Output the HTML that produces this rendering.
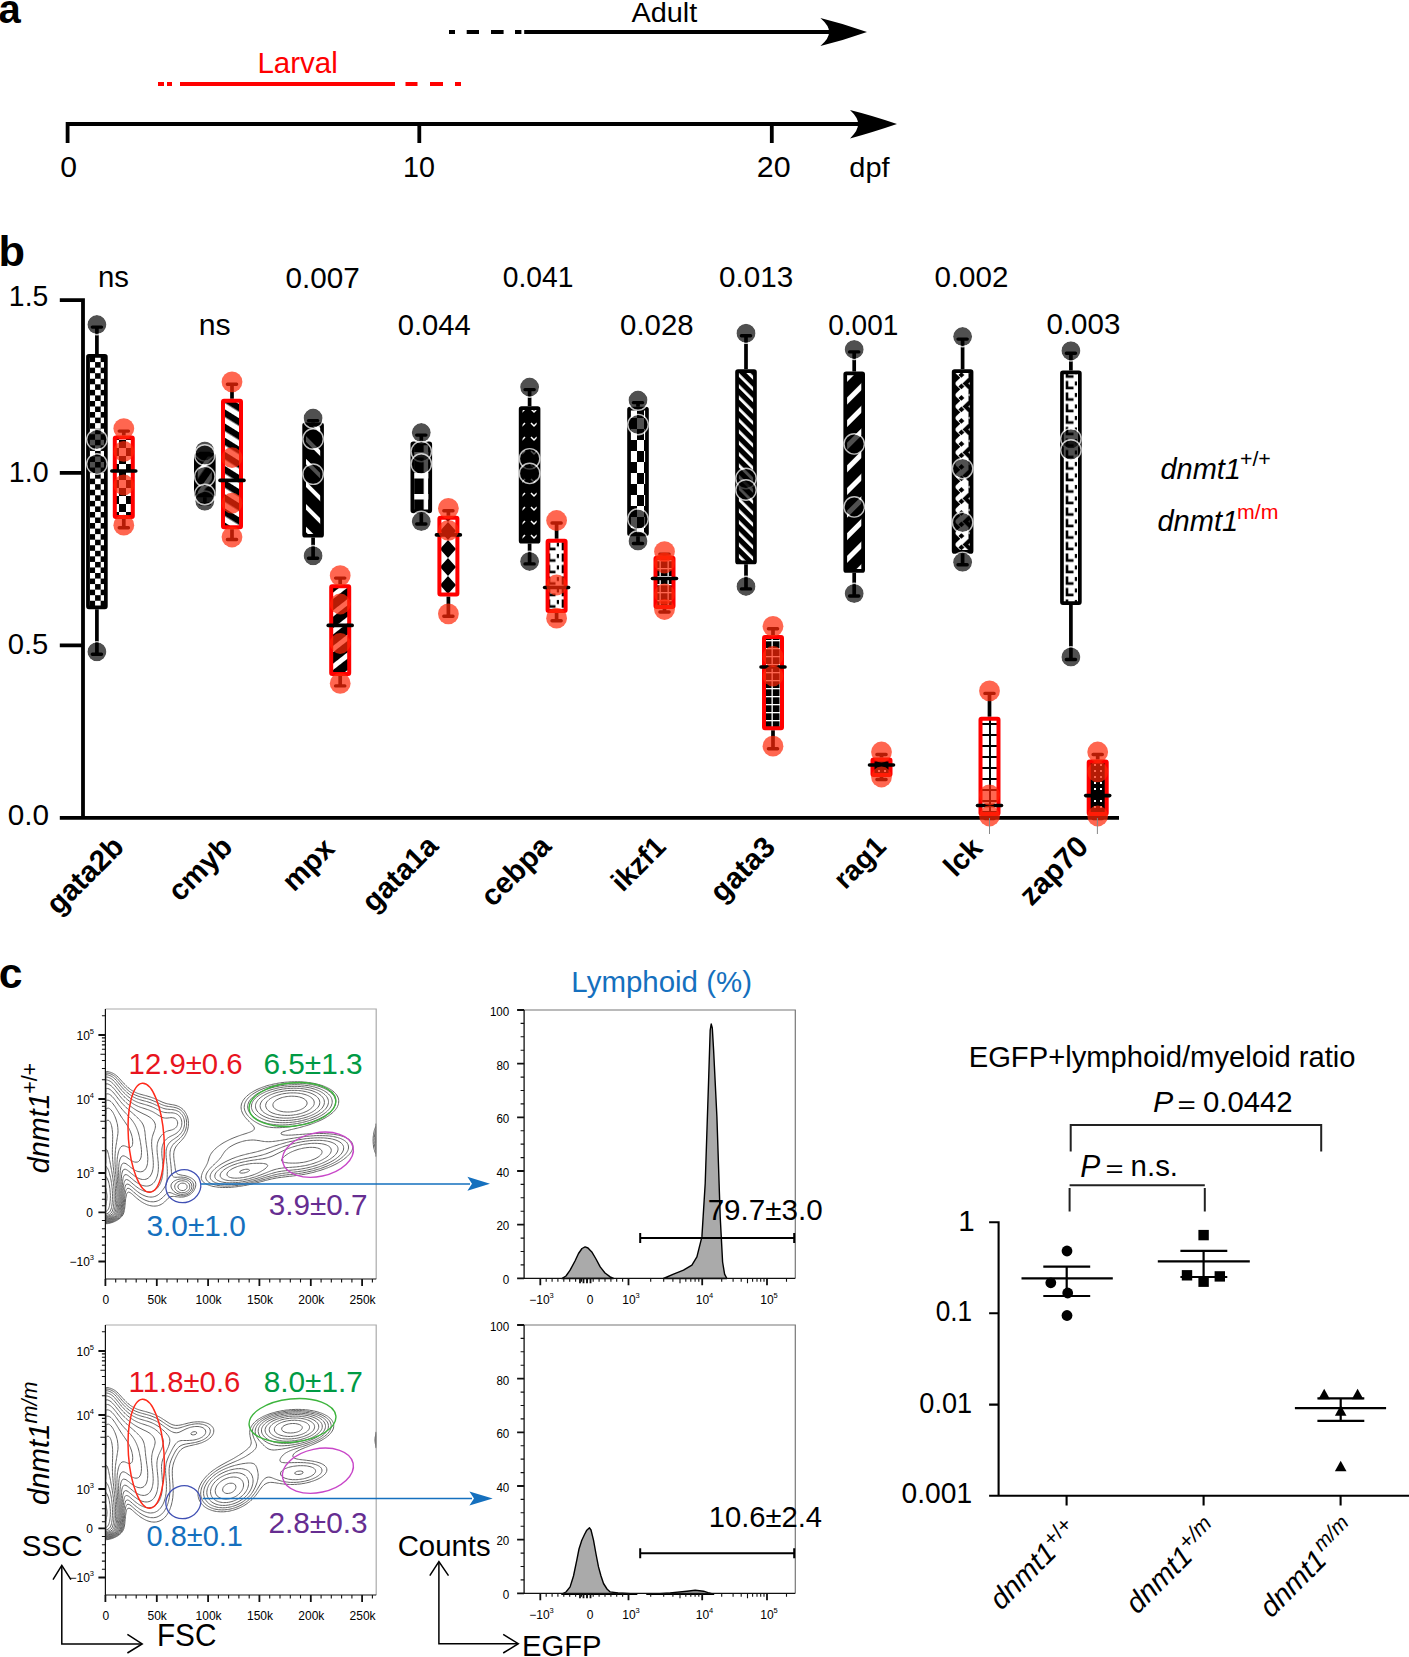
<!DOCTYPE html>
<html><head><meta charset="utf-8"><style>
html,body{margin:0;padding:0;background:#fff;}
svg{display:block;}
text{font-family:"Liberation Sans", sans-serif;}
</style></head><body>
<svg width="1409" height="1657" viewBox="0 0 1409 1657" font-family="&quot;Liberation Sans&quot;, sans-serif">
<defs><pattern id="chk5" x="95.1" y="362.1" patternUnits="userSpaceOnUse" width="11.1" height="11.1"><rect width="11.1" height="11.1" fill="#fff"/><rect width="5.55" height="5.55" fill="#000"/><rect x="5.55" y="5.55" width="5.55" height="5.55" fill="#000"/></pattern><pattern id="chk7" patternUnits="userSpaceOnUse" width="14" height="16"><rect width="14" height="16" fill="#fff"/><rect width="7" height="8" fill="#000"/><rect x="7" y="8" width="7" height="8" fill="#000"/></pattern><pattern id="dgR" patternUnits="userSpaceOnUse" width="12" height="12" patternTransform="rotate(-58)"><rect width="12" height="12" fill="#000"/><rect width="5.5" height="12" fill="#fff"/><rect x="5.5" width="0" height="12"/></pattern><pattern id="dgB" patternUnits="userSpaceOnUse" width="12" height="12" patternTransform="rotate(35)"><rect width="12" height="12" fill="#000"/><rect width="4.5" height="12" fill="#fff"/></pattern><pattern id="dgC" patternUnits="userSpaceOnUse" width="16" height="16" patternTransform="rotate(45)"><rect width="16" height="16" fill="#000"/><rect width="5" height="16" fill="#fff"/></pattern><pattern id="blkE" patternUnits="userSpaceOnUse" width="14.1" height="21" x="414.2" y="473"><rect width="14.1" height="21" fill="#000"/><rect x="9.5" width="5" height="21" fill="#fff"/><rect width="10" height="5.5" fill="#fff"/></pattern><pattern id="dgM" patternUnits="userSpaceOnUse" width="16" height="16" patternTransform="rotate(-45)"><rect width="16" height="16" fill="#000"/><rect width="4" height="16" fill="#fff"/></pattern><pattern id="dgMR" patternUnits="userSpaceOnUse" width="14" height="14" patternTransform="rotate(52)"><rect width="14" height="14" fill="#000"/><rect width="5" height="14" fill="#fff"/></pattern><pattern id="dgA" patternUnits="userSpaceOnUse" width="8" height="8" patternTransform="rotate(-45)"><rect width="8" height="8" fill="#000"/><rect width="2.8" height="8" fill="#fff"/></pattern><pattern id="blkv" patternUnits="userSpaceOnUse" width="12" height="14"><rect width="12" height="14" fill="#000"/><path d="M3 3 l3 3 l3 -3" stroke="#fff" stroke-width="1.5" fill="none"/></pattern><pattern id="Lw" patternUnits="userSpaceOnUse" width="14" height="11.5"><rect width="14" height="11.5" fill="#fff"/><path d="M3 1.5 v7 h6.5" stroke="#000" stroke-width="2.6" fill="none"/><rect x="10.8" y="2" width="2.2" height="4" fill="#000"/></pattern><pattern id="zig" patternUnits="userSpaceOnUse" width="14.2" height="23" x="954.3" y="372"><rect width="14.2" height="23" fill="#fff"/><path d="M0 0 L6 5.75 L0 11.5 Z M14.2 5.75 L8.2 11.5 L14.2 17.25 Z M0 11.5 L6 17.25 L0 23 Z" fill="#000"/><path d="M7.1 0 L10 2.9 L7.1 5.8 L4.2 2.9 Z M7.1 11.5 L10 14.4 L7.1 17.3 L4.2 14.4 Z" fill="#000"/></pattern><pattern id="ladder" patternUnits="userSpaceOnUse" width="20" height="11"><rect width="20" height="11" fill="#fff"/><rect x="0" y="8" width="20" height="2" fill="#000"/><rect x="9" y="0" width="2" height="11" fill="#000"/></pattern><pattern id="grid" patternUnits="userSpaceOnUse" width="8" height="8"><rect width="8" height="8" fill="#000"/><rect x="0" y="0" width="8" height="1.3" fill="#fff"/><rect x="3.5" y="0" width="1.3" height="8" fill="#fff"/></pattern><pattern id="dots" patternUnits="userSpaceOnUse" width="6" height="6"><rect width="6" height="6" fill="#000"/><rect x="2" y="2" width="2" height="2" fill="#fff"/></pattern><pattern id="blocks" patternUnits="userSpaceOnUse" width="14" height="22"><rect width="14" height="22" fill="#fff"/><rect x="0" y="0" width="7" height="11" fill="#000"/><rect x="7" y="11" width="7" height="11" fill="#000"/></pattern><pattern id="xdia" patternUnits="userSpaceOnUse" width="16" height="18"><rect width="16" height="18" fill="#000"/><path d="M0 0 L8 9 L16 0 Z M0 18 L8 9 L16 18 Z" fill="#fff"/></pattern><pattern id="blkw" patternUnits="userSpaceOnUse" width="20" height="30"><rect width="20" height="30" fill="#000"/><rect x="6" y="8" width="5" height="14" fill="#fff"/></pattern></defs>
<rect width="1409" height="1657" fill="#fff"/>
<text x="-1.50" y="22.60" font-size="40.00" font-weight="bold">a</text>
<path d="M67.6 143 V124 H858" stroke="#000" stroke-width="3.8" fill="none"/>
<path d="M419.3 124 V143 M771.8 124 V143" stroke="#000" stroke-width="3.8" fill="none"/>
<path d="M897 124 Q872 115.5 850 110 Q858.5 118 858 124 Q858.5 130 850 138.5 Q872 132.5 897 124 Z" fill="#000"/>
<text transform="translate(60.19 177.40) scale(1 0.980)" font-size="30.16">0</text>
<text transform="translate(402.95 177.11) scale(1 1.016)" font-size="28.67">10</text>
<text transform="translate(756.78 177.20) scale(1 0.971)" font-size="30.42">20</text>
<text transform="translate(849.37 176.88) scale(1 0.985)" font-size="28.96">dpf</text>
<path d="M158 84 H164 M167 84 H172 M180 84 H395 M405.5 84 H417.5 M430 84 H443 M455 84 H461" stroke="#ff0000" stroke-width="3.8" fill="none"/>
<text transform="translate(257.47 72.70) scale(1 1.014)" font-size="29.51" fill="#ff0000">Larval</text>
<path d="M449 32 H455 M466.7 32 H479 M491 32 H503.6 M515 32 H521.4 M524.2 32 H830" stroke="#000" stroke-width="3.8" fill="none"/>
<path d="M867 32 Q843 23.5 820.4 18 Q829.5 26 829 32 Q829.5 38 820.4 46 Q843 40.5 867 32 Z" fill="#000"/>
<text transform="translate(631.43 21.62) scale(1 0.984)" font-size="28.90">Adult</text>
<text x="-1.52" y="265.67" font-size="43.37" font-weight="bold">b</text>
<path d="M59.8 300.1 H83 V818 M59.8 472.8 H83 M59.8 645.4 H83 M59.8 817.9 H1119" stroke="#000" stroke-width="3.8" fill="none"/>
<text transform="translate(8.87 306.40) scale(1 1.045)" font-size="28.39">1.5</text>
<text transform="translate(8.85 481.51) scale(1 1.026)" font-size="28.65">1.0</text>
<text x="7.73" y="654.41" font-size="29.24">0.5</text>
<text x="7.71" y="825.40" font-size="29.71">0.0</text>
<text transform="translate(98.02 287.30) scale(1 1.025)" font-size="29.40">ns</text>
<text x="285.51" y="287.51" font-size="29.68">0.007</text>
<text transform="translate(502.77 287.21) scale(1 1.031)" font-size="28.24">0.041</text>
<text transform="translate(719.11 287.21) scale(1 0.983)" font-size="29.63">0.013</text>
<text transform="translate(934.42 287.21) scale(1 0.985)" font-size="29.55">0.002</text>
<text x="198.66" y="334.50" font-size="30.24">ns</text>
<text x="397.73" y="334.51" font-size="29.16">0.044</text>
<text x="620.12" y="334.51" font-size="29.38">0.028</text>
<text transform="translate(828.18 334.51) scale(1 1.039)" font-size="28.03">0.001</text>
<text transform="translate(1046.52 334.31) scale(1 0.977)" font-size="29.50">0.003</text>
<text transform="translate(58.25 915.88) rotate(-45)" font-size="29.54" font-weight="bold">gata2b</text>
<text transform="translate(179.99 902.75) rotate(-45)" font-size="29.31" font-weight="bold">cmyb</text>
<text transform="translate(293.89 892.75) rotate(-45)" font-size="29.19" font-weight="bold">mpx</text>
<text transform="translate(373.80 913.55) rotate(-45)" font-size="29.46" font-weight="bold">gata1a</text>
<text transform="translate(492.64 907.92) rotate(-45)" font-size="29.41" font-weight="bold">cebpa</text>
<text transform="translate(622.66 893.06) rotate(-45)" font-size="28.45" font-weight="bold">ikzf1</text>
<text transform="translate(722.09 903.70) rotate(-45)" font-size="29.65" font-weight="bold">gata3</text>
<text transform="translate(845.25 890.43) rotate(-45)" font-size="28.37" font-weight="bold">rag1</text>
<text transform="translate(955.38 878.34) rotate(-45)" font-size="29.13" font-weight="bold">lck</text>
<text transform="translate(1031.38 906.93) rotate(-45)" font-size="29.83" font-weight="bold">zap70</text>
<text x="1160.46" y="479.01" font-size="28.96" font-style="italic">dnmt1</text>
<text transform="translate(1239.93 466.49) scale(1 0.987)" font-size="21.37">+/+</text>
<text transform="translate(1157.46 531.41) scale(1 1.012)" font-size="29.03" font-style="italic">dnmt1</text>
<text transform="translate(1237.06 518.59) scale(1 0.966)" font-size="21.27" fill="#ff0000">m/m</text>
<path d="M96.9 327.1 V354 M96.9 609.2 V654.3" stroke="#000" stroke-width="3.7" fill="none"/><path d="M92.30000000000001 327.1 H101.5 M92.30000000000001 654.3 H101.5" stroke="#000" stroke-width="3.4" stroke-linecap="round" fill="none"/><rect x="87.95" y="355.85" width="17.90" height="251.50" rx="1" fill="url(#chk5)" stroke="#000" stroke-width="3.7"/><circle cx="96.9" cy="324.6" r="9.5" fill="rgba(0,0,0,0.686)"/><circle cx="96.9" cy="324.6" r="10.2" fill="none" stroke="rgba(255,255,255,0.75)" stroke-width="1.4"/><circle cx="96.9" cy="651.8" r="9.5" fill="rgba(0,0,0,0.686)"/><circle cx="96.9" cy="651.8" r="10.2" fill="none" stroke="rgba(255,255,255,0.75)" stroke-width="1.4"/><circle cx="96.9" cy="439.6" r="9.5" fill="rgba(0,0,0,0.686)"/><circle cx="96.9" cy="439.6" r="10.2" fill="none" stroke="rgba(255,255,255,0.75)" stroke-width="1.4"/><circle cx="96.9" cy="464" r="9.5" fill="rgba(0,0,0,0.686)"/><circle cx="96.9" cy="464" r="10.2" fill="none" stroke="rgba(255,255,255,0.75)" stroke-width="1.4"/>
<path d="M204.8 453.4 V452.9 M204.8 497.3 V503.7" stroke="#000" stroke-width="3.7" fill="none"/><path d="M200.20000000000002 453.4 H209.4 M200.20000000000002 503.7 H209.4" stroke="#000" stroke-width="3.4" stroke-linecap="round" fill="none"/><rect x="195.85" y="454.75" width="17.90" height="40.70" rx="1" fill="url(#dgB)" stroke="#000" stroke-width="3.7"/><circle cx="204.8" cy="450.9" r="9.5" fill="rgba(0,0,0,0.686)"/><circle cx="204.8" cy="450.9" r="10.2" fill="none" stroke="rgba(255,255,255,0.75)" stroke-width="1.4"/><circle cx="204.8" cy="501.2" r="9.5" fill="rgba(0,0,0,0.686)"/><circle cx="204.8" cy="501.2" r="10.2" fill="none" stroke="rgba(255,255,255,0.75)" stroke-width="1.4"/><circle cx="204.8" cy="455" r="9.5" fill="rgba(0,0,0,0.686)"/><circle cx="204.8" cy="455" r="10.2" fill="none" stroke="rgba(255,255,255,0.75)" stroke-width="1.4"/><circle cx="204.8" cy="476.5" r="9.5" fill="rgba(0,0,0,0.686)"/><circle cx="204.8" cy="476.5" r="10.2" fill="none" stroke="rgba(255,255,255,0.75)" stroke-width="1.4"/><circle cx="204.8" cy="494.5" r="9.5" fill="rgba(0,0,0,0.686)"/><circle cx="204.8" cy="494.5" r="10.2" fill="none" stroke="rgba(255,255,255,0.75)" stroke-width="1.4"/>
<path d="M313.1 420.6 V422.6 M313.1 537.6 V558.2" stroke="#000" stroke-width="3.7" fill="none"/><path d="M308.5 420.6 H317.70000000000005 M308.5 558.2 H317.70000000000005" stroke="#000" stroke-width="3.4" stroke-linecap="round" fill="none"/><rect x="304.15" y="424.45" width="17.90" height="111.30" rx="1" fill="url(#dgM)" stroke="#000" stroke-width="3.7"/><circle cx="313.1" cy="418.1" r="9.5" fill="rgba(0,0,0,0.686)"/><circle cx="313.1" cy="418.1" r="10.2" fill="none" stroke="rgba(255,255,255,0.75)" stroke-width="1.4"/><circle cx="313.1" cy="555.7" r="9.5" fill="rgba(0,0,0,0.686)"/><circle cx="313.1" cy="555.7" r="10.2" fill="none" stroke="rgba(255,255,255,0.75)" stroke-width="1.4"/><circle cx="313.1" cy="439" r="9.5" fill="rgba(0,0,0,0.686)"/><circle cx="313.1" cy="439" r="10.2" fill="none" stroke="rgba(255,255,255,0.75)" stroke-width="1.4"/><circle cx="313.1" cy="474.2" r="9.5" fill="rgba(0,0,0,0.686)"/><circle cx="313.1" cy="474.2" r="10.2" fill="none" stroke="rgba(255,255,255,0.75)" stroke-width="1.4"/>
<path d="M421.3 435.1 V441.6 M421.3 513.2 V524.0" stroke="#000" stroke-width="3.7" fill="none"/><path d="M416.7 435.1 H425.90000000000003 M416.7 524.0 H425.90000000000003" stroke="#000" stroke-width="3.4" stroke-linecap="round" fill="none"/><rect x="412.35" y="443.45" width="17.90" height="67.90" rx="1" fill="url(#blkE)" stroke="#000" stroke-width="3.7"/><circle cx="421.3" cy="432.6" r="9.5" fill="rgba(0,0,0,0.686)"/><circle cx="421.3" cy="432.6" r="10.2" fill="none" stroke="rgba(255,255,255,0.75)" stroke-width="1.4"/><circle cx="421.3" cy="521.5" r="9.5" fill="rgba(0,0,0,0.686)"/><circle cx="421.3" cy="521.5" r="10.2" fill="none" stroke="rgba(255,255,255,0.75)" stroke-width="1.4"/><circle cx="421.3" cy="451.6" r="9.5" fill="rgba(0,0,0,0.686)"/><circle cx="421.3" cy="451.6" r="10.2" fill="none" stroke="rgba(255,255,255,0.75)" stroke-width="1.4"/><circle cx="421.3" cy="464" r="9.5" fill="rgba(0,0,0,0.686)"/><circle cx="421.3" cy="464" r="10.2" fill="none" stroke="rgba(255,255,255,0.75)" stroke-width="1.4"/>
<path d="M529.6 389.6 V406.2 M529.6 543.5 V563.9" stroke="#000" stroke-width="3.7" fill="none"/><path d="M525.0 389.6 H534.2 M525.0 563.9 H534.2" stroke="#000" stroke-width="3.4" stroke-linecap="round" fill="none"/><rect x="520.65" y="408.05" width="17.90" height="133.60" rx="1" fill="url(#blkv)" stroke="#000" stroke-width="3.7"/><circle cx="529.6" cy="387.1" r="9.5" fill="rgba(0,0,0,0.686)"/><circle cx="529.6" cy="387.1" r="10.2" fill="none" stroke="rgba(255,255,255,0.75)" stroke-width="1.4"/><circle cx="529.6" cy="561.4" r="9.5" fill="rgba(0,0,0,0.686)"/><circle cx="529.6" cy="561.4" r="10.2" fill="none" stroke="rgba(255,255,255,0.75)" stroke-width="1.4"/><circle cx="529.6" cy="458.8" r="9.5" fill="rgba(0,0,0,0.686)"/><circle cx="529.6" cy="458.8" r="10.2" fill="none" stroke="rgba(255,255,255,0.75)" stroke-width="1.4"/><circle cx="529.6" cy="473.4" r="9.5" fill="rgba(0,0,0,0.686)"/><circle cx="529.6" cy="473.4" r="10.2" fill="none" stroke="rgba(255,255,255,0.75)" stroke-width="1.4"/>
<path d="M638.0 402.6 V406.7 M638.0 536.2 V543.5" stroke="#000" stroke-width="3.7" fill="none"/><path d="M633.4 402.6 H642.6 M633.4 543.5 H642.6" stroke="#000" stroke-width="3.4" stroke-linecap="round" fill="none"/><rect x="629.05" y="408.55" width="17.90" height="125.80" rx="1" fill="url(#blocks)" stroke="#000" stroke-width="3.7"/><circle cx="638.0" cy="400.1" r="9.5" fill="rgba(0,0,0,0.686)"/><circle cx="638.0" cy="400.1" r="10.2" fill="none" stroke="rgba(255,255,255,0.75)" stroke-width="1.4"/><circle cx="638.0" cy="541" r="9.5" fill="rgba(0,0,0,0.686)"/><circle cx="638.0" cy="541" r="10.2" fill="none" stroke="rgba(255,255,255,0.75)" stroke-width="1.4"/><circle cx="638.0" cy="424.6" r="9.5" fill="rgba(0,0,0,0.686)"/><circle cx="638.0" cy="424.6" r="10.2" fill="none" stroke="rgba(255,255,255,0.75)" stroke-width="1.4"/><circle cx="638.0" cy="519" r="9.5" fill="rgba(0,0,0,0.686)"/><circle cx="638.0" cy="519" r="10.2" fill="none" stroke="rgba(255,255,255,0.75)" stroke-width="1.4"/>
<path d="M746.0 335.7 V369.2 M746.0 564.3 V588.9" stroke="#000" stroke-width="3.7" fill="none"/><path d="M741.4 335.7 H750.6 M741.4 588.9 H750.6" stroke="#000" stroke-width="3.4" stroke-linecap="round" fill="none"/><rect x="737.05" y="371.05" width="17.90" height="191.40" rx="1" fill="url(#dgA)" stroke="#000" stroke-width="3.7"/><circle cx="746.0" cy="333.2" r="9.5" fill="rgba(0,0,0,0.686)"/><circle cx="746.0" cy="333.2" r="10.2" fill="none" stroke="rgba(255,255,255,0.75)" stroke-width="1.4"/><circle cx="746.0" cy="586.4" r="9.5" fill="rgba(0,0,0,0.686)"/><circle cx="746.0" cy="586.4" r="10.2" fill="none" stroke="rgba(255,255,255,0.75)" stroke-width="1.4"/><circle cx="746.0" cy="478.5" r="9.5" fill="rgba(0,0,0,0.686)"/><circle cx="746.0" cy="478.5" r="10.2" fill="none" stroke="rgba(255,255,255,0.75)" stroke-width="1.4"/><circle cx="746.0" cy="490" r="9.5" fill="rgba(0,0,0,0.686)"/><circle cx="746.0" cy="490" r="10.2" fill="none" stroke="rgba(255,255,255,0.75)" stroke-width="1.4"/>
<path d="M854.2 351.9 V371.5 M854.2 572.8 V596.0" stroke="#000" stroke-width="3.7" fill="none"/><path d="M849.6 351.9 H858.8000000000001 M849.6 596.0 H858.8000000000001" stroke="#000" stroke-width="3.4" stroke-linecap="round" fill="none"/><rect x="845.25" y="373.35" width="17.90" height="197.60" rx="1" fill="url(#dgC)" stroke="#000" stroke-width="3.7"/><circle cx="854.2" cy="349.4" r="9.5" fill="rgba(0,0,0,0.686)"/><circle cx="854.2" cy="349.4" r="10.2" fill="none" stroke="rgba(255,255,255,0.75)" stroke-width="1.4"/><circle cx="854.2" cy="593.5" r="9.5" fill="rgba(0,0,0,0.686)"/><circle cx="854.2" cy="593.5" r="10.2" fill="none" stroke="rgba(255,255,255,0.75)" stroke-width="1.4"/><circle cx="854.2" cy="443.9" r="9.5" fill="rgba(0,0,0,0.686)"/><circle cx="854.2" cy="443.9" r="10.2" fill="none" stroke="rgba(255,255,255,0.75)" stroke-width="1.4"/><circle cx="854.2" cy="506.9" r="9.5" fill="rgba(0,0,0,0.686)"/><circle cx="854.2" cy="506.9" r="10.2" fill="none" stroke="rgba(255,255,255,0.75)" stroke-width="1.4"/>
<path d="M962.6 339.1 V369.2 M962.6 553.8 V564.8" stroke="#000" stroke-width="3.7" fill="none"/><path d="M958.0 339.1 H967.2 M958.0 564.8 H967.2" stroke="#000" stroke-width="3.4" stroke-linecap="round" fill="none"/><rect x="953.65" y="371.05" width="17.90" height="180.90" rx="1" fill="url(#zig)" stroke="#000" stroke-width="3.7"/><circle cx="962.6" cy="336.6" r="9.5" fill="rgba(0,0,0,0.686)"/><circle cx="962.6" cy="336.6" r="10.2" fill="none" stroke="rgba(255,255,255,0.75)" stroke-width="1.4"/><circle cx="962.6" cy="562.3" r="9.5" fill="rgba(0,0,0,0.686)"/><circle cx="962.6" cy="562.3" r="10.2" fill="none" stroke="rgba(255,255,255,0.75)" stroke-width="1.4"/><circle cx="962.6" cy="468.6" r="9.5" fill="rgba(0,0,0,0.686)"/><circle cx="962.6" cy="468.6" r="10.2" fill="none" stroke="rgba(255,255,255,0.75)" stroke-width="1.4"/><circle cx="962.6" cy="522.5" r="9.5" fill="rgba(0,0,0,0.686)"/><circle cx="962.6" cy="522.5" r="10.2" fill="none" stroke="rgba(255,255,255,0.75)" stroke-width="1.4"/>
<path d="M1070.9 353.3 V370.6 M1070.9 604.9 V659.5" stroke="#000" stroke-width="3.7" fill="none"/><path d="M1066.3000000000002 353.3 H1075.5 M1066.3000000000002 659.5 H1075.5" stroke="#000" stroke-width="3.4" stroke-linecap="round" fill="none"/><rect x="1061.95" y="372.45" width="17.90" height="230.60" rx="1" fill="url(#Lw)" stroke="#000" stroke-width="3.7"/><circle cx="1070.9" cy="350.8" r="9.5" fill="rgba(0,0,0,0.686)"/><circle cx="1070.9" cy="350.8" r="10.2" fill="none" stroke="rgba(255,255,255,0.75)" stroke-width="1.4"/><circle cx="1070.9" cy="657" r="9.5" fill="rgba(0,0,0,0.686)"/><circle cx="1070.9" cy="657" r="10.2" fill="none" stroke="rgba(255,255,255,0.75)" stroke-width="1.4"/><circle cx="1070.9" cy="438.8" r="9.5" fill="rgba(0,0,0,0.686)"/><circle cx="1070.9" cy="438.8" r="10.2" fill="none" stroke="rgba(255,255,255,0.75)" stroke-width="1.4"/><circle cx="1070.9" cy="450" r="9.5" fill="rgba(0,0,0,0.686)"/><circle cx="1070.9" cy="450" r="10.2" fill="none" stroke="rgba(255,255,255,0.75)" stroke-width="1.4"/>
<path d="M123.8 431.1 V435.5 M123.8 518.9 V527.7" stroke="#000" stroke-width="3.7" fill="none"/><path d="M119.2 431.1 H128.4 M119.2 527.7 H128.4" stroke="#000" stroke-width="3.4" stroke-linecap="round" fill="none"/><rect x="114.80" y="437.50" width="18.00" height="79.40" rx="1" fill="url(#chk7)" stroke="#ff0000" stroke-width="4.0"/><path d="M111.8 471 H135.8" stroke="#000" stroke-width="3.6" stroke-linecap="round"/><circle cx="123.8" cy="428.6" r="10.4" fill="rgba(255,39,8,0.71)"/><circle cx="123.8" cy="525.2" r="10.4" fill="rgba(255,39,8,0.71)"/><circle cx="123.8" cy="451.4" r="10.4" fill="rgba(255,39,8,0.71)"/><circle cx="123.8" cy="485" r="10.4" fill="rgba(255,39,8,0.71)"/>
<path d="M232.0 384.3 V398.7 M232.0 529.2 V539.5" stroke="#000" stroke-width="3.7" fill="none"/><path d="M227.4 384.3 H236.6 M227.4 539.5 H236.6" stroke="#000" stroke-width="3.4" stroke-linecap="round" fill="none"/><rect x="223.00" y="400.70" width="18.00" height="126.50" rx="1" fill="url(#dgR)" stroke="#ff0000" stroke-width="4.0"/><path d="M220.0 480.4 H244.0" stroke="#000" stroke-width="3.6" stroke-linecap="round"/><circle cx="232.0" cy="381.8" r="10.4" fill="rgba(255,39,8,0.71)"/><circle cx="232.0" cy="537" r="10.4" fill="rgba(255,39,8,0.71)"/><circle cx="232.0" cy="457.7" r="10.4" fill="rgba(255,39,8,0.71)"/><circle cx="232.0" cy="503.2" r="10.4" fill="rgba(255,39,8,0.71)"/>
<path d="M340.2 578.1 V584.3 M340.2 676 V685.9" stroke="#000" stroke-width="3.7" fill="none"/><path d="M335.59999999999997 578.1 H344.8 M335.59999999999997 685.9 H344.8" stroke="#000" stroke-width="3.4" stroke-linecap="round" fill="none"/><rect x="331.20" y="586.30" width="18.00" height="87.70" rx="1" fill="url(#dgMR)" stroke="#ff0000" stroke-width="4.0"/><path d="M328.2 625.4 H352.2" stroke="#000" stroke-width="3.6" stroke-linecap="round"/><circle cx="340.2" cy="575.6" r="10.4" fill="rgba(255,39,8,0.71)"/><circle cx="340.2" cy="683.4" r="10.4" fill="rgba(255,39,8,0.71)"/><circle cx="340.2" cy="604" r="10.4" fill="rgba(255,39,8,0.71)"/><circle cx="340.2" cy="643.5" r="10.4" fill="rgba(255,39,8,0.71)"/>
<path d="M448.4 510.8 V515.8 M448.4 596.5 V616.3" stroke="#000" stroke-width="3.7" fill="none"/><path d="M443.79999999999995 510.8 H453.0 M443.79999999999995 616.3 H453.0" stroke="#000" stroke-width="3.4" stroke-linecap="round" fill="none"/><rect x="439.40" y="517.80" width="18.00" height="76.70" rx="1" fill="url(#xdia)" stroke="#ff0000" stroke-width="4.0"/><path d="M436.4 534.9 H460.4" stroke="#000" stroke-width="3.6" stroke-linecap="round"/><circle cx="448.4" cy="508.3" r="10.4" fill="rgba(255,39,8,0.71)"/><circle cx="448.4" cy="613.8" r="10.4" fill="rgba(255,39,8,0.71)"/><circle cx="448.4" cy="530.3" r="10.4" fill="rgba(255,39,8,0.71)"/>
<path d="M556.6 523.0 V538.8 M556.6 613 V620.7" stroke="#000" stroke-width="3.7" fill="none"/><path d="M552.0 523.0 H561.2 M552.0 620.7 H561.2" stroke="#000" stroke-width="3.4" stroke-linecap="round" fill="none"/><rect x="547.60" y="540.80" width="18.00" height="70.20" rx="1" fill="url(#Lw)" stroke="#ff0000" stroke-width="4.0"/><path d="M544.6 587.5 H568.6" stroke="#000" stroke-width="3.6" stroke-linecap="round"/><circle cx="556.6" cy="520.5" r="10.4" fill="rgba(255,39,8,0.71)"/><circle cx="556.6" cy="618.2" r="10.4" fill="rgba(255,39,8,0.71)"/><circle cx="556.6" cy="585" r="10.4" fill="rgba(255,39,8,0.71)"/>
<path d="M664.5 554.1 V555.7 M664.5 609 V612.0" stroke="#000" stroke-width="3.7" fill="none"/><path d="M659.9 554.1 H669.1 M659.9 612.0 H669.1" stroke="#000" stroke-width="3.4" stroke-linecap="round" fill="none"/><rect x="655.50" y="557.70" width="18.00" height="49.30" rx="1" fill="url(#grid)" stroke="#ff0000" stroke-width="4.0"/><path d="M652.5 578.5 H676.5" stroke="#000" stroke-width="3.6" stroke-linecap="round"/><circle cx="664.5" cy="551.6" r="10.4" fill="rgba(255,39,8,0.71)"/><circle cx="664.5" cy="609.5" r="10.4" fill="rgba(255,39,8,0.71)"/><circle cx="664.5" cy="563" r="10.4" fill="rgba(255,39,8,0.71)"/><circle cx="664.5" cy="594" r="10.4" fill="rgba(255,39,8,0.71)"/>
<path d="M773.0 628.8 V635 M773.0 730.3 V748.7" stroke="#000" stroke-width="3.7" fill="none"/><path d="M768.4 628.8 H777.6 M768.4 748.7 H777.6" stroke="#000" stroke-width="3.4" stroke-linecap="round" fill="none"/><rect x="764.00" y="637.00" width="18.00" height="91.30" rx="1" fill="url(#grid)" stroke="#ff0000" stroke-width="4.0"/><path d="M761.0 667 H785.0" stroke="#000" stroke-width="3.6" stroke-linecap="round"/><circle cx="773.0" cy="626.3" r="10.4" fill="rgba(255,39,8,0.71)"/><circle cx="773.0" cy="746.2" r="10.4" fill="rgba(255,39,8,0.71)"/><circle cx="773.0" cy="656.5" r="10.4" fill="rgba(255,39,8,0.71)"/><circle cx="773.0" cy="676" r="10.4" fill="rgba(255,39,8,0.71)"/>
<path d="M881.5 754.5 V757.6 M881.5 777 V779.5" stroke="#000" stroke-width="3.7" fill="none"/><path d="M876.9 754.5 H886.1 M876.9 779.5 H886.1" stroke="#000" stroke-width="3.4" stroke-linecap="round" fill="none"/><rect x="872.50" y="759.60" width="18.00" height="15.40" rx="1" fill="url(#dots)" stroke="#ff0000" stroke-width="4.0"/><path d="M869.5 765 H893.5" stroke="#000" stroke-width="3.6" stroke-linecap="round"/><circle cx="881.5" cy="752" r="10.4" fill="rgba(255,39,8,0.71)"/><circle cx="881.5" cy="777" r="10.4" fill="rgba(255,39,8,0.71)"/>
<path d="M989.5 693.4 V716.8 M989.5 816 V818.5" stroke="#000" stroke-width="3.7" fill="none"/><path d="M984.9 693.4 H994.1 M984.9 818.5 H994.1" stroke="#000" stroke-width="3.4" stroke-linecap="round" fill="none"/><rect x="980.50" y="718.80" width="18.00" height="95.20" rx="1" fill="url(#ladder)" stroke="#ff0000" stroke-width="4.0"/><path d="M977.5 805.5 H1001.5" stroke="#000" stroke-width="3.6" stroke-linecap="round"/><circle cx="989.5" cy="690.9" r="10.4" fill="rgba(255,39,8,0.71)"/><circle cx="989.5" cy="816" r="10.4" fill="rgba(255,39,8,0.71)"/><circle cx="989.5" cy="794.9" r="10.4" fill="rgba(255,39,8,0.71)"/>
<path d="M1097.7 754.5 V759.4 M1097.7 816 V818.5" stroke="#000" stroke-width="3.7" fill="none"/><path d="M1093.1000000000001 754.5 H1102.3 M1093.1000000000001 818.5 H1102.3" stroke="#000" stroke-width="3.4" stroke-linecap="round" fill="none"/><rect x="1088.70" y="761.40" width="18.00" height="52.60" rx="1" fill="url(#dots)" stroke="#ff0000" stroke-width="4.0"/><path d="M1085.7 795.6 H1109.7" stroke="#000" stroke-width="3.6" stroke-linecap="round"/><circle cx="1097.7" cy="752" r="10.4" fill="rgba(255,39,8,0.71)"/><circle cx="1097.7" cy="816" r="10.4" fill="rgba(255,39,8,0.71)"/><circle cx="1097.7" cy="771.8" r="10.4" fill="rgba(255,39,8,0.71)"/>
<path d="M989.5 818 V834 M1097.4 818 V834" stroke="#888" stroke-width="1"/>
<text x="-1.21" y="988.37" font-size="42.67" font-weight="bold">c</text>
<g fill="none" stroke="#555" stroke-width="0.9"><path d="M105.8 1074.0L105.8 1073.4L105.8 1072.9L105.8 1072.5L105.8 1072.1L105.8 1071.8L105.8 1071.6L105.8 1071.5L105.8 1071.5L106.5 1071.5L108.0 1071.7L109.3 1072.0L110.5 1072.3L111.5 1072.7L112.5 1073.1L113.5 1073.6L114.5 1074.2L115.5 1074.9L116.3 1075.5L117.0 1076.1L118.0 1077.0L118.5 1077.5L119.4 1078.5L120.0 1079.1L120.8 1080.0L121.5 1080.8L122.1 1081.5L123.0 1082.5L123.5 1083.0L124.4 1084.0L125.0 1084.6L125.9 1085.5L126.5 1086.1L127.5 1087.0L128.0 1087.5L129.0 1088.3L129.9 1089.0L130.5 1089.5L131.5 1090.2L132.5 1090.8L133.5 1091.4L134.5 1091.9L135.5 1092.4L136.5 1092.9L137.5 1093.3L138.5 1093.6L139.6 1094.0L141.0 1094.4L142.0 1094.7L143.2 1095.0L144.5 1095.3L145.5 1095.6L147.0 1096.0L148.0 1096.3L149.0 1096.6L150.3 1097.0L151.5 1097.4L152.5 1097.8L153.5 1098.1L154.5 1098.6L155.6 1099.0L156.7 1099.5L157.8 1100.0L158.9 1100.5L159.9 1101.0L161.0 1101.5L162.0 1102.0L163.0 1102.4L164.0 1102.8L165.0 1103.1L166.2 1103.5L167.5 1103.8L168.5 1104.0L170.0 1104.3L171.1 1104.5L172.5 1104.7L173.9 1105.0L175.0 1105.2L176.0 1105.5L177.4 1106.0L178.5 1106.4L179.5 1106.9L180.5 1107.5L181.2 1108.0L182.0 1108.6L183.0 1109.5L183.5 1110.0L184.4 1111.0L185.0 1111.9L185.5 1112.6L186.0 1113.5L186.5 1114.5L187.0 1115.6L187.5 1117.0L187.8 1118.0L188.0 1119.0L188.3 1120.5L188.4 1122.0L188.5 1123.5L188.4 1125.0L188.3 1126.5L188.0 1128.0L187.8 1129.0L187.5 1130.2L187.1 1131.5L186.7 1132.5L186.2 1133.5L185.7 1134.5L185.2 1135.5L184.6 1136.5L184.0 1137.3L183.5 1138.0L182.7 1139.0L182.0 1139.8L181.4 1140.5L180.5 1141.5L180.0 1142.0L179.0 1143.0L178.5 1143.5L177.6 1144.5L177.0 1145.3L176.4 1146.0L175.8 1147.0L175.2 1148.0L174.8 1149.0L174.4 1150.0L174.0 1151.5L173.9 1152.5L173.7 1154.0L173.7 1155.5L173.8 1157.0L173.9 1158.5L174.0 1159.5L174.2 1161.0L174.4 1162.5L174.6 1163.5L174.8 1165.0L175.0 1166.5L175.1 1167.5L175.3 1169.0L175.5 1170.5L175.7 1171.5L176.1 1172.5L176.9 1173.5L177.6 1174.0L178.7 1174.5L180.0 1174.8L181.0 1175.0L182.5 1175.3L183.8 1175.5L185.0 1175.7L186.1 1176.0L187.5 1176.4L188.5 1176.8L189.5 1177.2L190.5 1177.7L191.5 1178.2L192.5 1178.9L193.3 1179.5L194.0 1180.1L194.8 1181.0L195.3 1182.0L195.7 1183.0L195.8 1184.5L195.7 1186.0L195.4 1187.0L195.0 1188.3L194.5 1189.5L194.0 1190.4L193.5 1191.1L192.8 1192.0L192.0 1192.9L191.4 1193.5L190.5 1194.2L189.5 1194.9L188.5 1195.4L187.5 1195.9L186.5 1196.2L185.5 1196.5L184.0 1196.9L183.0 1197.0L181.5 1197.1L180.0 1197.1L178.5 1197.0L177.5 1196.9L176.0 1196.7L174.5 1196.5L173.5 1196.4L172.0 1196.4L171.0 1196.6L169.9 1197.0L169.0 1197.5L168.0 1198.4L167.4 1199.0L166.5 1200.0L166.0 1200.5L165.0 1201.5L164.5 1202.0L163.5 1202.8L162.6 1203.5L161.8 1204.0L161.0 1204.5L159.9 1205.0L158.5 1205.5L157.5 1205.8L156.1 1206.0L155.0 1206.1L153.5 1206.1L152.1 1206.0L151.0 1205.8L149.5 1205.5L148.5 1205.2L147.5 1204.9L146.5 1204.5L145.5 1204.0L144.5 1203.5L143.5 1203.0L142.5 1202.4L141.5 1201.8L140.5 1201.1L139.7 1200.5L139.0 1200.0L138.0 1199.2L137.1 1198.5L136.5 1198.0L135.5 1197.1L134.8 1196.5L134.0 1195.8L133.2 1195.0L132.5 1194.4L131.5 1193.6L130.7 1193.0L129.9 1192.5L128.5 1192.1L127.5 1192.6L126.9 1193.5L126.5 1194.6L126.2 1196.0L126.0 1197.0L125.7 1198.5L125.5 1200.0L125.4 1201.0L125.3 1202.5L125.1 1204.0L125.0 1205.3L124.9 1206.5L124.7 1208.0L124.5 1209.5L124.3 1210.5L124.0 1212.0L123.7 1213.0L123.3 1214.0L122.8 1215.0L122.1 1216.0L121.5 1216.7L120.8 1217.5L120.0 1218.2L119.0 1219.0L118.3 1219.5L117.5 1220.0L116.5 1220.6L115.5 1221.1L114.5 1221.6L113.5 1222.0L112.1 1222.5L111.0 1222.8L110.0 1223.1L108.5 1223.4L107.5 1223.6L106.0 1223.7L105.8 1223.8L105.8 1223.8L105.8 1223.7L105.8 1223.5L105.8 1223.3L105.8 1223.0L105.8 1222.7L105.8 1222.5"/><path d="M225.0 1187.5L224.0 1187.5L222.5 1187.5L221.0 1187.4L219.5 1187.3L218.0 1187.2L216.7 1187.0L215.5 1186.8L214.0 1186.6L213.0 1186.4L211.5 1186.0L210.5 1185.7L209.5 1185.4L208.4 1185.0L207.2 1184.5L206.2 1184.0L205.4 1183.5L204.5 1182.9L203.5 1182.1L202.8 1181.5L202.1 1180.5L201.6 1179.5L201.3 1178.5L201.3 1177.0L201.5 1175.6L201.8 1174.5L202.1 1173.5L202.5 1172.5L203.0 1171.5L203.5 1170.5L204.0 1169.5L204.6 1168.5L205.2 1167.5L205.8 1166.5L206.3 1165.5L206.8 1164.5L207.3 1163.5L207.7 1162.5L208.0 1161.5L208.5 1160.0L208.8 1159.0L209.1 1158.0L209.5 1156.8L210.0 1155.7L210.5 1154.7L211.0 1153.8L211.6 1153.0L212.3 1152.0L213.0 1151.2L213.6 1150.5L214.5 1149.6L215.1 1149.0L216.0 1148.2L216.8 1147.5L217.5 1146.9L218.5 1146.2L219.4 1145.5L220.1 1145.0L221.0 1144.4L222.0 1143.7L223.0 1143.1L224.0 1142.5L224.9 1142.0L225.9 1141.5L226.8 1141.0L227.8 1140.5L228.8 1140.0L229.8 1139.5L230.9 1139.0L232.0 1138.5L233.0 1138.1L234.0 1137.7L235.0 1137.3L236.0 1136.9L237.1 1136.5L238.4 1136.0L239.5 1135.6L240.5 1135.3L241.5 1134.9L242.8 1134.5L244.0 1134.1L245.0 1133.8L246.0 1133.5L247.4 1133.0L248.5 1132.6L249.5 1132.3L250.5 1131.9L251.5 1131.4L252.5 1130.9L253.5 1130.2L254.1 1129.5L254.4 1128.0L254.0 1127.0L253.3 1126.0L252.5 1125.0L252.0 1124.5L251.1 1123.5L250.5 1122.9L249.6 1122.0L249.0 1121.4L248.1 1120.5L247.5 1119.9L246.7 1119.0L246.0 1118.2L245.4 1117.5L244.6 1116.5L244.0 1115.6L243.5 1114.9L243.0 1114.0L242.5 1113.0L242.0 1112.0L241.5 1110.5L241.3 1109.5L241.1 1108.0L241.1 1106.5L241.3 1105.0L241.5 1104.0L242.0 1102.7L242.5 1101.6L243.0 1100.7L243.5 1099.9L244.2 1099.0L245.0 1098.0L245.5 1097.4L246.4 1096.5L247.0 1095.9L248.0 1095.1L248.7 1094.5L249.5 1093.9L250.5 1093.2L251.5 1092.5L252.4 1092.0L253.2 1091.5L254.1 1091.0L255.0 1090.5L256.0 1090.0L257.0 1089.5L258.1 1089.0L259.2 1088.5L260.5 1088.0L261.5 1087.6L262.5 1087.2L263.5 1086.9L264.6 1086.5L266.0 1086.0L267.0 1085.7L268.0 1085.4L269.5 1085.0L270.5 1084.8L271.6 1084.5L273.0 1084.2L274.0 1084.0L275.5 1083.7L276.5 1083.5L278.0 1083.2L279.3 1083.0L280.5 1082.8L282.0 1082.6L283.0 1082.5L284.5 1082.3L286.0 1082.2L287.5 1082.1L288.5 1082.0L290.0 1081.9L291.5 1081.8L293.0 1081.8L294.5 1081.8L296.0 1081.7L297.5 1081.8L299.0 1081.8L300.5 1081.8L302.0 1081.9L303.1 1082.0L304.5 1082.1L306.0 1082.2L307.5 1082.4L308.5 1082.5L310.0 1082.7L311.5 1083.0L312.5 1083.1L314.0 1083.4L315.0 1083.6L316.5 1084.0L317.5 1084.2L318.6 1084.5L320.0 1084.9L321.0 1085.2L322.0 1085.5L323.3 1086.0L324.5 1086.4L325.5 1086.9L326.5 1087.3L327.5 1087.8L328.5 1088.3L329.5 1088.8L330.5 1089.4L331.4 1090.0L332.1 1090.5L333.0 1091.2L334.0 1092.0L334.5 1092.5L335.5 1093.5L336.0 1094.1L336.6 1095.0L337.3 1096.0L337.8 1097.0L338.2 1098.0L338.5 1099.1L338.7 1100.5L338.7 1102.0L338.5 1103.5L338.3 1104.5L337.9 1105.5L337.5 1106.5L337.0 1107.5L336.3 1108.5L335.6 1109.5L335.0 1110.2L334.3 1111.0L333.5 1111.8L332.8 1112.5L332.0 1113.2L331.0 1114.0L330.4 1114.5L329.5 1115.1L328.5 1115.8L327.5 1116.5L326.7 1117.0L325.8 1117.5L325.0 1118.0L324.0 1118.5L323.0 1119.1L322.0 1119.6L321.0 1120.1L320.0 1120.5L319.0 1121.0L317.8 1121.5L316.6 1122.0L315.5 1122.5L314.5 1122.9L313.5 1123.2L312.5 1123.6L311.4 1124.0L310.0 1124.5L309.0 1124.8L308.0 1125.1L306.8 1125.5L305.5 1125.9L304.5 1126.2L303.4 1126.5L302.0 1126.9L301.0 1127.2L299.7 1127.5L298.5 1127.8L297.5 1128.1L296.0 1128.4L295.0 1128.7L293.6 1129.0L292.5 1129.3L291.5 1129.5L290.0 1129.9L289.0 1130.1L287.5 1130.5L286.5 1130.7L285.5 1131.0L284.0 1131.5L283.0 1131.8L282.0 1132.3L281.0 1133.0L281.0 1133.9L281.9 1134.5L283.0 1134.8L284.1 1135.0L285.5 1135.1L287.0 1135.2L288.5 1135.2L290.0 1135.1L291.5 1135.1L293.0 1135.0L294.0 1134.9L295.5 1134.8L297.0 1134.7L298.5 1134.6L299.6 1134.5L301.0 1134.4L302.5 1134.3L304.0 1134.2L305.5 1134.0L306.5 1134.0L308.0 1133.9L309.5 1133.8L311.0 1133.7L312.5 1133.6L314.0 1133.6L315.5 1133.5L317.0 1133.5L318.2 1133.5L319.5 1133.5L321.0 1133.5L322.0 1133.5L323.5 1133.5L325.0 1133.6L326.5 1133.7L328.0 1133.8L329.5 1133.9L330.9 1134.0L332.0 1134.1L333.5 1134.3L334.9 1134.5L336.0 1134.7L337.5 1135.0L338.5 1135.2L339.8 1135.5L341.0 1135.8L342.0 1136.1L343.2 1136.5L344.5 1137.0L345.5 1137.4L346.5 1137.9L347.5 1138.5L348.3 1139.0L349.0 1139.5L350.0 1140.3L350.7 1141.0L351.5 1142.0L352.0 1142.8L352.5 1143.9L352.8 1145.0L352.9 1146.5L352.8 1148.0L352.5 1149.0L352.0 1150.3L351.5 1151.3L351.0 1152.1L350.4 1153.0L349.6 1154.0L349.0 1154.7L348.2 1155.5L347.5 1156.2L346.6 1157.0L346.0 1157.5L345.0 1158.3L344.1 1159.0L343.5 1159.5L342.5 1160.2L341.5 1160.8L340.5 1161.5L339.6 1162.0L338.8 1162.5L337.9 1163.0L337.0 1163.5L336.0 1164.0L335.0 1164.5L334.0 1165.0L333.0 1165.5L331.9 1166.0L330.8 1166.5L329.6 1167.0L328.5 1167.5L327.5 1167.9L326.5 1168.2L325.5 1168.6L324.4 1169.0L323.0 1169.5L322.0 1169.8L321.0 1170.2L319.9 1170.5L318.5 1170.9L317.5 1171.2L316.5 1171.5L315.0 1171.9L314.0 1172.2L312.8 1172.5L311.5 1172.8L310.5 1173.0L309.0 1173.4L308.0 1173.6L306.5 1173.9L305.5 1174.1L304.0 1174.4L303.0 1174.5L301.5 1174.8L300.2 1175.0L299.0 1175.2L297.5 1175.4L296.5 1175.5L295.0 1175.7L293.5 1175.9L292.5 1176.0L291.0 1176.2L289.5 1176.3L288.0 1176.5L287.0 1176.6L285.5 1176.8L284.0 1177.0L283.0 1177.1L281.5 1177.3L280.0 1177.5L279.0 1177.6L277.5 1177.9L276.5 1178.0L275.0 1178.3L274.0 1178.5L272.5 1178.8L271.5 1179.0L270.0 1179.4L269.0 1179.6L267.5 1180.0L266.5 1180.3L265.5 1180.5L264.0 1180.9L263.0 1181.2L261.8 1181.5L260.5 1181.8L259.5 1182.1L258.0 1182.5L257.0 1182.8L256.0 1183.0L254.5 1183.4L253.5 1183.6L252.0 1184.0L251.0 1184.2L249.7 1184.5L248.5 1184.8L247.3 1185.0L246.0 1185.3L244.8 1185.5L243.5 1185.7L242.0 1186.0L241.0 1186.1L239.5 1186.4L238.5 1186.5L237.0 1186.7L235.5 1186.9L234.4 1187.0L233.0 1187.1L231.5 1187.3L230.0 1187.4L228.5 1187.4L227.0 1187.5L225.5 1187.5L225.0 1187.5"/><path d="M376.0 1156.5L376.0 1156.3L376.0 1155.5L376.0 1154.9L375.9 1154.0L375.4 1153.0L375.0 1152.0L374.5 1150.6L374.2 1149.5L373.9 1148.5L373.6 1147.0L373.5 1146.0L373.3 1144.5L373.2 1143.0L373.1 1141.5L373.1 1140.0L373.1 1138.5L373.2 1137.0L373.4 1135.5L373.5 1134.5L373.8 1133.0L374.0 1131.9L374.3 1130.5L374.6 1129.5L375.0 1128.4L375.5 1127.1L376.0 1126.1L376.0 1125.3L376.0 1124.5L376.0 1123.8L376.0 1123.7L376.0 1124.2L376.0 1125.0L376.0 1126.0L376.0 1127.0L376.0 1128.0L376.0 1129.0L376.0 1130.5L376.0 1131.5L376.0 1133.0L376.0 1134.0L376.0 1135.5L376.0 1137.0L376.0 1138.0L376.0 1139.5L376.0 1141.0L376.0 1142.2L376.0 1143.5L376.0 1145.0L376.0 1146.5L376.0 1147.5L376.0 1149.0L376.0 1150.0L376.0 1151.4L376.0 1152.5L376.0 1153.5L376.0 1154.5L376.0 1155.4L376.0 1156.0L376.0 1156.5L376.0 1156.5"/><path d="M105.8 1076.3L105.8 1075.5L105.8 1075.0L105.8 1074.5L105.8 1074.0L105.8 1073.5L105.8 1073.2L105.8 1073.0L105.8 1072.9L106.0 1072.9L107.0 1073.0L108.5 1073.3L109.5 1073.5L110.8 1074.0L111.9 1074.5L112.8 1075.0L113.6 1075.5L114.5 1076.1L115.5 1077.0L116.1 1077.5L117.0 1078.4L117.6 1079.0L118.5 1080.0L119.0 1080.6L119.7 1081.5L120.5 1082.4L121.0 1083.0L121.8 1084.0L122.5 1084.8L123.2 1085.5L124.0 1086.4L124.5 1087.0L125.5 1088.0L126.1 1088.5L127.0 1089.4L127.7 1090.0L128.5 1090.7L129.5 1091.5L130.2 1092.0L131.0 1092.5L132.0 1093.2L133.0 1093.8L134.0 1094.4L135.0 1094.9L136.0 1095.3L137.0 1095.7L138.0 1096.1L139.1 1096.5L140.5 1096.9L141.5 1097.2L142.6 1097.5L144.0 1097.9L145.0 1098.1L146.4 1098.5L147.5 1098.8L148.5 1099.1L149.8 1099.5L151.0 1099.9L152.0 1100.3L153.0 1100.7L154.0 1101.1L155.0 1101.5L156.2 1102.0L157.2 1102.5L158.3 1103.0L159.4 1103.5L160.4 1104.0L161.5 1104.5L162.5 1104.9L163.5 1105.3L164.5 1105.6L165.9 1106.0L167.0 1106.2L168.5 1106.5L169.5 1106.6L171.0 1106.8L172.4 1107.0L173.5 1107.2L175.0 1107.5L176.0 1107.8L177.0 1108.1L178.0 1108.5L179.0 1109.0L180.0 1109.6L181.0 1110.4L181.7 1111.0L182.5 1111.8L183.1 1112.5L183.8 1113.5L184.4 1114.5L185.0 1115.5L185.4 1116.5L185.8 1117.5L186.0 1118.5L186.4 1120.0L186.5 1121.0L186.6 1122.5L186.6 1124.0L186.5 1125.5L186.4 1126.5L186.1 1128.0L185.8 1129.0L185.5 1130.0L185.0 1131.2L184.5 1132.3L184.0 1133.2L183.5 1134.0L182.8 1135.0L182.0 1136.0L181.5 1136.6L180.7 1137.5L180.0 1138.2L179.1 1139.0L178.5 1139.6L177.5 1140.4L176.8 1141.0L176.0 1141.7L175.1 1142.5L174.5 1143.0L173.6 1144.0L173.0 1144.7L172.4 1145.5L171.8 1146.5L171.3 1147.5L170.8 1148.5L170.5 1149.6L170.2 1151.0L170.0 1152.5L170.0 1153.5L169.9 1155.0L170.0 1156.5L170.1 1157.5L170.2 1159.0L170.4 1160.5L170.5 1161.6L170.7 1163.0L170.8 1164.5L171.0 1166.0L171.1 1167.0L171.2 1168.5L171.3 1170.0L171.4 1171.5L171.5 1172.5L171.7 1174.0L172.0 1175.0L172.5 1176.0L173.5 1176.9L174.5 1177.2L176.0 1177.3L177.5 1177.2L179.0 1177.1L180.5 1177.1L182.0 1177.1L183.5 1177.3L184.8 1177.5L186.0 1177.8L187.0 1178.1L188.0 1178.5L189.0 1179.0L190.0 1179.6L191.0 1180.3L191.7 1181.0L192.5 1182.0L193.0 1182.8L193.5 1184.0L193.7 1185.0L193.7 1186.5L193.5 1187.6L193.1 1189.0L192.6 1190.0L192.0 1190.9L191.5 1191.5L190.6 1192.5L190.0 1193.0L189.0 1193.7L188.0 1194.3L187.0 1194.8L186.0 1195.1L184.6 1195.5L183.5 1195.7L182.0 1195.8L180.5 1195.8L179.0 1195.6L178.0 1195.4L176.5 1195.0L175.5 1194.7L174.5 1194.3L173.5 1193.9L172.5 1193.4L171.5 1193.0L170.0 1192.6L168.5 1192.6L167.4 1193.0L166.5 1193.7L165.6 1194.5L165.0 1195.1L164.2 1196.0L163.5 1196.7L162.7 1197.5L162.0 1198.1L161.0 1198.9L160.2 1199.5L159.4 1200.0L158.5 1200.5L157.3 1201.0L156.0 1201.4L155.0 1201.6L153.5 1201.8L152.0 1201.8L150.5 1201.7L149.4 1201.5L148.0 1201.2L147.0 1200.8L146.0 1200.5L144.9 1200.0L143.9 1199.5L142.9 1199.0L142.0 1198.5L141.0 1197.8L140.0 1197.2L139.0 1196.5L138.4 1196.0L137.5 1195.3L136.5 1194.5L135.9 1194.0L135.0 1193.2L134.1 1192.5L133.5 1191.9L132.5 1191.0L131.9 1190.5L131.0 1189.8L130.0 1189.0L129.1 1188.5L128.0 1188.2L127.0 1188.6L126.3 1189.5L125.9 1190.5L125.5 1192.0L125.3 1193.0L125.1 1194.5L125.0 1195.5L124.8 1197.0L124.7 1198.5L124.6 1200.0L124.5 1201.0L124.4 1202.5L124.3 1204.0L124.1 1205.5L124.0 1207.0L123.9 1208.0L123.7 1209.5L123.5 1210.6L123.2 1212.0L122.9 1213.0L122.5 1214.0L121.9 1215.0L121.2 1216.0L120.5 1216.9L119.8 1217.5L119.0 1218.2L118.0 1219.0L117.2 1219.5L116.3 1220.0L115.4 1220.5L114.3 1221.0L113.1 1221.5L112.0 1221.9L111.0 1222.2L109.9 1222.5L108.5 1222.8L107.1 1223.0L106.0 1223.1L105.8 1223.2L105.8 1223.2L105.8 1223.1L105.8 1222.9L105.8 1222.7L105.8 1222.4L105.8 1222.0L105.8 1221.9"/><path d="M282.5 1127.5L281.0 1127.6L279.5 1127.7L278.0 1127.7L276.5 1127.7L275.0 1127.7L273.5 1127.6L272.0 1127.5L271.0 1127.4L269.5 1127.2L268.2 1127.0L267.0 1126.8L265.9 1126.5L264.5 1126.1L263.5 1125.8L262.5 1125.5L261.3 1125.0L260.2 1124.5L259.1 1124.0L258.1 1123.5L257.2 1123.0L256.3 1122.5L255.5 1122.0L254.5 1121.4L253.5 1120.7L252.6 1120.0L251.9 1119.5L251.0 1118.8L250.1 1118.0L249.5 1117.4L248.6 1116.5L248.0 1115.8L247.3 1115.0L246.6 1114.0L246.0 1113.0L245.5 1112.1L245.0 1111.0L244.7 1110.0L244.4 1109.0L244.2 1107.5L244.3 1106.0L244.5 1104.7L244.8 1103.5L245.2 1102.5L245.7 1101.5L246.3 1100.5L247.0 1099.5L247.5 1098.9L248.2 1098.0L249.0 1097.2L249.7 1096.5L250.5 1095.8L251.5 1095.0L252.2 1094.5L253.0 1093.9L254.0 1093.3L255.0 1092.7L256.0 1092.1L257.0 1091.5L258.0 1091.0L259.0 1090.5L260.0 1090.0L261.0 1089.6L262.0 1089.2L263.0 1088.8L264.0 1088.4L265.1 1088.0L266.5 1087.5L267.5 1087.2L268.5 1086.9L269.9 1086.5L271.0 1086.2L272.0 1086.0L273.5 1085.6L274.5 1085.4L276.0 1085.1L277.0 1084.9L278.5 1084.6L279.5 1084.4L281.0 1084.2L282.4 1084.0L283.5 1083.9L285.0 1083.7L286.5 1083.6L287.5 1083.5L289.0 1083.4L290.5 1083.3L292.0 1083.2L293.5 1083.2L295.0 1083.2L296.5 1083.2L298.0 1083.2L299.5 1083.2L301.0 1083.3L302.5 1083.4L303.6 1083.5L305.0 1083.6L306.5 1083.8L308.0 1084.0L309.0 1084.1L310.5 1084.4L311.5 1084.6L313.0 1084.8L314.0 1085.1L315.5 1085.4L316.5 1085.7L317.6 1086.0L319.0 1086.4L320.0 1086.7L321.0 1087.1L322.1 1087.5L323.3 1088.0L324.4 1088.5L325.4 1089.0L326.4 1089.5L327.3 1090.0L328.1 1090.5L329.0 1091.1L330.0 1091.8L330.8 1092.5L331.5 1093.1L332.4 1094.0L333.0 1094.8L333.6 1095.5L334.2 1096.5L334.7 1097.5L335.1 1098.5L335.5 1100.0L335.6 1101.0L335.6 1102.5L335.4 1103.5L335.0 1104.9L334.6 1106.0L334.1 1107.0L333.5 1107.9L333.0 1108.7L332.3 1109.5L331.5 1110.5L331.0 1111.0L330.0 1111.9L329.4 1112.5L328.5 1113.2L327.5 1114.0L326.8 1114.5L326.0 1115.0L325.0 1115.7L324.0 1116.3L323.0 1116.9L322.0 1117.4L321.0 1117.9L320.0 1118.4L319.0 1118.9L318.0 1119.3L317.0 1119.8L316.0 1120.2L315.0 1120.6L313.9 1121.0L312.6 1121.5L311.5 1121.9L310.5 1122.2L309.5 1122.5L308.0 1123.0L307.0 1123.3L306.0 1123.6L304.5 1124.0L303.5 1124.2L302.3 1124.5L301.0 1124.8L300.0 1125.0L298.5 1125.4L297.5 1125.5L296.0 1125.8L295.0 1126.0L293.5 1126.3L292.0 1126.5L291.0 1126.6L289.5 1126.8L288.0 1127.0L287.0 1127.1L285.5 1127.3L284.0 1127.4L282.6 1127.5L282.5 1127.5"/><path d="M376.0 1153.6L376.0 1153.3L376.0 1152.5L376.0 1151.6L376.0 1150.6L375.6 1149.5L375.2 1148.5L375.0 1147.5L374.7 1146.0L374.5 1144.9L374.3 1143.5L374.2 1142.0L374.2 1140.5L374.2 1139.0L374.3 1137.5L374.5 1136.0L374.6 1135.0L374.9 1133.5L375.1 1132.5L375.5 1131.1L375.9 1130.0L376.0 1129.0L376.0 1128.0L376.0 1127.2L376.0 1126.6L376.0 1126.9L376.0 1127.5L376.0 1128.5L376.0 1129.5L376.0 1130.5L376.0 1131.5L376.0 1133.0L376.0 1134.0L376.0 1135.5L376.0 1137.0L376.0 1138.1L376.0 1139.5L376.0 1141.0L376.0 1142.0L376.0 1143.5L376.0 1145.0L376.0 1146.4L376.0 1147.5L376.0 1148.6L376.0 1150.0L376.0 1151.0L376.0 1152.0L376.0 1152.8L376.0 1153.5L376.0 1153.6"/><path d="M230.5 1186.0L229.0 1186.1L227.5 1186.1L226.0 1186.1L224.5 1186.1L223.0 1186.0L222.0 1185.9L220.5 1185.8L219.0 1185.6L218.0 1185.5L216.5 1185.2L215.5 1185.0L214.0 1184.6L213.0 1184.3L212.0 1183.9L211.0 1183.5L210.0 1183.0L209.0 1182.4L208.0 1181.6L207.3 1181.0L206.6 1180.0L206.1 1179.0L205.8 1178.0L205.8 1176.5L206.0 1175.2L206.4 1174.0L206.9 1173.0L207.4 1172.0L208.0 1171.1L208.5 1170.5L209.3 1169.5L210.0 1168.6L210.6 1168.0L211.5 1167.0L212.0 1166.5L213.0 1165.5L213.6 1165.0L214.5 1164.1L215.2 1163.5L216.0 1162.7L216.7 1162.0L217.5 1161.2L218.2 1160.5L219.0 1159.7L219.6 1159.0L220.4 1158.0L221.0 1157.2L221.5 1156.5L222.1 1155.5L222.7 1154.5L223.4 1153.5L224.0 1152.6L224.5 1151.9L225.2 1151.0L226.0 1150.2L226.7 1149.5L227.5 1148.8L228.4 1148.0L229.1 1147.5L230.0 1146.9L231.0 1146.2L232.0 1145.7L233.0 1145.1L234.0 1144.6L235.0 1144.1L236.0 1143.7L237.0 1143.2L238.0 1142.9L239.0 1142.5L240.5 1142.0L241.5 1141.7L242.5 1141.4L244.0 1141.0L245.0 1140.8L246.5 1140.5L247.5 1140.4L249.0 1140.2L250.5 1140.1L252.0 1140.0L253.5 1140.0L255.0 1140.1L256.5 1140.3L258.0 1140.5L259.0 1140.6L260.5 1140.9L261.5 1141.1L263.0 1141.3L264.5 1141.5L265.5 1141.6L267.0 1141.7L268.5 1141.7L270.0 1141.7L271.5 1141.6L272.5 1141.5L274.0 1141.3L275.5 1141.2L276.7 1141.0L278.0 1140.8L279.5 1140.6L280.5 1140.4L282.0 1140.2L283.0 1140.0L284.5 1139.7L285.8 1139.5L287.0 1139.3L288.5 1139.0L289.5 1138.8L291.0 1138.6L292.0 1138.4L293.5 1138.2L294.5 1138.0L296.0 1137.8L297.5 1137.5L298.5 1137.4L300.0 1137.2L301.2 1137.0L302.5 1136.8L304.0 1136.6L305.2 1136.5L306.5 1136.4L308.0 1136.2L309.5 1136.1L310.5 1136.0L312.0 1135.9L313.5 1135.8L315.0 1135.7L316.5 1135.6L318.0 1135.6L319.5 1135.6L321.0 1135.6L322.5 1135.6L324.0 1135.7L325.5 1135.7L327.0 1135.8L328.5 1135.9L329.5 1136.0L331.0 1136.2L332.5 1136.4L333.5 1136.6L335.0 1136.9L336.0 1137.1L337.5 1137.5L338.5 1137.8L339.5 1138.1L340.5 1138.5L341.7 1139.0L342.7 1139.5L343.6 1140.0L344.5 1140.6L345.5 1141.3L346.3 1142.0L347.0 1142.8L347.5 1143.6L348.0 1144.5L348.4 1146.0L348.5 1147.0L348.5 1148.0L348.2 1149.5L347.8 1150.5L347.3 1151.5L346.7 1152.5L346.0 1153.5L345.5 1154.1L344.7 1155.0L344.0 1155.7L343.2 1156.5L342.5 1157.1L341.5 1157.9L340.7 1158.5L340.0 1159.0L339.0 1159.7L338.0 1160.4L337.1 1161.0L336.2 1161.5L335.4 1162.0L334.5 1162.5L333.5 1163.0L332.5 1163.5L331.5 1164.0L330.5 1164.5L329.4 1165.0L328.3 1165.5L327.1 1166.0L326.0 1166.5L325.0 1166.8L324.0 1167.2L323.0 1167.6L321.9 1168.0L320.5 1168.5L319.5 1168.8L318.5 1169.1L317.2 1169.5L316.0 1169.9L315.0 1170.1L313.6 1170.5L312.5 1170.8L311.5 1171.0L310.0 1171.4L309.0 1171.6L307.5 1171.9L306.5 1172.2L305.0 1172.4L304.0 1172.6L302.5 1172.9L301.5 1173.1L300.0 1173.3L298.5 1173.5L297.5 1173.6L296.0 1173.8L294.7 1174.0L293.5 1174.1L292.0 1174.3L290.5 1174.5L289.5 1174.6L288.0 1174.7L286.5 1174.9L285.5 1175.0L284.0 1175.2L282.5 1175.4L281.5 1175.5L280.0 1175.8L278.5 1176.0L277.5 1176.2L276.0 1176.5L275.0 1176.7L273.5 1177.0L272.5 1177.2L271.3 1177.5L270.0 1177.8L269.0 1178.1L267.5 1178.5L266.5 1178.8L265.5 1179.1L264.0 1179.5L263.0 1179.8L262.0 1180.0L260.5 1180.5L259.5 1180.7L258.5 1181.0L257.0 1181.4L256.0 1181.7L254.8 1182.0L253.5 1182.3L252.5 1182.6L251.0 1182.9L250.0 1183.2L248.6 1183.5L247.5 1183.7L246.2 1184.0L245.0 1184.2L243.5 1184.5L242.5 1184.7L241.0 1184.9L240.0 1185.1L238.5 1185.3L237.0 1185.5L236.0 1185.6L234.5 1185.7L233.0 1185.9L231.5 1186.0L230.5 1186.0L230.5 1186.0"/><path d="M105.8 1079.8L105.8 1079.0L105.8 1078.0L105.8 1077.4L105.8 1076.6L105.8 1076.0L105.8 1075.5L105.8 1075.1L105.8 1074.9L105.8 1074.7L106.0 1074.7L107.5 1074.8L108.5 1075.1L109.8 1075.5L110.9 1076.0L111.8 1076.5L112.6 1077.0L113.5 1077.7L114.4 1078.5L115.0 1079.0L115.9 1080.0L116.5 1080.6L117.2 1081.5L118.0 1082.4L118.5 1083.0L119.3 1084.0L120.0 1084.9L120.5 1085.5L121.3 1086.5L122.0 1087.3L122.6 1088.0L123.5 1089.0L124.0 1089.5L125.0 1090.5L125.5 1091.0L126.5 1091.9L127.1 1092.5L128.0 1093.2L129.0 1094.0L129.6 1094.5L130.5 1095.1L131.5 1095.8L132.5 1096.4L133.5 1097.0L134.4 1097.5L135.4 1098.0L136.5 1098.5L137.5 1098.9L138.5 1099.2L139.5 1099.6L140.9 1100.0L142.0 1100.3L143.0 1100.6L144.5 1101.0L145.5 1101.2L146.5 1101.5L148.0 1101.9L149.0 1102.3L150.0 1102.6L151.2 1103.0L152.5 1103.5L153.5 1103.9L154.5 1104.4L155.5 1104.8L156.5 1105.3L157.5 1105.8L158.5 1106.3L159.5 1106.7L160.5 1107.2L161.5 1107.6L162.5 1108.0L163.9 1108.5L165.0 1108.8L166.0 1109.0L167.5 1109.2L169.0 1109.3L170.5 1109.5L171.5 1109.5L173.0 1109.7L174.5 1110.0L175.5 1110.2L176.5 1110.6L177.5 1111.0L178.5 1111.5L179.5 1112.2L180.4 1113.0L181.0 1113.6L181.8 1114.5L182.5 1115.5L183.0 1116.5L183.5 1117.5L183.8 1118.5L184.1 1119.5L184.4 1121.0L184.5 1122.1L184.5 1123.5L184.5 1124.5L184.3 1126.0L184.0 1127.2L183.6 1128.5L183.2 1129.5L182.8 1130.5L182.2 1131.5L181.5 1132.5L181.0 1133.2L180.3 1134.0L179.5 1134.9L178.8 1135.5L178.0 1136.2L177.0 1137.0L176.3 1137.5L175.5 1138.0L174.5 1138.7L173.5 1139.4L172.6 1140.0L171.9 1140.5L171.0 1141.2L170.1 1142.0L169.5 1142.7L168.8 1143.5L168.2 1144.5L167.6 1145.5L167.2 1146.5L166.8 1147.5L166.5 1148.7L166.2 1150.0L166.1 1151.5L166.0 1153.0L166.0 1154.5L166.1 1156.0L166.2 1157.5L166.4 1159.0L166.5 1160.2L166.6 1161.5L166.8 1163.0L167.0 1164.5L167.0 1165.5L167.2 1167.0L167.2 1168.5L167.3 1170.0L167.3 1171.5L167.3 1173.0L167.3 1174.5L167.2 1176.0L167.2 1177.5L167.1 1179.0L167.0 1180.2L166.9 1181.5L166.6 1183.0L166.3 1184.0L165.9 1185.0L165.3 1186.0L164.7 1187.0L164.1 1188.0L163.5 1188.9L163.0 1189.6L162.3 1190.5L161.5 1191.5L161.0 1192.1L160.2 1193.0L159.5 1193.6L158.5 1194.5L157.8 1195.0L156.9 1195.5L156.0 1196.0L154.7 1196.5L153.5 1196.8L152.5 1197.0L151.0 1197.1L149.5 1197.0L148.5 1196.9L147.0 1196.6L146.0 1196.3L145.0 1195.9L144.0 1195.5L142.9 1195.0L141.9 1194.5L141.0 1194.0L140.0 1193.4L139.0 1192.7L138.0 1192.0L137.4 1191.5L136.5 1190.8L135.5 1190.0L134.9 1189.5L134.0 1188.7L133.2 1188.0L132.5 1187.4L131.5 1186.5L130.9 1186.0L130.0 1185.3L129.0 1184.6L128.0 1184.1L126.5 1184.2L125.8 1185.0L125.3 1186.0L125.0 1187.0L124.7 1188.5L124.5 1189.5L124.3 1191.0L124.2 1192.5L124.1 1194.0L124.0 1195.0L123.9 1196.5L123.8 1198.0L123.7 1199.5L123.6 1201.0L123.5 1202.5L123.5 1203.5L123.3 1205.0L123.2 1206.5L123.1 1208.0L122.9 1209.0L122.7 1210.5L122.5 1211.5L122.0 1213.0L121.6 1214.0L121.1 1215.0L120.5 1215.8L119.9 1216.5L119.0 1217.4L118.2 1218.0L117.5 1218.5L116.5 1219.2L115.5 1219.7L114.5 1220.2L113.5 1220.7L112.5 1221.1L111.2 1221.5L110.0 1221.9L109.0 1222.1L107.5 1222.3L106.0 1222.5L105.8 1222.6L105.8 1222.6L105.8 1222.5L105.8 1222.4L105.8 1222.2L105.8 1221.9L105.8 1221.5L105.8 1221.2L105.8 1221.2"/><path d="M290.0 1124.5L288.5 1124.7L287.0 1124.8L285.5 1124.9L284.0 1124.9L282.5 1125.0L281.0 1125.0L279.5 1125.0L278.0 1124.9L276.5 1124.8L275.0 1124.7L273.5 1124.6L272.5 1124.4L271.0 1124.2L269.9 1124.0L268.5 1123.7L267.5 1123.5L266.0 1123.1L265.0 1122.8L264.0 1122.5L262.7 1122.0L261.5 1121.5L260.5 1121.1L259.5 1120.6L258.5 1120.1L257.5 1119.6L256.5 1119.0L255.7 1118.5L255.0 1118.0L254.0 1117.3L253.0 1116.5L252.5 1116.0L251.5 1115.1L251.0 1114.5L250.2 1113.5L249.5 1112.6L249.0 1111.7L248.5 1110.7L248.1 1109.5L247.8 1108.5L247.7 1107.0L247.7 1105.5L248.0 1104.2L248.4 1103.0L248.8 1102.0L249.4 1101.0L250.0 1100.1L250.5 1099.4L251.3 1098.5L252.0 1097.8L252.8 1097.0L253.5 1096.4L254.5 1095.6L255.3 1095.0L256.0 1094.5L257.0 1093.9L258.0 1093.3L259.0 1092.7L260.0 1092.2L261.0 1091.7L262.0 1091.2L263.0 1090.7L264.0 1090.3L265.0 1089.9L266.1 1089.5L267.5 1089.0L268.5 1088.7L269.5 1088.4L270.7 1088.0L272.0 1087.6L273.0 1087.4L274.5 1087.0L275.5 1086.8L276.8 1086.5L278.0 1086.3L279.5 1086.0L280.5 1085.8L282.0 1085.6L283.0 1085.5L284.5 1085.3L286.0 1085.1L287.5 1085.0L288.5 1084.9L290.0 1084.8L291.5 1084.8L293.0 1084.7L294.5 1084.7L296.0 1084.7L297.5 1084.7L299.0 1084.8L300.5 1084.8L302.0 1085.0L303.0 1085.0L304.5 1085.2L306.0 1085.4L307.0 1085.5L308.5 1085.7L310.0 1086.0L311.0 1086.2L312.4 1086.5L313.5 1086.8L314.5 1087.0L316.0 1087.5L317.0 1087.8L318.0 1088.1L319.1 1088.5L320.4 1089.0L321.5 1089.5L322.5 1090.0L323.5 1090.5L324.4 1091.0L325.2 1091.5L326.0 1092.0L327.0 1092.7L327.9 1093.5L328.5 1094.0L329.4 1095.0L330.0 1095.7L330.6 1096.5L331.2 1097.5L331.6 1098.5L332.0 1099.9L332.2 1101.0L332.2 1102.5L332.0 1103.6L331.6 1105.0L331.2 1106.0L330.7 1107.0L330.0 1108.0L329.5 1108.7L328.8 1109.5L328.0 1110.4L327.4 1111.0L326.5 1111.8L325.6 1112.5L325.0 1113.0L324.0 1113.7L323.0 1114.4L322.0 1115.0L321.2 1115.5L320.3 1116.0L319.3 1116.5L318.3 1117.0L317.3 1117.5L316.2 1118.0L315.0 1118.5L314.0 1118.9L313.0 1119.3L312.0 1119.7L311.0 1120.0L309.6 1120.5L308.5 1120.8L307.5 1121.1L306.2 1121.5L305.0 1121.8L304.0 1122.1L302.5 1122.4L301.5 1122.7L300.0 1123.0L299.0 1123.2L297.5 1123.5L296.5 1123.6L295.0 1123.9L294.0 1124.0L292.5 1124.2L291.0 1124.4L290.0 1124.5L290.0 1124.5"/><path d="M376.0 1149.7L376.0 1149.5L376.0 1148.9L376.0 1148.0L376.0 1146.8L376.0 1145.5L375.9 1144.5L375.7 1143.0L375.6 1141.5L375.6 1140.0L375.6 1138.5L375.8 1137.0L376.0 1135.5L376.0 1134.5L376.0 1133.5L376.0 1132.2L376.0 1131.3L376.0 1130.5L376.0 1130.5L376.0 1131.0L376.0 1132.0L376.0 1133.0L376.0 1134.0L376.0 1135.5L376.0 1136.5L376.0 1138.0L376.0 1139.5L376.0 1141.0L376.0 1142.5L376.0 1143.8L376.0 1145.0L376.0 1146.3L376.0 1147.5L376.0 1148.5L376.0 1149.3L376.0 1149.7"/><path d="M231.5 1184.5L230.0 1184.6L228.5 1184.6L227.0 1184.6L225.6 1184.5L224.5 1184.4L223.0 1184.3L221.5 1184.1L220.5 1184.0L219.0 1183.7L218.0 1183.4L216.5 1183.0L215.5 1182.7L214.5 1182.2L213.5 1181.7L212.5 1181.0L211.9 1180.5L211.0 1179.5L210.5 1178.6L210.2 1177.5L210.1 1176.0L210.5 1174.6L211.0 1173.5L211.5 1172.6L212.0 1171.9L212.7 1171.0L213.5 1170.2L214.2 1169.5L215.0 1168.7L215.8 1168.0L216.5 1167.5L217.5 1166.7L218.5 1166.0L219.2 1165.5L220.0 1165.0L221.0 1164.3L222.0 1163.7L223.0 1163.1L224.0 1162.6L225.0 1162.0L226.0 1161.5L227.0 1161.0L228.0 1160.5L229.0 1160.1L230.0 1159.6L231.0 1159.2L232.0 1158.7L233.0 1158.3L234.0 1158.0L235.2 1157.5L236.5 1157.0L237.5 1156.7L238.5 1156.4L239.7 1156.0L241.0 1155.6L242.0 1155.3L243.2 1155.0L244.5 1154.7L245.5 1154.4L247.0 1154.0L248.0 1153.8L249.4 1153.5L250.5 1153.2L251.6 1153.0L253.0 1152.7L254.0 1152.4L255.5 1152.1L256.5 1151.8L257.7 1151.5L259.0 1151.1L260.0 1150.9L261.2 1150.5L262.5 1150.1L263.5 1149.8L264.5 1149.5L265.9 1149.0L267.0 1148.6L268.0 1148.3L269.0 1147.9L270.3 1147.5L271.5 1147.1L272.5 1146.7L273.5 1146.4L274.7 1146.0L276.0 1145.6L277.0 1145.3L278.0 1144.9L279.4 1144.5L280.5 1144.2L281.5 1143.9L282.8 1143.5L284.0 1143.2L285.0 1142.9L286.5 1142.5L287.5 1142.2L288.5 1142.0L290.0 1141.6L291.0 1141.4L292.5 1141.1L293.5 1140.8L295.0 1140.5L296.0 1140.3L297.5 1140.0L298.5 1139.8L300.0 1139.6L301.0 1139.4L302.5 1139.2L303.7 1139.0L305.0 1138.8L306.5 1138.6L307.6 1138.5L309.0 1138.4L310.5 1138.2L312.0 1138.1L313.4 1138.0L314.5 1137.9L316.0 1137.9L317.5 1137.8L319.0 1137.8L320.5 1137.8L322.0 1137.9L323.5 1137.9L324.7 1138.0L326.0 1138.1L327.5 1138.3L329.0 1138.5L330.0 1138.6L331.5 1138.9L332.5 1139.1L334.0 1139.5L335.0 1139.8L336.0 1140.1L337.0 1140.5L338.0 1141.0L339.0 1141.5L340.0 1142.1L341.0 1142.9L341.7 1143.5L342.5 1144.5L343.0 1145.3L343.5 1146.5L343.6 1147.5L343.6 1149.0L343.4 1150.0L343.0 1151.0L342.5 1152.0L341.9 1153.0L341.1 1154.0L340.5 1154.7L339.8 1155.5L339.0 1156.2L338.1 1157.0L337.5 1157.5L336.5 1158.3L335.5 1159.0L334.8 1159.5L334.0 1160.0L333.0 1160.6L332.0 1161.2L331.0 1161.7L330.0 1162.3L329.0 1162.8L328.0 1163.3L327.0 1163.7L326.0 1164.2L325.0 1164.6L324.0 1165.0L322.8 1165.5L321.5 1166.0L320.5 1166.4L319.5 1166.7L318.5 1167.0L317.1 1167.5L316.0 1167.8L315.0 1168.1L313.7 1168.5L312.5 1168.8L311.5 1169.1L310.0 1169.4L309.0 1169.7L307.5 1170.0L306.5 1170.2L305.0 1170.5L304.0 1170.7L302.5 1171.0L301.5 1171.1L300.0 1171.3L298.9 1171.5L297.5 1171.7L296.0 1171.9L295.0 1172.0L293.5 1172.2L292.0 1172.3L290.5 1172.5L289.5 1172.6L288.0 1172.8L286.5 1172.9L285.5 1173.0L284.0 1173.2L282.5 1173.4L281.5 1173.6L280.0 1173.8L278.8 1174.0L277.5 1174.2L276.3 1174.5L275.0 1174.8L274.0 1175.0L272.5 1175.4L271.5 1175.7L270.3 1176.0L269.0 1176.4L268.0 1176.7L266.8 1177.0L265.5 1177.4L264.5 1177.7L263.5 1178.0L262.0 1178.5L261.0 1178.8L260.0 1179.1L258.6 1179.5L257.5 1179.8L256.5 1180.1L255.1 1180.5L254.0 1180.8L253.0 1181.1L251.5 1181.4L250.5 1181.7L249.1 1182.0L248.0 1182.3L246.8 1182.5L245.5 1182.8L244.3 1183.0L243.0 1183.2L241.5 1183.5L240.5 1183.6L239.0 1183.8L237.7 1184.0L236.5 1184.1L235.0 1184.3L233.5 1184.4L232.0 1184.5L231.5 1184.5"/><path d="M185.0 1194.0L183.5 1194.3L182.0 1194.4L180.5 1194.3L179.0 1194.0L178.0 1193.7L177.0 1193.3L176.0 1192.8L175.0 1192.2L174.1 1191.5L173.5 1190.9L172.7 1190.0L172.0 1189.0L171.5 1188.0L171.1 1187.0L171.0 1186.0L171.0 1185.0L171.5 1183.8L172.0 1183.0L173.0 1182.0L173.6 1181.5L174.5 1180.9L175.5 1180.4L176.5 1179.9L177.7 1179.5L179.0 1179.2L180.1 1179.0L181.5 1178.9L183.0 1178.9L184.0 1179.0L185.5 1179.4L186.5 1179.7L187.5 1180.1L188.5 1180.7L189.5 1181.5L190.1 1182.0L190.9 1183.0L191.4 1184.0L191.7 1185.0L191.9 1186.5L191.6 1188.0L191.3 1189.0L190.8 1190.0L190.0 1191.0L189.5 1191.6L188.5 1192.4L187.6 1193.0L186.6 1193.5L185.5 1193.9L185.0 1194.0"/><path d="M105.8 1085.0L105.8 1083.8L105.8 1082.8L105.8 1081.9L105.8 1081.0L105.8 1080.0L105.8 1079.4L105.8 1078.6L105.8 1078.0L105.8 1077.5L105.8 1077.2L105.8 1077.0L106.0 1076.9L107.0 1077.0L108.5 1077.4L109.5 1077.8L110.5 1078.3L111.5 1078.9L112.3 1079.5L113.0 1080.1L113.9 1081.0L114.5 1081.6L115.3 1082.5L116.0 1083.3L116.6 1084.0L117.4 1085.0L118.0 1085.8L118.6 1086.5L119.4 1087.5L120.0 1088.3L120.6 1089.0L121.4 1090.0L122.0 1090.6L122.8 1091.5L123.5 1092.3L124.2 1093.0L125.0 1093.8L125.7 1094.5L126.5 1095.2L127.4 1096.0L128.0 1096.5L129.0 1097.3L130.0 1098.0L130.7 1098.5L131.5 1099.0L132.5 1099.7L133.5 1100.3L134.5 1100.8L135.5 1101.3L136.5 1101.8L137.5 1102.2L138.5 1102.6L139.7 1103.0L141.0 1103.4L142.0 1103.7L143.1 1104.0L144.5 1104.4L145.5 1104.7L146.6 1105.0L148.0 1105.4L149.0 1105.8L150.0 1106.1L151.0 1106.5L152.3 1107.0L153.4 1107.5L154.5 1108.0L155.5 1108.5L156.5 1109.0L157.4 1109.5L158.4 1110.0L159.4 1110.5L160.4 1111.0L161.5 1111.5L162.5 1111.9L163.5 1112.2L164.9 1112.5L166.0 1112.6L167.5 1112.7L169.0 1112.8L170.5 1112.8L172.0 1112.8L173.5 1113.0L174.5 1113.2L175.5 1113.5L176.7 1114.0L177.6 1114.5L178.5 1115.2L179.3 1116.0L180.0 1116.9L180.5 1117.7L181.0 1118.7L181.4 1120.0L181.7 1121.0L181.8 1122.5L181.8 1124.0L181.6 1125.5L181.4 1126.5L181.0 1127.5L180.5 1128.6L180.0 1129.5L179.3 1130.5L178.5 1131.4L177.9 1132.0L177.0 1132.8L176.0 1133.5L175.2 1134.0L174.3 1134.5L173.3 1135.0L172.3 1135.5L171.2 1136.0L170.2 1136.5L169.3 1137.0L168.5 1137.5L167.5 1138.2L166.5 1139.0L166.0 1139.5L165.1 1140.5L164.5 1141.3L164.0 1142.1L163.5 1143.0L163.0 1144.1L162.5 1145.5L162.3 1146.5L162.0 1147.9L161.9 1149.0L161.8 1150.5L161.8 1152.0L161.8 1153.5L161.9 1155.0L162.0 1156.2L162.1 1157.5L162.3 1159.0L162.4 1160.5L162.6 1161.5L162.7 1163.0L162.8 1164.5L162.9 1166.0L163.0 1167.5L163.0 1168.5L163.0 1170.0L163.0 1171.0L162.9 1172.5L162.8 1174.0L162.6 1175.5L162.4 1176.5L162.1 1178.0L161.9 1179.0L161.5 1180.4L161.1 1181.5L160.7 1182.5L160.3 1183.5L159.8 1184.5L159.2 1185.5L158.5 1186.5L158.0 1187.2L157.3 1188.0L156.5 1188.8L155.7 1189.5L155.0 1190.0L154.0 1190.6L153.0 1191.1L151.8 1191.5L150.5 1191.8L149.0 1191.9L147.5 1191.8L146.0 1191.6L145.0 1191.3L144.0 1191.0L142.7 1190.5L141.6 1190.0L140.6 1189.5L139.7 1189.0L138.9 1188.5L138.0 1187.9L137.0 1187.2L136.1 1186.5L135.4 1186.0L134.5 1185.2L133.6 1184.5L133.0 1184.0L132.0 1183.1L131.3 1182.5L130.5 1181.8L129.5 1181.0L128.9 1180.5L128.0 1180.0L126.6 1179.5L126.0 1179.6L125.0 1180.4L124.5 1181.3L124.1 1182.5L123.9 1183.5L123.7 1185.0L123.5 1186.5L123.4 1187.5L123.3 1189.0L123.2 1190.5L123.1 1192.0L123.1 1193.5L123.0 1195.0L123.0 1196.0L122.9 1197.5L122.8 1199.0L122.8 1200.5L122.7 1202.0L122.6 1203.5L122.5 1204.8L122.4 1206.0L122.3 1207.5L122.1 1209.0L121.9 1210.0L121.6 1211.5L121.4 1212.5L121.0 1213.5L120.5 1214.5L119.8 1215.5L119.0 1216.4L118.4 1217.0L117.5 1217.7L116.5 1218.4L115.5 1219.0L114.6 1219.5L113.5 1220.0L112.5 1220.4L111.5 1220.8L110.5 1221.1L109.0 1221.4L108.0 1221.6L106.5 1221.8L105.8 1221.9L105.8 1221.9L105.8 1221.9L105.8 1221.7L105.8 1221.5L105.8 1221.2L105.8 1220.9L105.8 1220.5"/><path d="M288.5 1122.5L287.0 1122.6L285.5 1122.7L284.0 1122.7L282.5 1122.7L281.0 1122.7L279.5 1122.6L278.0 1122.5L277.0 1122.4L275.5 1122.3L274.0 1122.1L273.0 1121.9L271.5 1121.7L270.5 1121.5L269.0 1121.1L268.0 1120.8L266.8 1120.5L265.5 1120.1L264.5 1119.7L263.5 1119.3L262.5 1118.9L261.5 1118.4L260.5 1117.9L259.5 1117.4L258.5 1116.8L257.5 1116.1L256.7 1115.5L256.0 1115.0L255.0 1114.0L254.5 1113.5L253.6 1112.5L253.0 1111.6L252.5 1110.8L252.0 1109.7L251.6 1108.5L251.4 1107.5L251.4 1106.0L251.5 1105.0L251.9 1103.5L252.3 1102.5L252.8 1101.5L253.5 1100.5L254.0 1099.8L254.7 1099.0L255.5 1098.1L256.2 1097.5L257.0 1096.8L258.0 1096.0L258.8 1095.5L259.5 1095.0L260.5 1094.4L261.5 1093.8L262.5 1093.3L263.5 1092.8L264.5 1092.3L265.5 1091.8L266.5 1091.4L267.6 1091.0L268.9 1090.5L270.0 1090.1L271.0 1089.8L272.0 1089.5L273.5 1089.1L274.5 1088.8L275.8 1088.5L277.0 1088.2L278.1 1088.0L279.5 1087.7L280.8 1087.5L282.0 1087.3L283.5 1087.1L284.5 1087.0L286.0 1086.8L287.5 1086.7L289.0 1086.6L290.0 1086.5L291.5 1086.4L293.0 1086.4L294.5 1086.4L296.0 1086.4L297.5 1086.4L299.0 1086.5L300.0 1086.5L301.5 1086.7L303.0 1086.8L304.5 1087.0L305.5 1087.1L307.0 1087.3L308.0 1087.5L309.5 1087.8L310.5 1088.0L312.0 1088.4L313.0 1088.7L314.1 1089.0L315.5 1089.5L316.5 1089.8L317.5 1090.2L318.5 1090.6L319.5 1091.1L320.5 1091.6L321.5 1092.2L322.5 1092.8L323.5 1093.5L324.1 1094.0L325.0 1094.8L325.7 1095.5L326.5 1096.4L327.0 1097.1L327.5 1098.0L328.0 1099.1L328.4 1100.5L328.5 1101.5L328.5 1102.5L328.2 1104.0L327.9 1105.0L327.5 1106.0L326.9 1107.0L326.3 1108.0L325.5 1109.0L325.0 1109.5L324.0 1110.5L323.4 1111.0L322.5 1111.8L321.5 1112.5L320.8 1113.0L320.0 1113.5L319.0 1114.1L318.0 1114.7L317.0 1115.3L316.0 1115.8L315.0 1116.2L314.0 1116.7L313.0 1117.1L312.0 1117.5L310.7 1118.0L309.5 1118.4L308.5 1118.8L307.5 1119.1L306.1 1119.5L305.0 1119.8L304.0 1120.1L302.5 1120.4L301.5 1120.7L300.0 1121.0L299.0 1121.2L297.5 1121.5L296.5 1121.6L295.0 1121.9L293.9 1122.0L292.5 1122.2L291.0 1122.3L289.5 1122.5L288.5 1122.5L288.5 1122.5"/><path d="M376.0 1142.7L376.0 1142.0L376.0 1140.5L376.0 1139.0L376.0 1137.8L376.0 1137.5L376.0 1138.5L376.0 1140.0L376.0 1141.5L376.0 1142.5L376.0 1142.7"/><path d="M237.0 1182.5L235.5 1182.6L234.0 1182.7L232.5 1182.8L231.0 1182.8L229.5 1182.8L228.0 1182.8L226.5 1182.7L225.0 1182.5L224.0 1182.4L222.5 1182.1L221.5 1181.9L220.2 1181.5L219.0 1181.0L218.0 1180.6L217.1 1180.0L216.4 1179.5L215.5 1178.5L215.0 1177.5L214.8 1176.5L214.9 1175.0L215.3 1174.0L215.8 1173.0L216.5 1172.1L217.0 1171.5L218.0 1170.5L218.5 1170.0L219.5 1169.2L220.4 1168.5L221.1 1168.0L222.0 1167.4L223.0 1166.8L224.0 1166.2L225.0 1165.6L226.0 1165.1L227.0 1164.6L228.0 1164.1L229.0 1163.7L230.0 1163.3L231.0 1162.9L232.0 1162.5L233.3 1162.0L234.5 1161.6L235.5 1161.2L236.5 1160.9L237.9 1160.5L239.0 1160.2L240.0 1159.9L241.5 1159.5L242.5 1159.3L243.6 1159.0L245.0 1158.7L246.0 1158.5L247.5 1158.2L248.5 1158.0L250.0 1157.6L251.0 1157.5L252.5 1157.2L253.5 1157.0L255.0 1156.7L256.0 1156.5L257.5 1156.2L258.5 1155.9L260.0 1155.6L261.0 1155.3L262.3 1155.0L263.5 1154.6L264.5 1154.3L265.5 1154.0L267.0 1153.5L268.0 1153.1L269.0 1152.7L270.0 1152.3L271.0 1151.9L272.0 1151.5L273.1 1151.0L274.2 1150.5L275.3 1150.0L276.5 1149.5L277.5 1149.1L278.5 1148.6L279.5 1148.2L280.5 1147.8L281.5 1147.4L282.6 1147.0L284.0 1146.5L285.0 1146.1L286.0 1145.8L287.0 1145.5L288.5 1145.0L289.5 1144.7L290.5 1144.4L291.9 1144.0L293.0 1143.7L294.0 1143.5L295.5 1143.1L296.5 1142.9L298.0 1142.5L299.0 1142.3L300.5 1142.0L301.5 1141.8L303.0 1141.6L304.0 1141.4L305.5 1141.2L307.0 1141.0L308.0 1140.9L309.5 1140.7L311.0 1140.6L312.2 1140.5L313.5 1140.4L315.0 1140.4L316.5 1140.3L318.0 1140.3L319.5 1140.3L321.0 1140.4L322.4 1140.5L323.5 1140.6L325.0 1140.8L326.5 1141.0L327.5 1141.2L328.9 1141.5L330.0 1141.8L331.0 1142.1L332.1 1142.5L333.2 1143.0L334.2 1143.5L335.0 1144.0L336.0 1144.8L336.7 1145.5L337.4 1146.5L337.8 1147.5L338.0 1148.5L338.0 1149.8L337.7 1151.0L337.3 1152.0L336.7 1153.0L336.0 1154.0L335.5 1154.6L334.7 1155.5L334.0 1156.1L333.0 1157.0L332.3 1157.5L331.5 1158.1L330.5 1158.8L329.5 1159.5L328.6 1160.0L327.7 1160.5L326.8 1161.0L325.8 1161.5L324.8 1162.0L323.8 1162.5L322.6 1163.0L321.5 1163.5L320.5 1163.9L319.5 1164.3L318.5 1164.6L317.5 1165.0L316.0 1165.5L315.0 1165.8L314.0 1166.1L312.6 1166.5L311.5 1166.8L310.5 1167.1L309.0 1167.4L308.0 1167.7L306.5 1168.0L305.5 1168.2L304.0 1168.5L303.0 1168.7L301.5 1168.9L300.5 1169.1L299.0 1169.3L297.5 1169.5L296.5 1169.6L295.0 1169.8L293.5 1169.9L292.5 1170.0L291.0 1170.2L289.5 1170.3L288.0 1170.5L287.0 1170.6L285.5 1170.7L284.0 1170.9L283.0 1171.0L281.5 1171.2L280.0 1171.5L279.0 1171.6L277.5 1171.9L276.5 1172.2L275.1 1172.5L274.0 1172.8L273.0 1173.1L271.5 1173.5L270.5 1173.8L269.5 1174.1L268.4 1174.5L267.0 1175.0L266.0 1175.3L265.0 1175.6L264.0 1176.0L262.5 1176.5L261.5 1176.8L260.5 1177.2L259.5 1177.5L258.0 1178.0L257.0 1178.3L256.0 1178.6L254.6 1179.0L253.5 1179.3L252.5 1179.6L251.0 1180.0L250.0 1180.2L248.9 1180.5L247.5 1180.8L246.5 1181.0L245.0 1181.3L244.0 1181.5L242.5 1181.8L241.1 1182.0L240.0 1182.2L238.5 1182.4L237.1 1182.5L237.0 1182.5"/><path d="M184.5 1192.5L183.0 1192.7L181.5 1192.7L180.2 1192.5L179.0 1192.1L178.0 1191.6L177.1 1191.0L176.5 1190.5L175.6 1189.5L175.1 1188.5L174.8 1187.5L174.7 1186.0L175.0 1184.9L175.5 1184.0L176.3 1183.0L177.0 1182.4L178.0 1181.8L179.0 1181.3L180.1 1181.0L181.5 1180.8L183.0 1180.8L184.5 1181.0L185.5 1181.3L186.5 1181.7L187.5 1182.3L188.3 1183.0L189.0 1183.9L189.5 1184.9L189.8 1186.0L189.7 1187.5L189.5 1188.5L188.9 1189.5L188.1 1190.5L187.5 1191.1L186.5 1191.7L185.5 1192.2L184.5 1192.5L184.5 1192.5"/><path d="M105.8 1091.9L105.8 1090.5L105.8 1089.5L105.8 1088.5L105.8 1087.5L105.8 1086.3L105.8 1085.4L105.8 1084.5L105.8 1083.5L105.8 1082.5L105.8 1082.0L105.8 1081.2L105.8 1080.6L105.8 1080.2L105.8 1080.0L106.5 1079.9L107.5 1080.1L108.7 1080.5L109.8 1081.0L110.6 1081.5L111.5 1082.2L112.4 1083.0L113.0 1083.5L113.9 1084.5L114.5 1085.2L115.2 1086.0L116.0 1087.0L116.5 1087.6L117.2 1088.5L118.0 1089.5L118.5 1090.1L119.2 1091.0L120.0 1092.0L120.5 1092.6L121.3 1093.5L122.0 1094.3L122.6 1095.0L123.5 1095.9L124.0 1096.5L125.0 1097.4L125.6 1098.0L126.5 1098.8L127.3 1099.5L128.0 1100.1L129.0 1100.9L129.8 1101.5L130.5 1102.0L131.5 1102.7L132.5 1103.3L133.5 1104.0L134.4 1104.5L135.3 1105.0L136.3 1105.5L137.4 1106.0L138.5 1106.5L139.5 1106.9L140.5 1107.3L141.5 1107.6L142.7 1108.0L144.0 1108.4L145.0 1108.7L146.0 1109.1L147.3 1109.5L148.5 1109.9L149.5 1110.3L150.5 1110.8L151.5 1111.2L152.5 1111.7L153.5 1112.2L154.5 1112.8L155.5 1113.4L156.5 1114.0L157.2 1114.5L158.0 1115.0L159.0 1115.6L160.0 1116.2L161.0 1116.8L162.0 1117.3L163.0 1117.7L164.4 1118.0L165.5 1118.1L167.0 1118.1L168.0 1118.0L169.5 1117.8L171.0 1117.6L172.5 1117.7L174.0 1118.0L175.0 1118.4L175.8 1119.0L176.5 1119.7L177.0 1120.5L177.5 1121.8L177.7 1123.0L177.5 1124.5L177.2 1125.5L176.7 1126.5L176.0 1127.4L175.4 1128.0L174.5 1128.7L173.5 1129.2L172.5 1129.7L171.5 1130.0L170.0 1130.4L169.0 1130.6L167.7 1131.0L166.5 1131.4L165.5 1131.9L164.6 1132.5L163.9 1133.0L163.0 1133.8L162.3 1134.5L161.5 1135.4L161.0 1136.0L160.3 1137.0L159.6 1138.0L159.1 1139.0L158.6 1140.0L158.2 1141.0L157.8 1142.0L157.5 1143.3L157.3 1144.5L157.1 1146.0L157.0 1147.5L157.0 1148.5L157.0 1149.5L157.1 1151.0L157.2 1152.5L157.3 1154.0L157.5 1155.5L157.6 1156.5L157.8 1158.0L157.9 1159.5L158.0 1160.5L158.2 1162.0L158.3 1163.5L158.3 1165.0L158.4 1166.5L158.4 1168.0L158.3 1169.5L158.2 1171.0L158.0 1172.5L157.8 1173.5L157.5 1175.0L157.3 1176.0L156.9 1177.0L156.5 1178.2L156.0 1179.3L155.5 1180.3L155.0 1181.1L154.4 1182.0L153.5 1183.0L153.0 1183.5L152.0 1184.3L151.0 1185.0L150.0 1185.4L149.0 1185.8L147.9 1186.0L146.5 1186.1L145.0 1186.0L144.0 1185.8L142.7 1185.5L141.5 1185.1L140.5 1184.7L139.5 1184.2L138.5 1183.6L137.5 1183.0L136.7 1182.5L136.0 1182.0L135.0 1181.3L134.0 1180.5L133.4 1180.0L132.5 1179.2L131.6 1178.5L131.0 1178.0L130.0 1177.1L129.3 1176.5L128.5 1175.9L127.5 1175.2L126.5 1174.7L125.0 1174.7L124.1 1175.5L123.6 1176.5L123.2 1177.5L123.0 1178.5L122.8 1180.0L122.6 1181.5L122.5 1182.5L122.4 1184.0L122.3 1185.5L122.3 1187.0L122.2 1188.5L122.2 1190.0L122.1 1191.5L122.1 1193.0L122.1 1194.5L122.0 1196.0L122.0 1197.0L121.9 1198.5L121.9 1200.0L121.8 1201.5L121.7 1203.0L121.7 1204.5L121.5 1206.0L121.4 1207.0L121.3 1208.5L121.1 1210.0L120.9 1211.0L120.5 1212.3L120.0 1213.5L119.5 1214.5L119.0 1215.2L118.3 1216.0L117.5 1216.8L116.6 1217.5L115.9 1218.0L115.0 1218.5L114.0 1219.1L113.0 1219.5L111.7 1220.0L110.5 1220.4L109.5 1220.7L108.0 1221.0L107.0 1221.1L105.8 1221.3L105.8 1221.3L105.8 1221.3L105.8 1221.1L105.8 1220.9L105.8 1220.6L105.8 1220.4L105.8 1220.0L105.8 1219.9"/><path d="M293.0 1120.0L291.5 1120.2L290.0 1120.3L288.5 1120.4L287.0 1120.4L285.5 1120.5L284.0 1120.5L282.5 1120.5L281.0 1120.4L279.5 1120.3L278.0 1120.1L276.7 1120.0L275.5 1119.8L274.0 1119.6L273.0 1119.4L271.5 1119.1L270.5 1118.8L269.4 1118.5L268.0 1118.1L267.0 1117.7L266.0 1117.3L265.0 1116.9L264.0 1116.4L263.0 1115.9L262.0 1115.3L261.0 1114.7L260.0 1114.0L259.4 1113.5L258.5 1112.6L257.9 1112.0L257.1 1111.0L256.5 1110.0L256.0 1109.0L255.7 1108.0L255.5 1106.8L255.5 1105.5L255.6 1104.5L256.0 1103.3L256.5 1102.2L257.0 1101.4L257.6 1100.5L258.4 1099.5L259.0 1098.9L260.0 1098.0L260.6 1097.5L261.5 1096.8L262.5 1096.1L263.5 1095.5L264.3 1095.0L265.2 1094.5L266.2 1094.0L267.3 1093.5L268.4 1093.0L269.5 1092.6L270.5 1092.2L271.5 1091.8L272.5 1091.5L274.0 1091.0L275.0 1090.7L276.0 1090.5L277.5 1090.1L278.5 1089.9L280.0 1089.6L281.0 1089.4L282.5 1089.1L283.5 1089.0L285.0 1088.8L286.5 1088.6L287.7 1088.5L289.0 1088.4L290.5 1088.3L292.0 1088.3L293.5 1088.2L295.0 1088.2L296.5 1088.3L298.0 1088.3L299.5 1088.4L300.5 1088.5L302.0 1088.7L303.5 1088.8L304.5 1089.0L306.0 1089.3L307.3 1089.5L308.5 1089.8L309.5 1090.0L311.0 1090.4L312.0 1090.7L313.0 1091.1L314.1 1091.5L315.3 1092.0L316.4 1092.5L317.4 1093.0L318.2 1093.5L319.0 1094.0L320.0 1094.7L321.0 1095.5L321.5 1096.0L322.4 1097.0L323.0 1097.8L323.5 1098.6L324.0 1099.7L324.3 1101.0L324.4 1102.5L324.2 1104.0L323.9 1105.0L323.4 1106.0L322.8 1107.0L322.1 1108.0L321.5 1108.7L320.7 1109.5L320.0 1110.2L319.0 1111.0L318.3 1111.5L317.5 1112.1L316.5 1112.7L315.5 1113.3L314.5 1113.9L313.5 1114.4L312.5 1114.8L311.5 1115.3L310.5 1115.7L309.5 1116.1L308.4 1116.5L307.0 1117.0L306.0 1117.3L305.0 1117.6L303.6 1118.0L302.5 1118.3L301.5 1118.5L300.0 1118.9L299.0 1119.1L297.5 1119.4L296.5 1119.5L295.0 1119.7L293.5 1119.9L293.0 1120.0"/><path d="M238.5 1180.5L237.0 1180.6L235.5 1180.7L234.0 1180.8L232.5 1180.8L231.0 1180.8L229.5 1180.6L228.2 1180.5L227.0 1180.3L225.5 1180.0L224.5 1179.7L223.5 1179.3L222.5 1178.8L221.5 1178.1L220.9 1177.5L220.3 1176.5L220.1 1175.0L220.5 1173.8L221.0 1172.9L221.7 1172.0L222.5 1171.1L223.2 1170.5L224.0 1169.8L225.0 1169.1L225.9 1168.5L226.8 1168.0L227.7 1167.5L228.6 1167.0L229.6 1166.5L230.7 1166.0L231.9 1165.5L233.0 1165.0L234.0 1164.7L235.0 1164.3L236.0 1164.0L237.5 1163.5L238.5 1163.2L239.5 1162.9L241.0 1162.5L242.0 1162.3L243.1 1162.0L244.5 1161.7L245.5 1161.5L247.0 1161.2L248.0 1161.0L249.5 1160.7L251.0 1160.5L252.0 1160.3L253.5 1160.1L254.5 1160.0L256.0 1159.8L257.5 1159.5L258.5 1159.4L260.0 1159.2L261.2 1159.0L262.5 1158.8L264.0 1158.5L265.0 1158.3L266.3 1158.0L267.5 1157.7L268.5 1157.4L269.8 1157.0L271.0 1156.6L272.0 1156.2L273.0 1155.8L274.0 1155.3L275.0 1154.8L276.0 1154.3L277.0 1153.8L278.0 1153.3L279.0 1152.8L280.0 1152.3L281.0 1151.8L282.0 1151.3L283.0 1150.8L284.0 1150.4L285.0 1149.9L286.0 1149.5L287.1 1149.0L288.4 1148.5L289.5 1148.1L290.5 1147.7L291.5 1147.4L292.6 1147.0L294.0 1146.6L295.0 1146.3L296.0 1146.0L297.5 1145.6L298.5 1145.4L300.0 1145.0L301.0 1144.8L302.5 1144.5L303.5 1144.3L305.0 1144.1L306.0 1144.0L307.5 1143.8L309.0 1143.6L310.2 1143.5L311.5 1143.4L313.0 1143.3L314.5 1143.3L316.0 1143.3L317.5 1143.4L319.0 1143.5L320.0 1143.6L321.5 1143.7L322.9 1144.0L324.0 1144.2L325.0 1144.5L326.5 1145.0L327.5 1145.5L328.5 1146.0L329.2 1146.5L330.0 1147.2L330.6 1148.0L331.1 1149.0L331.3 1150.5L331.0 1151.9L330.5 1153.0L330.0 1153.8L329.4 1154.5L328.5 1155.5L328.0 1156.0L327.0 1156.8L326.1 1157.5L325.3 1158.0L324.5 1158.5L323.5 1159.1L322.5 1159.7L321.5 1160.2L320.5 1160.7L319.5 1161.2L318.5 1161.6L317.5 1162.0L316.2 1162.5L315.0 1162.9L314.0 1163.3L313.0 1163.6L311.7 1164.0L310.5 1164.3L309.5 1164.6L308.0 1165.0L307.0 1165.2L305.6 1165.5L304.5 1165.7L303.0 1166.0L302.0 1166.1L300.5 1166.4L299.5 1166.5L298.0 1166.7L296.5 1166.9L295.2 1167.0L294.0 1167.1L292.5 1167.2L291.0 1167.3L289.5 1167.4L288.5 1167.5L287.0 1167.6L285.5 1167.7L284.0 1167.9L282.8 1168.0L281.5 1168.2L280.0 1168.4L279.0 1168.5L277.5 1168.9L276.5 1169.1L275.0 1169.5L274.0 1169.8L273.0 1170.1L271.8 1170.5L270.5 1171.0L269.5 1171.4L268.5 1171.8L267.5 1172.2L266.5 1172.6L265.5 1173.0L264.2 1173.5L263.0 1174.0L262.0 1174.4L261.0 1174.8L260.0 1175.2L259.0 1175.5L257.7 1176.0L256.5 1176.4L255.5 1176.8L254.5 1177.1L253.1 1177.5L252.0 1177.8L251.0 1178.1L249.5 1178.5L248.5 1178.8L247.5 1179.0L246.0 1179.3L245.0 1179.5L243.5 1179.8L242.3 1180.0L241.0 1180.2L239.5 1180.4L238.5 1180.5L238.5 1180.5"/><path d="M183.0 1190.5L181.8 1190.5L180.5 1190.2L179.5 1189.6L178.8 1189.0L178.2 1188.0L177.9 1187.0L178.0 1186.0L178.5 1185.0L179.5 1184.0L180.4 1183.5L181.5 1183.2L183.0 1183.1L184.5 1183.4L185.5 1183.9L186.2 1184.5L186.9 1185.5L187.1 1186.5L187.0 1187.7L186.5 1188.7L185.7 1189.5L185.0 1190.0L183.5 1190.5L183.0 1190.5"/><path d="M105.8 1101.1L105.8 1100.0L105.8 1098.5L105.8 1097.5L105.8 1096.3L105.8 1095.0L105.8 1094.0L105.8 1092.9L105.8 1091.5L105.8 1090.5L105.8 1089.5L105.8 1088.5L105.8 1087.6L105.8 1086.9L105.8 1086.0L105.8 1085.3L105.8 1084.5L105.8 1084.1L105.8 1083.8L107.0 1083.8L108.0 1084.0L109.1 1084.5L110.0 1085.0L111.0 1085.7L111.9 1086.5L112.5 1087.1L113.4 1088.0L114.0 1088.7L114.7 1089.5L115.5 1090.5L116.0 1091.1L116.7 1092.0L117.5 1093.0L118.0 1093.6L118.7 1094.5L119.5 1095.5L120.0 1096.1L120.7 1097.0L121.5 1097.9L122.0 1098.5L123.0 1099.5L123.5 1100.1L124.4 1101.0L125.0 1101.5L126.0 1102.5L126.6 1103.0L127.5 1103.8L128.4 1104.5L129.0 1105.0L130.0 1105.8L130.9 1106.5L131.6 1107.0L132.5 1107.7L133.5 1108.4L134.4 1109.0L135.2 1109.5L136.0 1110.0L137.0 1110.6L138.0 1111.2L139.0 1111.7L140.0 1112.2L141.0 1112.7L142.0 1113.2L143.0 1113.7L144.0 1114.2L145.0 1114.6L146.0 1115.1L147.0 1115.6L148.0 1116.2L149.0 1116.8L150.0 1117.4L150.8 1118.0L151.5 1118.6L152.4 1119.5L153.0 1120.1L153.7 1121.0L154.3 1122.0L154.8 1123.0L155.2 1124.0L155.4 1125.5L155.4 1127.0L155.1 1128.5L154.8 1129.5L154.5 1130.5L154.0 1131.9L153.6 1133.0L153.2 1134.0L152.9 1135.0L152.5 1136.3L152.2 1137.5L152.0 1138.6L151.8 1140.0L151.7 1141.5L151.6 1143.0L151.7 1144.5L151.7 1146.0L151.8 1147.5L152.0 1149.0L152.1 1150.0L152.3 1151.5L152.4 1153.0L152.6 1154.0L152.7 1155.5L152.9 1157.0L153.0 1158.0L153.1 1159.5L153.2 1161.0L153.3 1162.5L153.3 1164.0L153.3 1165.5L153.2 1167.0L153.0 1168.5L152.8 1169.5L152.5 1171.0L152.2 1172.0L151.9 1173.0L151.4 1174.0L150.9 1175.0L150.3 1176.0L149.5 1177.0L148.9 1177.5L148.0 1178.2L147.0 1178.8L146.0 1179.2L144.5 1179.5L143.5 1179.5L142.5 1179.5L141.0 1179.2L140.0 1178.9L139.0 1178.5L137.9 1178.0L137.0 1177.5L136.0 1176.9L135.0 1176.3L134.0 1175.6L133.3 1175.0L132.5 1174.4L131.5 1173.6L130.8 1173.0L130.0 1172.3L129.0 1171.5L128.4 1171.0L127.5 1170.3L126.5 1169.7L125.5 1169.3L124.0 1169.3L123.2 1170.0L122.6 1171.0L122.3 1172.0L122.0 1173.0L121.7 1174.5L121.5 1176.0L121.5 1177.0L121.4 1178.5L121.3 1180.0L121.2 1181.5L121.2 1183.0L121.2 1184.5L121.2 1186.0L121.2 1187.5L121.2 1189.0L121.2 1190.5L121.1 1192.0L121.1 1193.5L121.1 1195.0L121.1 1196.5L121.0 1198.0L121.0 1199.0L120.9 1200.5L120.9 1202.0L120.8 1203.5L120.7 1205.0L120.6 1206.5L120.5 1207.5L120.3 1209.0L120.0 1210.5L119.8 1211.5L119.5 1212.5L119.0 1213.6L118.5 1214.5L117.7 1215.5L117.0 1216.2L116.1 1217.0L115.3 1217.5L114.5 1218.0L113.5 1218.5L112.5 1219.0L111.1 1219.5L110.0 1219.9L109.0 1220.1L107.5 1220.4L106.5 1220.5L105.8 1220.6L105.8 1220.6L105.8 1220.5L105.8 1220.4L105.8 1220.2L105.8 1219.9L105.8 1219.5L105.8 1219.1L105.8 1219.1"/><path d="M289.5 1118.0L288.0 1118.1L286.5 1118.1L285.0 1118.1L283.5 1118.1L282.0 1118.0L281.0 1117.9L279.5 1117.8L278.0 1117.6L277.0 1117.5L275.5 1117.2L274.5 1117.0L273.0 1116.6L272.0 1116.3L270.9 1116.0L269.5 1115.5L268.5 1115.1L267.5 1114.6L266.5 1114.1L265.5 1113.5L264.7 1113.0L264.0 1112.5L263.0 1111.7L262.3 1111.0L261.5 1110.0L261.0 1109.1L260.5 1108.0L260.2 1107.0L260.1 1105.5L260.4 1104.0L260.7 1103.0L261.3 1102.0L261.9 1101.0L262.5 1100.3L263.3 1099.5L264.0 1098.8L265.0 1098.0L265.7 1097.5L266.5 1097.0L267.5 1096.4L268.5 1095.8L269.5 1095.3L270.5 1094.8L271.5 1094.4L272.5 1094.0L273.9 1093.5L275.0 1093.1L276.0 1092.8L277.1 1092.5L278.5 1092.1L279.5 1091.9L281.0 1091.6L282.0 1091.4L283.5 1091.1L284.5 1091.0L286.0 1090.8L287.5 1090.6L289.0 1090.5L290.0 1090.4L291.5 1090.4L293.0 1090.4L294.5 1090.4L296.0 1090.4L297.5 1090.5L298.5 1090.5L300.0 1090.7L301.5 1090.9L302.5 1091.0L304.0 1091.3L305.2 1091.5L306.5 1091.8L307.5 1092.1L308.9 1092.5L310.0 1092.9L311.0 1093.2L312.0 1093.7L313.0 1094.1L314.0 1094.7L315.0 1095.3L316.0 1096.0L316.7 1096.5L317.5 1097.3L318.1 1098.0L318.8 1099.0L319.3 1100.0L319.6 1101.0L319.8 1102.5L319.6 1104.0L319.3 1105.0L318.8 1106.0L318.1 1107.0L317.5 1107.8L316.8 1108.5L316.0 1109.3L315.2 1110.0L314.5 1110.5L313.5 1111.2L312.5 1111.8L311.5 1112.4L310.5 1112.9L309.5 1113.4L308.5 1113.8L307.5 1114.2L306.5 1114.6L305.4 1115.0L304.0 1115.4L303.0 1115.7L302.0 1116.0L300.5 1116.4L299.5 1116.6L298.0 1116.9L297.0 1117.1L295.5 1117.4L294.5 1117.5L293.0 1117.7L291.5 1117.9L290.0 1118.0L289.5 1118.0"/><path d="M297.0 1163.0L295.5 1163.1L294.0 1163.1L292.5 1163.1L291.0 1163.1L289.5 1163.0L288.5 1163.0L287.0 1162.8L285.5 1162.6L284.5 1162.4L283.1 1162.0L282.1 1161.5L281.5 1160.7L281.5 1159.9L282.0 1158.9L282.7 1158.0L283.5 1157.2L284.3 1156.5L285.0 1155.9L286.0 1155.2L286.9 1154.5L287.7 1154.0L288.5 1153.5L289.5 1152.9L290.5 1152.4L291.5 1151.9L292.5 1151.5L293.6 1151.0L294.9 1150.5L296.0 1150.1L297.0 1149.8L298.0 1149.4L299.5 1149.0L300.5 1148.8L301.6 1148.5L303.0 1148.2L304.1 1148.0L305.5 1147.8L307.0 1147.6L308.0 1147.5L309.5 1147.4L311.0 1147.3L312.5 1147.4L314.0 1147.4L315.0 1147.5L316.5 1147.8L317.5 1148.0L319.0 1148.5L320.0 1149.0L320.8 1149.5L321.5 1150.2L322.0 1151.2L322.0 1152.5L321.7 1153.5L321.0 1154.5L320.5 1155.1L319.5 1156.0L318.9 1156.5L318.0 1157.1L317.0 1157.7L316.0 1158.3L315.0 1158.8L314.0 1159.2L313.0 1159.6L312.0 1160.0L310.6 1160.5L309.5 1160.8L308.5 1161.1L307.1 1161.5L306.0 1161.8L304.9 1162.0L303.5 1162.3L302.0 1162.5L301.0 1162.6L299.5 1162.8L298.0 1163.0L297.0 1163.0L297.0 1163.0"/><path d="M239.0 1178.0L237.5 1178.1L236.0 1178.2L234.5 1178.1L233.0 1178.0L232.0 1177.9L230.5 1177.5L229.5 1177.2L228.5 1176.7L227.6 1176.0L227.0 1175.1L226.9 1174.0L227.3 1173.0L227.9 1172.0L228.5 1171.4L229.5 1170.5L230.3 1170.0L231.0 1169.5L232.0 1168.9L233.0 1168.4L234.0 1167.9L235.0 1167.5L236.2 1167.0L237.5 1166.5L238.5 1166.2L239.5 1165.9L240.9 1165.5L242.0 1165.2L243.0 1165.0L244.5 1164.7L245.5 1164.5L247.0 1164.2L248.2 1164.0L249.5 1163.8L251.0 1163.6L252.5 1163.5L253.5 1163.4L255.0 1163.3L256.5 1163.3L258.0 1163.3L259.5 1163.3L261.0 1163.3L262.5 1163.4L263.5 1163.5L265.0 1163.8L266.0 1164.0L267.1 1164.5L267.7 1165.5L267.3 1166.5L266.5 1167.5L266.0 1168.0L265.0 1168.8L264.1 1169.5L263.3 1170.0L262.5 1170.5L261.5 1171.1L260.5 1171.7L259.5 1172.2L258.5 1172.7L257.5 1173.2L256.5 1173.6L255.5 1174.0L254.3 1174.5L253.0 1175.0L252.0 1175.3L251.0 1175.6L249.8 1176.0L248.5 1176.4L247.5 1176.6L246.0 1177.0L245.0 1177.2L243.5 1177.5L242.5 1177.6L241.0 1177.8L239.5 1178.0L239.0 1178.0"/><path d="M105.8 1113.9L105.8 1112.5L105.8 1111.0L105.8 1109.7L105.8 1108.5L105.8 1107.0L105.8 1106.0L105.8 1104.5L105.8 1103.5L105.8 1102.0L105.8 1101.0L105.8 1099.5L105.8 1098.5L105.8 1097.5L105.8 1096.1L105.8 1095.0L105.8 1094.0L105.8 1093.0L105.8 1092.0L105.8 1091.2L105.8 1090.5L105.8 1089.6L105.8 1089.0L105.8 1088.6L106.5 1088.4L107.7 1088.5L109.0 1088.9L110.0 1089.5L110.7 1090.0L111.5 1090.7L112.4 1091.5L113.0 1092.1L113.8 1093.0L114.5 1093.9L115.0 1094.5L115.8 1095.5L116.5 1096.4L117.0 1097.0L117.7 1098.0L118.5 1099.0L119.0 1099.6L119.7 1100.5L120.5 1101.5L121.0 1102.1L121.8 1103.0L122.5 1103.8L123.2 1104.5L124.0 1105.4L124.6 1106.0L125.5 1106.8L126.2 1107.5L127.0 1108.2L127.8 1109.0L128.5 1109.6L129.5 1110.5L130.1 1111.0L131.0 1111.8L131.8 1112.5L132.5 1113.1L133.5 1114.0L134.1 1114.5L135.0 1115.3L135.7 1116.0L136.5 1116.7L137.3 1117.5L138.0 1118.2L138.8 1119.0L139.5 1119.7L140.2 1120.5L141.0 1121.5L141.5 1122.1L142.1 1123.0L142.7 1124.0L143.2 1125.0L143.6 1126.0L144.0 1127.2L144.3 1128.5L144.5 1129.5L144.8 1131.0L145.0 1132.5L145.1 1133.5L145.2 1135.0L145.4 1136.5L145.5 1137.8L145.6 1139.0L145.8 1140.5L146.0 1142.0L146.1 1143.0L146.3 1144.5L146.5 1145.9L146.7 1147.0L146.9 1148.5L147.0 1149.6L147.2 1151.0L147.4 1152.5L147.5 1153.9L147.6 1155.0L147.7 1156.5L147.8 1158.0L147.8 1159.5L147.7 1161.0L147.6 1162.5L147.5 1163.5L147.2 1165.0L146.9 1166.0L146.5 1167.1L146.0 1168.2L145.5 1169.0L144.7 1170.0L144.0 1170.6L143.0 1171.2L142.0 1171.6L140.5 1171.8L139.0 1171.7L137.9 1171.5L136.5 1171.0L135.5 1170.5L134.5 1170.0L133.7 1169.5L133.0 1169.0L132.0 1168.3L131.0 1167.6L130.3 1167.0L129.5 1166.3L128.5 1165.5L127.8 1165.0L127.0 1164.4L126.0 1163.7L125.0 1163.3L123.5 1163.1L122.5 1163.6L121.8 1164.5L121.4 1165.5L121.0 1166.5L120.7 1168.0L120.5 1169.0L120.3 1170.5L120.2 1172.0L120.1 1173.5L120.0 1175.0L120.0 1176.5L120.0 1177.5L120.0 1179.0L120.0 1180.0L120.0 1181.5L120.0 1183.0L120.1 1184.5L120.1 1186.0L120.1 1187.5L120.1 1189.0L120.1 1190.5L120.1 1192.0L120.1 1193.5L120.1 1195.0L120.1 1196.5L120.1 1198.0L120.0 1199.5L120.0 1200.5L119.9 1202.0L119.8 1203.5L119.7 1205.0L119.6 1206.5L119.5 1207.6L119.3 1209.0L119.0 1210.5L118.8 1211.5L118.4 1212.5L118.0 1213.5L117.4 1214.5L116.5 1215.5L116.0 1216.0L115.0 1216.8L114.0 1217.4L113.0 1218.0L112.0 1218.4L111.0 1218.8L110.0 1219.1L108.5 1219.5L107.5 1219.7L106.0 1219.9L105.8 1220.0L105.8 1219.9L105.8 1219.8L105.8 1219.6L105.8 1219.4L105.8 1219.0L105.8 1218.6L105.8 1218.4"/><path d="M293.5 1115.0L292.0 1115.2L290.5 1115.3L289.0 1115.4L287.5 1115.4L286.0 1115.4L284.5 1115.4L283.0 1115.3L281.5 1115.2L280.2 1115.0L279.0 1114.8L277.5 1114.5L276.5 1114.3L275.4 1114.0L274.0 1113.5L273.0 1113.2L272.0 1112.8L271.0 1112.3L270.0 1111.7L269.0 1111.0L268.3 1110.5L267.5 1109.7L266.9 1109.0L266.3 1108.0L265.9 1107.0L265.6 1105.5L265.9 1104.0L266.2 1103.0L266.8 1102.0L267.5 1101.1L268.1 1100.5L269.0 1099.6L269.8 1099.0L270.5 1098.5L271.5 1097.9L272.5 1097.3L273.5 1096.8L274.5 1096.4L275.5 1096.0L276.7 1095.5L278.0 1095.1L279.0 1094.8L280.0 1094.5L281.5 1094.1L282.5 1093.9L284.0 1093.6L285.0 1093.5L286.5 1093.3L288.0 1093.1L289.3 1093.0L290.5 1092.9L292.0 1092.9L293.5 1092.9L295.0 1092.9L296.5 1093.0L297.5 1093.1L299.0 1093.2L300.5 1093.5L301.5 1093.6L303.0 1094.0L304.0 1094.2L305.0 1094.5L306.5 1095.0L307.5 1095.4L308.5 1095.8L309.5 1096.4L310.5 1097.0L311.2 1097.5L312.0 1098.1L312.8 1099.0L313.5 1100.0L314.0 1101.0L314.2 1102.0L314.2 1103.5L314.0 1104.5L313.5 1105.6L312.9 1106.5L312.1 1107.5L311.5 1108.0L310.5 1108.9L309.7 1109.5L308.9 1110.0L308.0 1110.6L307.0 1111.1L306.0 1111.6L305.0 1112.0L303.8 1112.5L302.5 1113.0L301.5 1113.3L300.5 1113.6L299.0 1114.0L298.0 1114.2L296.6 1114.5L295.5 1114.7L294.0 1114.9L293.5 1115.0"/><path d="M243.5 1173.0L242.0 1173.1L240.6 1173.0L239.7 1172.5L240.0 1171.4L241.0 1170.7L242.0 1170.2L243.0 1169.9L244.4 1169.5L245.5 1169.3L247.0 1169.2L248.5 1169.4L249.5 1170.0L249.4 1170.5L248.5 1171.4L247.5 1171.9L246.5 1172.3L245.5 1172.6L244.0 1173.0L243.5 1173.0"/><path d="M105.8 1132.5L105.8 1131.0L105.8 1129.5L105.8 1128.0L105.8 1126.5L105.8 1125.5L105.8 1124.0L105.8 1122.5L105.8 1121.0L105.8 1120.0L105.8 1118.5L105.8 1117.0L105.8 1115.8L105.8 1114.5L105.8 1113.0L105.8 1112.0L105.8 1110.5L105.8 1109.2L105.8 1108.0L105.8 1106.7L105.8 1105.5L105.8 1104.5L105.8 1103.0L105.8 1102.0L105.8 1101.0L105.8 1100.0L105.8 1098.8L105.8 1097.8L105.8 1097.0L105.8 1096.0L105.8 1095.1L105.8 1094.5L105.8 1094.0L107.0 1093.8L108.5 1094.0L109.5 1094.4L110.4 1095.0L111.1 1095.5L112.0 1096.4L112.6 1097.0L113.5 1098.0L114.0 1098.6L114.7 1099.5L115.5 1100.5L116.0 1101.2L116.6 1102.0L117.3 1103.0L118.0 1104.0L118.5 1104.7L119.1 1105.5L119.9 1106.5L120.5 1107.3L121.1 1108.0L121.9 1109.0L122.5 1109.7L123.2 1110.5L124.0 1111.4L124.5 1112.0L125.5 1113.0L126.0 1113.5L126.9 1114.5L127.5 1115.1L128.3 1116.0L129.0 1116.7L129.7 1117.5L130.5 1118.4L131.0 1119.0L131.8 1120.0L132.5 1120.9L133.0 1121.6L133.6 1122.5L134.3 1123.5L134.9 1124.5L135.4 1125.5L135.9 1126.5L136.4 1127.5L136.8 1128.5L137.2 1129.5L137.6 1130.5L138.0 1131.7L138.4 1133.0L138.7 1134.0L139.0 1135.3L139.3 1136.5L139.5 1137.5L139.8 1139.0L140.0 1140.0L140.3 1141.5L140.5 1142.6L140.7 1144.0L140.9 1145.5L141.1 1146.5L141.2 1148.0L141.4 1149.5L141.5 1151.0L141.5 1152.5L141.4 1154.0L141.3 1155.5L141.1 1157.0L140.8 1158.0L140.4 1159.0L139.9 1160.0L139.1 1161.0L138.5 1161.5L137.5 1162.0L136.0 1162.2L134.5 1162.0L133.5 1161.7L132.5 1161.2L131.5 1160.6L130.5 1160.0L129.8 1159.5L129.0 1159.0L128.0 1158.2L127.0 1157.5L126.3 1157.0L125.4 1156.5L124.3 1156.0L123.0 1155.8L122.0 1156.2L121.1 1157.0L120.5 1158.0L120.1 1159.0L119.8 1160.0L119.5 1161.0L119.2 1162.5L119.0 1163.9L118.9 1165.0L118.8 1166.5L118.7 1168.0L118.6 1169.5L118.6 1171.0L118.6 1172.5L118.6 1174.0L118.6 1175.5L118.7 1177.0L118.7 1178.5L118.8 1180.0L118.8 1181.5L118.9 1183.0L118.9 1184.5L119.0 1186.0L119.0 1187.0L119.0 1188.5L119.1 1190.0L119.1 1191.5L119.1 1193.0L119.1 1194.5L119.1 1196.0L119.1 1197.5L119.0 1199.0L119.0 1200.0L118.9 1201.5L118.9 1203.0L118.8 1204.5L118.6 1206.0L118.5 1207.4L118.4 1208.5L118.1 1210.0L117.9 1211.0L117.5 1212.1L117.0 1213.2L116.5 1214.1L115.8 1215.0L115.0 1215.7L114.0 1216.5L113.2 1217.0L112.2 1217.5L111.0 1218.0L110.0 1218.4L109.0 1218.6L107.5 1219.0L106.5 1219.1L105.8 1219.2L105.8 1219.2L105.8 1219.1L105.8 1219.0L105.8 1218.7L105.8 1218.5L105.8 1218.0L105.8 1217.5L105.8 1217.5"/><path d="M289.0 1112.0L287.5 1112.0L286.2 1112.0L285.0 1111.9L283.5 1111.8L282.0 1111.5L281.0 1111.3L279.7 1111.0L278.5 1110.6L277.5 1110.2L276.5 1109.7L275.5 1109.1L274.7 1108.5L274.0 1107.8L273.4 1107.0L273.0 1106.0L272.9 1104.5L273.2 1103.5L273.7 1102.5L274.5 1101.6L275.1 1101.0L276.0 1100.3L277.0 1099.7L278.0 1099.2L279.0 1098.7L280.0 1098.3L281.0 1097.9L282.3 1097.5L283.5 1097.2L284.5 1097.0L286.0 1096.7L287.2 1096.5L288.5 1096.4L290.0 1096.2L291.5 1096.2L293.0 1096.2L294.5 1096.3L296.0 1096.4L297.0 1096.5L298.5 1096.8L299.5 1097.0L301.0 1097.5L302.0 1097.8L303.0 1098.3L304.0 1098.8L305.0 1099.5L305.6 1100.0L306.4 1101.0L306.9 1102.0L307.1 1103.0L307.0 1104.0L306.5 1105.2L305.9 1106.0L305.0 1107.0L304.4 1107.5L303.5 1108.1L302.5 1108.7L301.5 1109.2L300.5 1109.7L299.5 1110.1L298.2 1110.5L297.0 1110.9L296.0 1111.1L294.5 1111.4L293.5 1111.6L292.0 1111.8L290.5 1111.9L289.4 1112.0L289.0 1112.0"/><path d="M105.8 1152.8L105.8 1151.5L105.8 1150.0L105.8 1148.5L105.8 1147.5L105.8 1146.0L105.8 1144.5L105.8 1143.0L105.8 1141.5L105.8 1140.5L105.8 1139.0L105.8 1137.5L105.8 1136.0L105.8 1134.5L105.8 1133.5L105.8 1132.0L105.8 1130.5L105.8 1129.0L105.8 1128.0L105.8 1126.5L105.8 1125.0L105.8 1123.5L105.8 1122.5L105.8 1121.0L105.8 1119.5L105.8 1118.5L105.8 1117.0L105.8 1116.0L105.8 1114.5L105.8 1113.5L105.8 1112.0L105.8 1111.0L105.8 1109.5L105.8 1108.5L105.8 1107.5L105.8 1106.1L105.8 1105.0L105.8 1104.0L105.8 1103.0L105.8 1102.3L105.8 1101.5L105.8 1100.8L106.5 1100.3L108.0 1100.1L109.2 1100.5L110.1 1101.0L111.0 1101.7L111.8 1102.5L112.5 1103.2L113.1 1104.0L113.9 1105.0L114.5 1105.9L115.0 1106.6L115.6 1107.5L116.2 1108.5L116.8 1109.5L117.4 1110.5L118.0 1111.4L118.5 1112.3L119.0 1113.1L119.6 1114.0L120.2 1115.0L120.8 1116.0L121.5 1117.0L122.0 1117.8L122.5 1118.5L123.2 1119.5L123.9 1120.5L124.5 1121.4L125.0 1122.1L125.6 1123.0L126.3 1124.0L127.0 1125.0L127.5 1125.8L128.0 1126.7L128.5 1127.6L129.0 1128.5L129.5 1129.5L130.0 1130.6L130.5 1131.8L130.9 1133.0L131.3 1134.0L131.6 1135.0L132.0 1136.5L132.2 1137.5L132.5 1139.0L132.6 1140.0L132.7 1141.5L132.7 1143.0L132.5 1144.5L132.3 1145.5L131.7 1146.5L131.0 1147.2L130.0 1147.5L129.0 1147.5L127.5 1147.0L126.5 1146.6L125.5 1146.2L124.5 1145.9L123.0 1145.8L122.0 1146.1L121.0 1146.8L120.4 1147.5L119.8 1148.5L119.3 1149.5L118.9 1150.5L118.5 1151.8L118.2 1153.0L118.0 1154.0L117.7 1155.5L117.5 1156.7L117.3 1158.0L117.2 1159.5L117.1 1161.0L117.0 1162.5L117.0 1163.5L117.0 1165.0L116.9 1166.5L117.0 1168.0L117.0 1169.5L117.0 1170.5L117.1 1172.0L117.2 1173.5L117.2 1175.0L117.3 1176.5L117.4 1178.0L117.5 1179.5L117.5 1180.5L117.6 1182.0L117.7 1183.5L117.8 1185.0L117.8 1186.5L117.9 1188.0L117.9 1189.5L118.0 1191.0L118.0 1192.4L118.0 1193.5L118.0 1195.0L118.0 1196.5L118.0 1197.5L118.0 1199.0L117.9 1200.5L117.8 1202.0L117.8 1203.5L117.6 1205.0L117.5 1206.5L117.4 1207.5L117.2 1209.0L117.0 1210.0L116.5 1211.5L116.2 1212.5L115.6 1213.5L115.0 1214.3L114.4 1215.0L113.5 1215.7L112.5 1216.4L111.5 1216.9L110.5 1217.4L109.5 1217.7L108.3 1218.0L107.0 1218.3L105.8 1218.4L105.8 1218.5L105.8 1218.4L105.8 1218.2L105.8 1218.0L105.8 1217.7L105.8 1217.3L105.8 1216.9L105.8 1216.6"/><path d="M105.8 1163.4L105.8 1162.0L105.8 1160.7L105.8 1159.5L105.8 1158.0L105.8 1157.0L105.8 1155.5L105.8 1154.5L105.8 1153.0L105.8 1151.5L105.8 1150.5L105.8 1149.0L105.8 1147.5L105.8 1146.0L105.8 1145.0L105.8 1143.5L105.8 1142.0L105.8 1140.5L105.8 1139.5L105.8 1138.0L105.8 1136.5L105.8 1135.0L105.8 1134.0L105.8 1132.5L105.8 1131.0L105.8 1129.5L105.8 1128.5L105.8 1127.0L105.8 1125.6L105.8 1124.5L105.8 1123.0L105.8 1122.0L105.8 1120.5L105.8 1119.5L105.8 1118.0L105.8 1117.0L105.8 1115.6L105.8 1114.5L105.8 1113.5L105.8 1112.5L105.8 1111.5L105.8 1110.5L105.8 1109.5L106.0 1108.9L107.0 1108.3L108.5 1108.2L109.5 1108.6L110.5 1109.4L111.1 1110.0L111.9 1111.0L112.5 1111.8L113.0 1112.6L113.5 1113.5L114.0 1114.5L114.5 1115.6L115.0 1116.7L115.5 1118.0L115.9 1119.0L116.2 1120.0L116.5 1121.0L116.9 1122.5L117.2 1123.5L117.5 1125.0L117.6 1126.0L117.8 1127.5L117.9 1129.0L118.0 1130.5L118.0 1132.0L117.9 1133.5L117.7 1135.0L117.5 1136.4L117.3 1137.5L117.1 1139.0L116.9 1140.0L116.7 1141.5L116.5 1142.5L116.3 1144.0L116.0 1145.5L115.9 1146.5L115.7 1148.0L115.5 1149.5L115.4 1150.5L115.3 1152.0L115.2 1153.5L115.1 1155.0L115.0 1156.5L115.0 1158.0L115.0 1159.0L115.0 1160.5L115.0 1161.6L115.0 1163.0L115.1 1164.5L115.2 1166.0L115.2 1167.5L115.3 1169.0L115.4 1170.5L115.5 1171.5L115.6 1173.0L115.8 1174.5L115.9 1176.0L116.0 1177.5L116.1 1178.5L116.2 1180.0L116.3 1181.5L116.4 1183.0L116.5 1184.5L116.6 1185.5L116.6 1187.0L116.7 1188.5L116.8 1190.0L116.8 1191.5L116.8 1193.0L116.9 1194.5L116.9 1196.0L116.8 1197.5L116.8 1199.0L116.8 1200.5L116.7 1202.0L116.6 1203.5L116.5 1204.6L116.4 1206.0L116.2 1207.5L116.0 1208.7L115.7 1210.0L115.4 1211.0L115.0 1212.1L114.5 1213.1L113.8 1214.0L113.0 1214.8L112.1 1215.5L111.3 1216.0L110.2 1216.5L109.0 1216.9L108.0 1217.2L106.5 1217.5L105.8 1217.6L105.8 1217.7L105.8 1217.6L105.8 1217.5L105.8 1217.2L105.8 1216.9L105.8 1216.5L105.8 1216.0L105.8 1215.5L105.8 1215.5"/><path d="M105.8 1171.3L105.8 1170.0L105.8 1169.0L105.8 1167.5L105.8 1166.5L105.8 1165.0L105.8 1164.0L105.8 1162.8L105.8 1161.5L105.8 1160.5L105.8 1159.0L105.8 1158.0L105.8 1156.5L105.8 1155.5L105.8 1154.0L105.8 1152.6L105.8 1151.5L105.8 1150.0L105.8 1149.0L105.8 1147.5L105.8 1146.0L105.8 1145.0L105.8 1143.5L105.8 1142.0L105.8 1140.8L105.8 1139.5L105.8 1138.0L105.8 1136.7L105.8 1135.5L105.8 1134.0L105.8 1133.0L105.8 1131.5L105.8 1130.3L105.8 1129.0L105.8 1127.9L105.8 1126.5L105.8 1125.5L105.8 1124.4L105.8 1123.1L105.8 1122.1L106.0 1121.3L106.8 1120.5L108.0 1120.1L109.0 1120.6L109.8 1121.5L110.4 1122.5L110.8 1123.5L111.2 1124.5L111.5 1125.6L111.8 1127.0L112.0 1128.0L112.2 1129.5L112.4 1131.0L112.5 1132.1L112.6 1133.5L112.6 1135.0L112.7 1136.5L112.7 1138.0L112.6 1139.5L112.6 1141.0L112.6 1142.5L112.5 1144.0L112.5 1145.0L112.5 1146.5L112.4 1148.0L112.4 1149.5L112.4 1151.0L112.4 1152.5L112.4 1154.0L112.5 1155.5L112.5 1156.7L112.6 1158.0L112.6 1159.5L112.8 1161.0L112.9 1162.5L113.0 1164.0L113.1 1165.0L113.2 1166.5L113.4 1168.0L113.5 1169.0L113.7 1170.5L113.9 1172.0L114.0 1173.2L114.1 1174.5L114.3 1176.0L114.5 1177.5L114.6 1178.5L114.7 1180.0L114.9 1181.5L115.0 1182.9L115.1 1184.0L115.2 1185.5L115.3 1187.0L115.4 1188.5L115.5 1190.0L115.5 1191.2L115.5 1192.5L115.6 1194.0L115.6 1195.5L115.6 1197.0L115.5 1198.5L115.5 1199.7L115.4 1201.0L115.4 1202.5L115.3 1204.0L115.1 1205.5L115.0 1206.5L114.8 1208.0L114.5 1209.3L114.2 1210.5L113.8 1211.5L113.3 1212.5L112.6 1213.5L112.0 1214.1L111.0 1214.9L110.0 1215.5L109.0 1215.9L108.0 1216.2L106.8 1216.5L105.8 1216.7L105.8 1216.7L105.8 1216.7L105.8 1216.5L105.8 1216.2L105.8 1215.8L105.8 1215.4L105.8 1214.8L105.8 1214.0L105.8 1213.9"/><path d="M105.8 1179.6L105.8 1178.5L105.8 1177.2L105.8 1176.0L105.8 1175.0L105.8 1173.5L105.8 1172.5L105.8 1171.2L105.8 1170.0L105.8 1169.0L105.8 1167.8L105.8 1166.5L105.8 1165.5L105.8 1164.5L105.8 1163.0L105.8 1162.0L105.8 1161.0L105.8 1160.0L105.8 1158.5L105.8 1157.5L105.8 1156.5L105.8 1155.5L105.8 1154.1L105.8 1153.0L105.8 1152.0L105.8 1151.0L105.8 1150.0L106.0 1149.3L107.0 1149.9L107.5 1151.0L107.8 1152.0L108.1 1153.0L108.5 1154.5L108.7 1155.5L109.0 1157.0L109.2 1158.0L109.5 1159.5L109.7 1160.5L110.0 1162.0L110.2 1163.0L110.5 1164.5L110.7 1165.5L110.9 1167.0L111.1 1168.0L111.4 1169.5L111.6 1170.5L111.9 1172.0L112.0 1173.0L112.3 1174.5L112.5 1176.0L112.7 1177.0L112.9 1178.5L113.0 1179.5L113.2 1181.0L113.4 1182.5L113.5 1183.8L113.6 1185.0L113.8 1186.5L113.9 1188.0L114.0 1189.5L114.0 1190.5L114.1 1192.0L114.1 1193.5L114.1 1195.0L114.1 1196.5L114.1 1198.0L114.1 1199.5L114.0 1201.0L113.9 1202.0L113.8 1203.5L113.7 1205.0L113.5 1206.4L113.3 1207.5L113.0 1209.0L112.7 1210.0L112.3 1211.0L111.8 1212.0L111.0 1213.0L110.5 1213.5L109.5 1214.3L108.5 1214.8L107.5 1215.1L106.0 1215.5L105.8 1215.6L105.8 1215.6L105.8 1215.5L105.8 1215.2L105.8 1214.9L105.8 1214.5L105.8 1213.8L105.8 1213.0L105.8 1212.2L105.8 1211.3L105.8 1211.3"/><path d="M105.8 1193.2L105.8 1192.0L105.8 1190.5L105.8 1189.0L105.8 1187.9L105.8 1186.5L105.8 1185.0L105.8 1184.0L105.8 1182.5L105.8 1181.5L105.8 1180.0L105.8 1179.0L105.8 1177.9L105.8 1176.5L105.8 1175.5L105.8 1174.5L105.8 1173.4L105.8 1172.1L105.8 1171.0L105.8 1170.0L105.8 1169.0L105.8 1168.2L105.8 1167.5L105.8 1166.5L105.8 1166.1L106.1 1166.5L107.0 1167.4L107.5 1168.2L108.0 1169.2L108.5 1170.4L108.9 1171.5L109.2 1172.5L109.5 1173.5L109.9 1175.0L110.2 1176.0L110.5 1177.5L110.7 1178.5L111.0 1180.0L111.2 1181.0L111.4 1182.5L111.6 1183.5L111.8 1185.0L111.9 1186.5L112.0 1187.5L112.2 1189.0L112.3 1190.5L112.4 1192.0L112.4 1193.5L112.5 1195.0L112.5 1196.5L112.4 1198.0L112.4 1199.5L112.3 1201.0L112.2 1202.5L112.1 1204.0L111.9 1205.0L111.7 1206.5L111.5 1207.5L111.1 1209.0L110.7 1210.0L110.2 1211.0L109.5 1212.0L109.0 1212.5L108.0 1213.2L107.0 1213.7L106.0 1214.0L105.8 1214.2L105.8 1214.1L105.8 1214.0L105.8 1213.5L105.8 1213.0L105.8 1212.3L105.8 1211.5L105.8 1210.5L105.8 1209.5L105.8 1208.5L105.8 1207.0L105.8 1206.0L105.8 1204.5L105.8 1203.0L105.8 1201.9L105.8 1201.9"/><path d="M105.8 1211.7L105.8 1211.9L105.8 1211.6L105.8 1211.1L105.8 1210.5L105.8 1209.5L105.8 1208.5L105.8 1207.5L105.8 1206.5L105.8 1205.0L105.8 1204.0L105.8 1202.5L105.8 1201.0L105.8 1199.5L105.8 1198.5L105.8 1197.0L105.8 1195.7L105.8 1194.5L105.8 1193.0L105.8 1191.5L105.8 1190.0L105.8 1189.0L105.8 1187.5L105.8 1186.5L105.8 1185.0L105.8 1184.0L105.8 1182.8L105.8 1181.5L105.8 1180.5L105.8 1179.5L105.8 1178.5L105.8 1177.5L105.8 1176.9L105.8 1176.2L105.8 1176.3L106.3 1177.0L107.0 1178.0L107.5 1179.0L107.9 1180.0L108.3 1181.0L108.6 1182.0L109.0 1183.5L109.2 1184.5L109.5 1186.0L109.6 1187.0L109.9 1188.5L110.0 1189.7L110.1 1191.0L110.2 1192.5L110.3 1194.0L110.4 1195.5L110.4 1197.0L110.3 1198.5L110.3 1200.0L110.1 1201.5L110.0 1202.8L109.8 1204.0L109.6 1205.5L109.3 1206.5L109.0 1207.6L108.5 1208.8L108.0 1209.7L107.4 1210.5L106.5 1211.2L105.8 1211.7L105.8 1211.7"/><path d="M105.8 1205.2L105.8 1205.0L105.8 1204.0L105.8 1203.0L105.8 1202.0L105.8 1200.5L105.8 1199.5L105.8 1198.0L105.8 1196.5L105.8 1195.0L105.8 1194.0L105.8 1192.5L105.8 1191.5L105.8 1190.1L105.8 1189.1L105.8 1188.5L105.8 1188.4L105.8 1189.0L106.0 1190.1L106.4 1191.5L106.6 1192.5L106.8 1194.0L107.0 1195.5L107.0 1197.0L106.9 1198.5L106.8 1200.0L106.5 1201.5L106.3 1202.5L105.9 1203.5L105.8 1204.5L105.8 1205.2L105.8 1205.2"/></g><path d="M105.4 1009 H376.2 V1279" stroke="#aaa" stroke-width="1.2" fill="none"/><path d="M105.4 1009 V1279 H376.2" stroke="#111" stroke-width="1.2" fill="none"/><path d="M101.9 1015.7H105.4M101.9 1079.7H105.4M101.9 1068.5H105.4M101.9 1060.5H105.4M100.4 1054.3H105.4M101.9 1049.2H105.4M101.9 1044.9H105.4M101.9 1041.2H105.4M101.9 1037.9H105.4M101.9 1150.7H105.4M101.9 1137.7H105.4M101.9 1128.4H105.4M100.4 1121.3H105.4M101.9 1115.4H105.4M101.9 1110.5H105.4M101.9 1106.2H105.4M101.9 1102.4H105.4M101.9 1179.5H105.4M101.9 1186.1H105.4M101.9 1192.7H105.4M101.9 1199.2H105.4M101.9 1205.8H105.4M101.9 1220.5H105.4M101.9 1228.7H105.4M101.9 1236.9H105.4M101.9 1245.1H105.4M101.9 1253.3H105.4" stroke="#111" stroke-width="1.1"/><path d="M98.4 1035.0H105.4M98.4 1099.0H105.4M98.4 1173.0H105.4M98.4 1212.3H105.4M98.4 1261.5H105.4" stroke="#111" stroke-width="1.8"/><path d="M115.7 1279V1282.5M125.9 1279V1282.5M136.2 1279V1282.5M146.5 1279V1282.5M167.0 1279V1282.5M177.3 1279V1282.5M187.6 1279V1282.5M197.8 1279V1282.5M218.4 1279V1282.5M228.6 1279V1282.5M238.9 1279V1282.5M249.2 1279V1282.5M269.7 1279V1282.5M280.0 1279V1282.5M290.3 1279V1282.5M300.5 1279V1282.5M321.1 1279V1282.5M331.3 1279V1282.5M341.6 1279V1282.5M351.9 1279V1282.5M372.4 1279V1282.5" stroke="#111" stroke-width="1.1"/><path d="M105.4 1279V1286M156.8 1279V1286M208.1 1279V1286M259.4 1279V1286M310.8 1279V1286M362.1 1279V1286" stroke="#111" stroke-width="1.8"/><text x="94" y="1039.8" font-size="12" text-anchor="end">10<tspan font-size="7.5" dy="-6">5</tspan></text><text x="94" y="1103.8" font-size="12" text-anchor="end">10<tspan font-size="7.5" dy="-6">4</tspan></text><text x="94" y="1177.8" font-size="12" text-anchor="end">10<tspan font-size="7.5" dy="-6">3</tspan></text><text x="93" y="1216.5" font-size="12" text-anchor="end">0</text><text x="94" y="1266" font-size="12" text-anchor="end">−10<tspan font-size="7.5" dy="-6">3</tspan></text><text x="105.9" y="1303.5" font-size="12" text-anchor="middle">0</text><text x="157.2" y="1303.5" font-size="12" text-anchor="middle">50k</text><text x="208.6" y="1303.5" font-size="12" text-anchor="middle">100k</text><text x="260.0" y="1303.5" font-size="12" text-anchor="middle">150k</text><text x="311.3" y="1303.5" font-size="12" text-anchor="middle">200k</text><text x="362.6" y="1303.5" font-size="12" text-anchor="middle">250k</text><ellipse cx="146.2" cy="1137.8" rx="17.8" ry="54.6" transform="rotate(-4 146.2 1137.8)" fill="none" stroke="#ff2a1a" stroke-width="1.5"/><ellipse cx="292.5" cy="1104.5" rx="43.6" ry="21.6" transform="rotate(-6 292.5 1104.5)" fill="none" stroke="#3cb43c" stroke-width="1.4"/><ellipse cx="317.9" cy="1154.7" rx="36" ry="21.8" transform="rotate(-12 317.9 1154.7)" fill="none" stroke="#c846c8" stroke-width="1.4"/><ellipse cx="183.3" cy="1186.2" rx="17.6" ry="16.3" transform="rotate(-20 183.3 1186.2)" fill="none" stroke="#4050b4" stroke-width="1.3"/><text transform="translate(128.60 1073.80) scale(1 1.011)" font-size="29.36" fill="#e8141e">12.9±0.6</text><text x="263.41" y="1073.80" font-size="29.80" fill="#009a44">6.5±1.3</text><text transform="translate(146.38 1235.60) scale(1 0.988)" font-size="29.88" fill="#1570be">3.0±1.0</text><text x="268.69" y="1214.71" font-size="29.69" fill="#662d91">3.9±0.7</text>
<g fill="none" stroke="#555" stroke-width="0.9"><path d="M105.8 1390.0L105.8 1389.4L105.8 1388.9L105.8 1388.5L105.8 1388.1L105.8 1387.8L105.8 1387.6L105.8 1387.5L105.8 1387.5L106.5 1387.5L108.0 1387.7L109.3 1388.0L110.5 1388.3L111.5 1388.7L112.5 1389.1L113.5 1389.6L114.5 1390.2L115.5 1390.9L116.3 1391.5L117.0 1392.1L118.0 1393.0L118.5 1393.5L119.4 1394.5L120.0 1395.1L120.8 1396.0L121.5 1396.8L122.1 1397.5L123.0 1398.5L123.5 1399.0L124.4 1400.0L125.0 1400.6L125.9 1401.5L126.5 1402.1L127.5 1403.0L128.0 1403.5L129.0 1404.3L129.9 1405.0L130.5 1405.5L131.5 1406.2L132.5 1406.8L133.5 1407.4L134.5 1407.9L135.5 1408.4L136.5 1408.9L137.5 1409.3L138.5 1409.6L139.6 1410.0L141.0 1410.4L142.0 1410.7L143.2 1411.0L144.5 1411.3L145.5 1411.6L147.0 1412.0L148.0 1412.3L149.0 1412.6L150.3 1413.0L151.5 1413.4L152.5 1413.8L153.5 1414.2L154.5 1414.6L155.5 1415.0L156.5 1415.5L157.5 1416.0L158.5 1416.5L159.5 1417.0L160.5 1417.6L161.5 1418.2L162.5 1418.8L163.5 1419.5L164.3 1420.0L165.0 1420.5L166.0 1421.1L167.0 1421.8L168.0 1422.4L168.9 1423.0L169.8 1423.5L170.8 1424.0L171.9 1424.5L173.0 1424.9L174.0 1425.1L175.5 1425.4L177.0 1425.4L178.5 1425.3L180.0 1425.1L181.0 1424.9L182.5 1424.6L183.5 1424.3L184.7 1424.0L186.0 1423.7L187.0 1423.4L188.5 1423.0L189.5 1422.8L191.0 1422.5L192.0 1422.3L193.5 1422.1L194.5 1422.0L196.0 1421.9L197.5 1421.8L199.0 1421.8L200.5 1421.9L202.0 1422.0L203.0 1422.1L204.5 1422.4L205.5 1422.7L206.5 1423.0L207.8 1423.5L208.9 1424.0L209.8 1424.5L210.5 1425.0L211.5 1425.8L212.1 1426.5L212.9 1427.5L213.4 1428.5L213.7 1429.5L213.8 1431.0L213.6 1432.5L213.3 1433.5L212.8 1434.5L212.2 1435.5L211.5 1436.4L211.0 1437.0L210.0 1437.9L209.3 1438.5L208.5 1439.1L207.5 1439.8L206.5 1440.4L205.5 1441.0L204.5 1441.5L203.5 1441.9L202.5 1442.4L201.5 1442.8L200.5 1443.1L199.3 1443.5L198.0 1443.9L197.0 1444.1L195.5 1444.5L194.5 1444.7L193.3 1445.0L192.0 1445.3L191.0 1445.5L189.5 1445.8L188.5 1446.1L187.0 1446.5L186.0 1446.8L185.0 1447.1L184.0 1447.6L183.0 1448.1L182.0 1448.8L181.1 1449.5L180.5 1450.1L179.7 1451.0L179.0 1451.9L178.5 1452.6L177.9 1453.5L177.4 1454.5L176.8 1455.5L176.3 1456.5L175.8 1457.5L175.4 1458.5L174.9 1459.5L174.5 1460.6L174.0 1461.9L173.6 1463.0L173.3 1464.0L173.0 1465.4L172.8 1466.5L172.5 1468.0L172.4 1469.0L172.3 1470.5L172.3 1472.0L172.3 1473.5L172.3 1475.0L172.4 1476.5L172.5 1477.8L172.6 1479.0L172.7 1480.5L172.8 1482.0L172.9 1483.5L173.0 1484.8L173.1 1486.0L173.1 1487.5L173.2 1489.0L173.2 1490.5L173.2 1492.0L173.1 1493.5L173.0 1495.0L172.9 1496.0L172.8 1497.5L172.6 1499.0L172.4 1500.0L172.2 1501.5L171.9 1502.5L171.6 1504.0L171.3 1505.0L171.0 1506.1L170.5 1507.5L170.2 1508.5L169.8 1509.5L169.3 1510.5L168.8 1511.5L168.3 1512.5L167.7 1513.5L167.1 1514.5L166.5 1515.4L166.0 1516.0L165.2 1517.0L164.5 1517.7L163.6 1518.5L163.0 1519.0L162.0 1519.7L161.0 1520.3L160.0 1520.8L159.0 1521.2L158.0 1521.5L156.5 1521.9L155.4 1522.0L154.0 1522.1L152.8 1522.0L151.5 1521.9L150.0 1521.6L149.0 1521.3L148.0 1521.0L146.7 1520.5L145.6 1520.0L144.6 1519.5L143.7 1519.0L142.8 1518.5L142.0 1518.0L141.0 1517.4L140.0 1516.7L139.1 1516.0L138.5 1515.5L137.5 1514.7L136.6 1514.0L136.0 1513.5L135.0 1512.6L134.3 1512.0L133.5 1511.3L132.6 1510.5L132.0 1509.9L131.0 1509.2L130.0 1508.5L129.0 1508.1L127.6 1508.5L127.0 1509.3L126.5 1510.5L126.3 1511.5L126.0 1512.7L125.8 1514.0L125.6 1515.5L125.5 1516.5L125.3 1518.0L125.2 1519.5L125.0 1521.0L124.9 1522.0L124.8 1523.5L124.6 1525.0L124.4 1526.0L124.1 1527.5L123.9 1528.5L123.5 1529.5L123.0 1530.6L122.5 1531.5L121.7 1532.5L121.0 1533.3L120.2 1534.0L119.5 1534.6L118.5 1535.3L117.5 1536.0L116.6 1536.5L115.7 1537.0L114.6 1537.5L113.5 1538.0L112.5 1538.4L111.5 1538.7L110.4 1539.0L109.0 1539.3L108.0 1539.5L106.5 1539.7L105.8 1539.8L105.8 1539.8L105.8 1539.7L105.8 1539.6L105.8 1539.4L105.8 1539.1L105.8 1538.8L105.8 1538.5L105.8 1538.5"/><path d="M226.5 1511.5L225.0 1511.7L223.5 1511.8L222.0 1511.8L220.5 1511.8L219.0 1511.7L217.5 1511.6L216.5 1511.5L215.0 1511.2L214.0 1511.0L212.5 1510.6L211.5 1510.3L210.5 1509.9L209.4 1509.5L208.3 1509.0L207.3 1508.5L206.5 1508.0L205.5 1507.4L204.5 1506.7L203.7 1506.0L203.0 1505.4L202.2 1504.5L201.5 1503.7L200.9 1503.0L200.3 1502.0L199.7 1501.0L199.2 1500.0L198.9 1499.0L198.5 1497.8L198.2 1496.5L198.0 1495.0L198.0 1493.5L198.1 1492.0L198.3 1490.5L198.5 1489.5L199.0 1488.0L199.3 1487.0L199.7 1486.0L200.2 1485.0L200.7 1484.0L201.2 1483.0L201.8 1482.0L202.5 1481.0L203.0 1480.3L203.6 1479.5L204.4 1478.5L205.0 1477.8L205.7 1477.0L206.5 1476.1L207.1 1475.5L208.0 1474.6L208.7 1474.0L209.5 1473.3L210.4 1472.5L211.0 1472.0L212.0 1471.2L212.9 1470.5L213.6 1470.0L214.5 1469.4L215.5 1468.7L216.5 1468.0L217.3 1467.5L218.1 1467.0L219.0 1466.5L220.0 1465.9L221.0 1465.3L222.0 1464.7L223.0 1464.2L224.0 1463.6L225.0 1463.1L226.0 1462.5L227.0 1462.0L227.9 1461.5L228.9 1461.0L229.8 1460.5L230.7 1460.0L231.7 1459.5L232.6 1459.0L233.5 1458.5L234.5 1457.9L235.5 1457.3L236.5 1456.7L237.5 1456.1L238.5 1455.5L239.3 1455.0L240.0 1454.5L241.0 1453.9L242.0 1453.2L243.0 1452.5L243.7 1452.0L244.5 1451.4L245.5 1450.6L246.3 1450.0L247.0 1449.4L248.0 1448.5L248.6 1448.0L249.5 1447.0L250.0 1446.3L250.5 1445.4L251.0 1444.1L251.2 1443.0L251.2 1441.5L251.0 1440.3L250.7 1439.0L250.5 1438.0L250.1 1436.5L250.0 1435.5L249.8 1434.0L249.7 1432.5L249.8 1431.0L250.0 1429.8L250.4 1428.5L250.8 1427.5L251.3 1426.5L251.9 1425.5L252.5 1424.6L253.0 1424.0L253.9 1423.0L254.5 1422.4L255.4 1421.5L256.0 1421.0L257.0 1420.2L258.0 1419.5L258.7 1419.0L259.5 1418.5L260.5 1417.9L261.5 1417.4L262.5 1416.8L263.5 1416.3L264.5 1415.9L265.5 1415.4L266.5 1415.0L267.8 1414.5L269.0 1414.1L270.0 1413.7L271.0 1413.4L272.2 1413.0L273.5 1412.6L274.5 1412.4L275.9 1412.0L277.0 1411.7L278.0 1411.5L279.5 1411.2L280.5 1411.0L282.0 1410.7L283.4 1410.5L284.5 1410.3L286.0 1410.1L287.2 1410.0L288.5 1409.9L290.0 1409.7L291.5 1409.6L293.0 1409.5L294.0 1409.5L295.5 1409.4L297.0 1409.4L298.5 1409.4L300.0 1409.4L301.5 1409.5L302.5 1409.5L304.0 1409.6L305.5 1409.8L307.0 1409.9L308.0 1410.0L309.5 1410.2L311.0 1410.5L312.0 1410.6L313.5 1410.9L314.5 1411.1L316.0 1411.5L317.0 1411.8L318.0 1412.0L319.4 1412.5L320.5 1412.9L321.5 1413.2L322.5 1413.6L323.5 1414.1L324.5 1414.5L325.5 1415.1L326.5 1415.6L327.5 1416.2L328.5 1417.0L329.2 1417.5L330.0 1418.2L330.8 1419.0L331.5 1419.8L332.0 1420.5L332.6 1421.5L333.1 1422.5L333.5 1423.7L333.7 1425.0L333.7 1426.5L333.5 1428.0L333.2 1429.0L332.8 1430.0L332.2 1431.0L331.6 1432.0L331.0 1432.8L330.4 1433.5L329.5 1434.5L329.0 1435.0L328.0 1435.9L327.2 1436.5L326.5 1437.1L325.5 1437.8L324.5 1438.5L323.7 1439.0L322.9 1439.5L322.0 1440.0L321.0 1440.6L320.0 1441.1L319.0 1441.7L318.0 1442.1L317.0 1442.6L316.0 1443.1L315.0 1443.5L314.0 1444.0L312.8 1444.5L311.6 1445.0L310.5 1445.5L309.5 1445.9L308.5 1446.3L307.5 1446.7L306.5 1447.1L305.4 1447.5L304.1 1448.0L303.0 1448.5L302.0 1448.9L301.0 1449.3L300.0 1449.8L299.0 1450.3L298.0 1450.8L297.0 1451.4L296.0 1452.0L295.3 1452.5L294.5 1453.2L293.7 1454.0L293.1 1455.0L292.8 1456.0L293.1 1457.0L294.0 1457.9L295.0 1458.4L296.0 1458.8L297.0 1459.0L298.5 1459.3L299.8 1459.5L301.0 1459.7L302.5 1459.8L303.9 1460.0L305.0 1460.1L306.5 1460.3L308.0 1460.5L309.0 1460.6L310.5 1460.8L311.8 1461.0L313.0 1461.2L314.5 1461.5L315.5 1461.7L316.7 1462.0L318.0 1462.4L319.0 1462.7L320.0 1463.0L321.2 1463.5L322.2 1464.0L323.1 1464.5L324.0 1465.1L325.0 1465.9L325.6 1466.5L326.3 1467.5L326.7 1468.5L326.9 1470.0L326.6 1471.5L326.1 1472.5L325.5 1473.5L325.0 1474.1L324.1 1475.0L323.5 1475.5L322.5 1476.3L321.6 1477.0L320.8 1477.5L319.9 1478.0L319.0 1478.5L318.0 1479.0L316.9 1479.5L315.8 1480.0L314.5 1480.5L313.5 1480.9L312.5 1481.2L311.5 1481.5L310.0 1482.0L309.0 1482.3L308.0 1482.5L306.5 1482.9L305.5 1483.1L304.0 1483.4L303.0 1483.5L301.5 1483.8L300.0 1484.0L299.0 1484.1L297.5 1484.2L296.0 1484.4L294.5 1484.4L293.0 1484.5L292.0 1484.5L290.5 1484.5L289.5 1484.5L288.0 1484.4L286.5 1484.3L285.0 1484.2L283.5 1484.0L282.5 1483.9L281.0 1483.7L279.5 1483.5L278.5 1483.3L277.0 1483.1L276.0 1482.9L274.5 1482.7L273.0 1482.5L272.0 1482.4L270.5 1482.4L269.3 1482.5L268.0 1482.8L267.0 1483.1L266.0 1483.6L265.0 1484.2L264.0 1484.9L263.4 1485.5L262.5 1486.4L262.0 1487.0L261.2 1488.0L260.5 1488.9L260.0 1489.6L259.3 1490.5L258.6 1491.5L258.0 1492.4L257.5 1493.1L256.8 1494.0L256.0 1495.0L255.5 1495.7L254.8 1496.5L254.0 1497.4L253.5 1498.0L252.5 1499.0L252.0 1499.5L251.0 1500.4L250.4 1501.0L249.5 1501.7L248.5 1502.5L247.9 1503.0L247.0 1503.6L246.0 1504.3L245.0 1505.0L244.1 1505.5L243.3 1506.0L242.4 1506.5L241.4 1507.0L240.4 1507.5L239.3 1508.0L238.1 1508.5L237.0 1508.9L236.0 1509.3L235.0 1509.6L233.9 1510.0L232.5 1510.4L231.5 1510.6L230.0 1511.0L229.0 1511.2L227.5 1511.4L226.5 1511.5L226.5 1511.5"/><path d="M376.0 1448.1L376.0 1448.0L376.0 1447.5L376.0 1446.5L376.0 1445.5L375.6 1444.5L375.3 1443.5L375.1 1442.0L375.0 1441.0L374.9 1439.5L375.0 1438.5L375.2 1437.0L375.5 1435.9L376.0 1434.5L376.0 1433.6L376.0 1432.9L376.0 1432.1L376.0 1431.9L376.0 1432.1L376.0 1432.9L376.0 1433.6L376.0 1434.5L376.0 1435.9L376.0 1437.0L376.0 1438.5L376.0 1439.5L376.0 1441.0L376.0 1442.0L376.0 1443.5L376.0 1444.5L376.0 1445.5L376.0 1446.5L376.0 1447.5L376.0 1448.0L376.0 1448.1"/><path d="M105.8 1392.3L105.8 1391.5L105.8 1391.0L105.8 1390.5L105.8 1390.0L105.8 1389.5L105.8 1389.2L105.8 1389.0L105.8 1388.9L106.0 1388.9L107.0 1389.0L108.5 1389.3L109.5 1389.5L110.8 1390.0L111.9 1390.5L112.8 1391.0L113.6 1391.5L114.5 1392.1L115.5 1393.0L116.1 1393.5L117.0 1394.4L117.6 1395.0L118.5 1396.0L119.0 1396.6L119.7 1397.5L120.5 1398.4L121.0 1399.0L121.8 1400.0L122.5 1400.8L123.2 1401.5L124.0 1402.4L124.5 1403.0L125.5 1404.0L126.1 1404.5L127.0 1405.4L127.7 1406.0L128.5 1406.7L129.5 1407.5L130.2 1408.0L131.0 1408.5L132.0 1409.2L133.0 1409.8L134.0 1410.4L135.0 1410.9L136.0 1411.3L137.0 1411.7L138.0 1412.1L139.1 1412.5L140.5 1412.9L141.5 1413.2L142.6 1413.5L144.0 1413.9L145.0 1414.1L146.4 1414.5L147.5 1414.8L148.5 1415.1L149.8 1415.5L151.0 1415.9L152.0 1416.3L153.0 1416.7L154.0 1417.1L155.0 1417.5L156.0 1418.0L157.0 1418.5L158.0 1419.0L159.0 1419.6L160.0 1420.2L161.0 1420.8L162.0 1421.5L162.8 1422.0L163.5 1422.5L164.5 1423.2L165.5 1423.9L166.4 1424.5L167.2 1425.0L168.0 1425.5L169.0 1426.1L170.0 1426.7L171.0 1427.2L172.0 1427.6L173.4 1428.0L174.5 1428.2L176.0 1428.3L177.5 1428.3L179.0 1428.0L180.0 1427.8L181.0 1427.5L182.5 1427.0L183.5 1426.7L184.5 1426.4L185.7 1426.0L187.0 1425.6L188.0 1425.3L189.1 1425.0L190.5 1424.7L191.5 1424.5L193.0 1424.2L194.5 1424.0L195.5 1423.9L197.0 1423.8L198.5 1423.8L200.0 1423.9L201.0 1424.1L202.5 1424.3L203.5 1424.6L204.8 1425.0L206.0 1425.5L206.9 1426.0L207.7 1426.5L208.5 1427.2L209.2 1428.0L209.8 1429.0L210.2 1430.0L210.3 1431.5L210.0 1433.0L209.6 1434.0L209.0 1435.0L208.5 1435.7L207.8 1436.5L207.0 1437.2L206.0 1438.0L205.3 1438.5L204.5 1439.0L203.5 1439.6L202.5 1440.1L201.5 1440.5L200.2 1441.0L199.0 1441.4L198.0 1441.7L197.0 1442.0L195.5 1442.4L194.5 1442.6L193.0 1442.9L192.0 1443.0L190.5 1443.3L189.0 1443.5L188.0 1443.6L186.5 1443.9L185.5 1444.1L184.0 1444.4L183.0 1444.7L182.0 1445.1L181.0 1445.5L180.0 1446.1L179.0 1446.9L178.3 1447.5L177.5 1448.4L177.0 1449.0L176.3 1450.0L175.6 1451.0L175.0 1452.0L174.5 1452.9L174.0 1453.9L173.5 1454.9L173.0 1455.9L172.5 1456.9L172.0 1458.0L171.6 1459.0L171.2 1460.0L170.8 1461.0L170.5 1462.0L170.0 1463.5L169.8 1464.5L169.5 1466.0L169.4 1467.0L169.2 1468.5L169.1 1470.0L169.1 1471.5L169.1 1473.0L169.2 1474.5L169.3 1476.0L169.4 1477.5L169.5 1478.9L169.6 1480.0L169.7 1481.5L169.8 1483.0L169.9 1484.5L169.9 1486.0L170.0 1487.5L170.0 1489.0L169.9 1490.5L169.9 1492.0L169.8 1493.5L169.6 1495.0L169.5 1496.0L169.3 1497.5L169.0 1499.0L168.8 1500.0L168.5 1501.3L168.2 1502.5L167.9 1503.5L167.5 1504.6L167.0 1505.9L166.5 1507.0L166.1 1508.0L165.5 1509.0L165.0 1509.9L164.5 1510.7L164.0 1511.5L163.2 1512.5L162.5 1513.3L161.8 1514.0L161.0 1514.7L160.0 1515.4L159.1 1516.0L158.2 1516.5L157.0 1517.0L156.0 1517.3L155.0 1517.5L153.5 1517.7L152.0 1517.7L150.5 1517.6L149.5 1517.4L148.0 1517.1L147.0 1516.8L146.0 1516.4L145.0 1516.0L144.0 1515.5L143.0 1515.0L142.0 1514.4L141.0 1513.8L140.0 1513.1L139.1 1512.5L138.5 1512.0L137.5 1511.3L136.5 1510.5L135.9 1510.0L135.0 1509.2L134.2 1508.5L133.5 1507.9L132.5 1507.0L131.9 1506.5L131.0 1505.7L130.0 1505.0L129.2 1504.5L128.0 1504.2L127.0 1504.5L126.3 1505.5L125.9 1506.5L125.5 1508.0L125.3 1509.0L125.1 1510.5L125.0 1511.5L124.8 1513.0L124.7 1514.5L124.6 1516.0L124.5 1517.0L124.4 1518.5L124.3 1520.0L124.1 1521.5L124.0 1522.9L123.9 1524.0L123.7 1525.5L123.5 1526.6L123.2 1528.0L122.9 1529.0L122.5 1530.0L121.9 1531.0L121.2 1532.0L120.5 1532.9L119.8 1533.5L119.0 1534.2L118.0 1535.0L117.2 1535.5L116.3 1536.0L115.4 1536.5L114.3 1537.0L113.1 1537.5L112.0 1537.9L111.0 1538.2L109.9 1538.5L108.5 1538.8L107.1 1539.0L106.0 1539.1L105.8 1539.2L105.8 1539.2L105.8 1539.1L105.8 1538.9L105.8 1538.7L105.8 1538.4L105.8 1538.0L105.8 1537.9"/><path d="M227.5 1509.5L226.0 1509.7L224.5 1509.8L223.0 1509.9L221.5 1509.9L220.0 1509.8L218.5 1509.7L217.1 1509.5L216.0 1509.3L214.7 1509.0L213.5 1508.7L212.5 1508.3L211.5 1508.0L210.4 1507.5L209.4 1507.0L208.5 1506.5L207.5 1505.8L206.5 1505.1L205.8 1504.5L205.0 1503.8L204.3 1503.0L203.5 1502.0L203.0 1501.3L202.5 1500.5L202.0 1499.5L201.5 1498.2L201.1 1497.0L200.9 1496.0L200.7 1494.5L200.7 1493.0L200.8 1491.5L201.0 1490.4L201.3 1489.0L201.6 1488.0L202.0 1486.9L202.5 1485.7L203.0 1484.7L203.5 1483.7L204.0 1482.9L204.6 1482.0L205.3 1481.0L206.0 1480.0L206.5 1479.4L207.3 1478.5L208.0 1477.7L208.7 1477.0L209.5 1476.2L210.2 1475.5L211.0 1474.8L212.0 1474.0L212.6 1473.5L213.5 1472.8L214.5 1472.1L215.3 1471.5L216.0 1471.0L217.0 1470.4L218.0 1469.7L219.0 1469.1L220.0 1468.6L221.0 1468.0L221.9 1467.5L222.9 1467.0L223.9 1466.5L224.9 1466.0L226.0 1465.5L227.0 1465.0L228.0 1464.6L229.0 1464.1L230.0 1463.7L231.0 1463.3L232.0 1462.8L233.0 1462.4L234.0 1462.0L235.2 1461.5L236.3 1461.0L237.5 1460.5L238.5 1460.1L239.5 1459.6L240.5 1459.1L241.5 1458.6L242.5 1458.1L243.5 1457.6L244.5 1457.1L245.5 1456.5L246.3 1456.0L247.1 1455.5L248.0 1454.9L249.0 1454.3L250.0 1453.6L250.8 1453.0L251.5 1452.5L252.5 1451.7L253.3 1451.0L254.0 1450.4L254.8 1449.5L255.5 1448.6L256.0 1447.8L256.4 1446.5L256.5 1445.0L256.2 1443.5L255.8 1442.5L255.4 1441.5L254.9 1440.5L254.5 1439.5L254.0 1438.4L253.5 1437.2L253.1 1436.0L252.8 1435.0L252.5 1433.6L252.4 1432.5L252.4 1431.0L252.5 1430.0L252.9 1428.5L253.3 1427.5L253.8 1426.5L254.4 1425.5L255.0 1424.7L255.6 1424.0L256.5 1423.0L257.0 1422.5L258.0 1421.6L258.7 1421.0L259.5 1420.4L260.5 1419.7L261.5 1419.1L262.5 1418.5L263.4 1418.0L264.3 1417.5L265.3 1417.0L266.4 1416.5L267.5 1416.0L268.5 1415.6L269.5 1415.2L270.5 1414.9L271.6 1414.5L273.0 1414.0L274.0 1413.7L275.0 1413.5L276.5 1413.1L277.5 1412.8L278.9 1412.5L280.0 1412.3L281.4 1412.0L282.5 1411.8L284.0 1411.6L285.0 1411.4L286.5 1411.2L288.0 1411.0L289.0 1410.9L290.5 1410.8L292.0 1410.7L293.5 1410.6L295.0 1410.6L296.5 1410.6L298.0 1410.6L299.5 1410.6L301.0 1410.6L302.5 1410.7L304.0 1410.8L305.5 1411.0L306.5 1411.1L308.0 1411.3L309.5 1411.5L310.5 1411.7L312.0 1412.0L313.0 1412.2L314.4 1412.5L315.5 1412.8L316.5 1413.1L317.8 1413.5L319.0 1413.9L320.0 1414.3L321.0 1414.7L322.0 1415.1L323.0 1415.6L324.0 1416.2L325.0 1416.8L326.0 1417.5L326.7 1418.0L327.5 1418.7L328.4 1419.5L329.0 1420.2L329.6 1421.0L330.2 1422.0L330.6 1423.0L331.0 1424.2L331.2 1425.5L331.1 1427.0L330.9 1428.0L330.5 1429.3L330.0 1430.4L329.5 1431.2L329.0 1432.0L328.2 1433.0L327.5 1433.8L326.8 1434.5L326.0 1435.2L325.0 1436.0L324.4 1436.5L323.5 1437.1L322.5 1437.8L321.5 1438.4L320.6 1439.0L319.7 1439.5L318.8 1440.0L317.8 1440.5L316.8 1441.0L315.7 1441.5L314.6 1442.0L313.5 1442.5L312.5 1442.9L311.5 1443.3L310.5 1443.7L309.5 1444.1L308.3 1444.5L307.0 1445.0L306.0 1445.3L305.0 1445.7L304.0 1446.0L302.5 1446.5L301.5 1446.8L300.5 1447.1L299.4 1447.5L298.0 1448.0L297.0 1448.3L296.0 1448.6L294.8 1449.0L293.5 1449.5L292.5 1449.8L291.5 1450.2L290.5 1450.6L289.5 1451.0L288.5 1451.5L287.5 1452.0L286.5 1452.5L285.5 1453.1L284.5 1453.8L283.7 1454.5L283.0 1455.1L282.1 1456.0L281.5 1456.8L281.0 1457.5L280.4 1458.5L280.0 1459.5L280.0 1461.0L280.5 1461.7L281.5 1462.3L282.5 1462.5L284.0 1462.7L285.5 1462.8L287.0 1462.8L288.5 1462.7L290.0 1462.7L291.5 1462.7L293.0 1462.6L294.5 1462.6L296.0 1462.6L297.5 1462.5L299.0 1462.5L300.5 1462.6L302.0 1462.6L303.5 1462.7L305.0 1462.7L306.5 1462.9L307.9 1463.0L309.0 1463.1L310.5 1463.4L311.5 1463.5L313.0 1463.8L314.0 1464.1L315.4 1464.5L316.5 1464.9L317.5 1465.3L318.5 1465.8L319.5 1466.4L320.3 1467.0L321.0 1467.8L321.5 1468.5L322.0 1470.0L321.8 1471.5L321.4 1472.5L320.7 1473.5L320.0 1474.3L319.3 1475.0L318.5 1475.6L317.5 1476.3L316.5 1476.9L315.5 1477.5L314.5 1478.0L313.5 1478.4L312.5 1478.9L311.5 1479.2L310.5 1479.6L309.3 1480.0L308.0 1480.4L307.0 1480.6L305.5 1481.0L304.5 1481.2L303.1 1481.5L302.0 1481.7L300.5 1481.9L299.5 1482.0L298.0 1482.2L296.5 1482.3L295.0 1482.4L293.5 1482.4L292.0 1482.4L290.5 1482.4L289.0 1482.3L287.5 1482.1L286.3 1482.0L285.0 1481.8L283.5 1481.5L282.5 1481.3L281.1 1481.0L280.0 1480.7L279.0 1480.4L277.8 1480.0L276.5 1479.5L275.5 1479.2L274.5 1478.8L273.5 1478.4L272.5 1478.0L271.1 1477.5L270.0 1477.2L268.5 1477.1L267.0 1477.3L266.0 1477.8L265.0 1478.4L264.3 1479.0L263.5 1479.7L262.8 1480.5L262.1 1481.5L261.5 1482.3L261.0 1483.0L260.4 1484.0L259.8 1485.0L259.2 1486.0L258.6 1487.0L258.0 1488.0L257.5 1488.8L257.0 1489.7L256.5 1490.5L255.9 1491.5L255.2 1492.5L254.5 1493.5L254.0 1494.1L253.3 1495.0L252.5 1496.0L252.0 1496.6L251.2 1497.5L250.5 1498.2L249.7 1499.0L249.0 1499.6L248.0 1500.5L247.4 1501.0L246.5 1501.7L245.5 1502.4L244.6 1503.0L243.9 1503.5L243.0 1504.0L242.0 1504.6L241.0 1505.2L240.0 1505.7L239.0 1506.1L238.0 1506.6L237.0 1507.0L235.7 1507.5L234.5 1507.9L233.5 1508.2L232.5 1508.5L231.0 1508.9L230.0 1509.1L228.5 1509.4L227.5 1509.5L227.5 1509.5"/><path d="M376.0 1446.5L376.0 1446.5L376.0 1445.9L376.0 1445.0L376.0 1444.0L376.0 1442.8L375.8 1441.5L375.7 1440.0L375.8 1438.5L376.0 1437.2L376.0 1436.0L376.0 1435.0L376.0 1434.1L376.0 1433.5L376.0 1433.5L376.0 1434.0L376.0 1434.7L376.0 1435.7L376.0 1437.0L376.0 1438.0L376.0 1439.5L376.0 1441.0L376.0 1442.5L376.0 1443.5L376.0 1444.5L376.0 1445.5L376.0 1446.3L376.0 1446.5"/><path d="M105.8 1395.8L105.8 1395.0L105.8 1394.0L105.8 1393.4L105.8 1392.6L105.8 1392.0L105.8 1391.5L105.8 1391.1L105.8 1390.9L105.8 1390.7L106.0 1390.7L107.5 1390.8L108.5 1391.1L109.8 1391.5L110.9 1392.0L111.8 1392.5L112.6 1393.0L113.5 1393.7L114.4 1394.5L115.0 1395.0L115.9 1396.0L116.5 1396.6L117.2 1397.5L118.0 1398.4L118.5 1399.0L119.3 1400.0L120.0 1400.9L120.5 1401.5L121.3 1402.5L122.0 1403.3L122.6 1404.0L123.5 1405.0L124.0 1405.5L125.0 1406.5L125.5 1407.0L126.5 1407.9L127.1 1408.5L128.0 1409.2L129.0 1410.0L129.6 1410.5L130.5 1411.1L131.5 1411.8L132.5 1412.4L133.5 1413.0L134.4 1413.5L135.4 1414.0L136.5 1414.5L137.5 1414.9L138.5 1415.2L139.5 1415.6L140.9 1416.0L142.0 1416.3L143.0 1416.6L144.5 1417.0L145.5 1417.2L146.5 1417.5L148.0 1417.9L149.0 1418.3L150.0 1418.6L151.1 1419.0L152.4 1419.5L153.5 1420.0L154.5 1420.4L155.5 1420.9L156.5 1421.4L157.5 1422.0L158.4 1422.5L159.2 1423.0L160.0 1423.5L161.0 1424.2L162.0 1424.9L162.8 1425.5L163.5 1426.0L164.5 1426.7L165.5 1427.5L166.2 1428.0L167.0 1428.6L168.0 1429.3L169.0 1430.0L169.8 1430.5L170.6 1431.0L171.5 1431.5L172.6 1432.0L174.0 1432.5L175.0 1432.7L176.5 1432.8L178.0 1432.6L179.0 1432.3L180.0 1431.9L181.0 1431.4L182.0 1430.9L183.0 1430.4L184.0 1429.9L185.0 1429.4L186.0 1428.9L187.1 1428.5L188.4 1428.0L189.5 1427.6L190.5 1427.3L191.9 1427.0L193.0 1426.8L194.5 1426.6L195.9 1426.5L197.0 1426.5L198.0 1426.5L199.5 1426.7L200.9 1427.0L202.0 1427.4L203.0 1427.8L204.0 1428.5L204.6 1429.0L205.3 1430.0L205.7 1431.0L205.7 1432.5L205.4 1433.5L204.8 1434.5L204.0 1435.5L203.5 1436.0L202.5 1436.8L201.5 1437.4L200.5 1437.9L199.5 1438.4L198.5 1438.8L197.5 1439.1L196.2 1439.5L195.0 1439.8L193.8 1440.0L192.5 1440.2L191.0 1440.3L189.5 1440.4L188.0 1440.5L186.5 1440.5L185.0 1440.5L183.5 1440.5L182.5 1440.5L181.0 1440.6L179.5 1441.0L178.5 1441.4L177.5 1442.0L176.9 1442.5L176.0 1443.4L175.5 1444.0L174.8 1445.0L174.1 1446.0L173.5 1447.0L173.0 1447.8L172.5 1448.8L172.0 1449.7L171.5 1450.7L171.0 1451.7L170.5 1452.7L170.0 1453.7L169.5 1454.7L169.0 1455.7L168.5 1456.8L168.0 1458.0L167.6 1459.0L167.2 1460.0L166.9 1461.0L166.5 1462.2L166.2 1463.5L166.0 1464.5L165.8 1466.0L165.6 1467.5L165.6 1469.0L165.6 1470.5L165.6 1472.0L165.7 1473.5L165.8 1475.0L165.9 1476.5L166.0 1477.7L166.1 1479.0L166.2 1480.5L166.3 1482.0L166.4 1483.5L166.4 1485.0L166.4 1486.5L166.4 1488.0L166.4 1489.5L166.3 1491.0L166.1 1492.5L166.0 1493.6L165.8 1495.0L165.5 1496.5L165.3 1497.5L165.0 1498.8L164.6 1500.0L164.3 1501.0L164.0 1502.0L163.5 1503.1L163.0 1504.2L162.5 1505.1L162.0 1506.0L161.3 1507.0L160.6 1508.0L160.0 1508.7L159.2 1509.5L158.5 1510.1L157.5 1510.9L156.5 1511.5L155.5 1512.0L154.5 1512.4L153.5 1512.7L152.0 1512.9L150.5 1513.0L149.0 1512.9L147.5 1512.6L146.5 1512.3L145.4 1512.0L144.2 1511.5L143.1 1511.0L142.1 1510.5L141.2 1510.0L140.3 1509.5L139.5 1509.0L138.5 1508.3L137.5 1507.5L136.8 1507.0L136.0 1506.4L135.0 1505.5L134.4 1505.0L133.5 1504.3L132.6 1503.5L132.0 1502.9L131.0 1502.1L130.3 1501.5L129.5 1500.9L128.5 1500.3L127.5 1500.0L126.5 1500.2L125.7 1501.0L125.3 1502.0L125.0 1503.0L124.7 1504.5L124.5 1505.5L124.3 1507.0L124.2 1508.5L124.0 1510.0L124.0 1511.0L123.9 1512.5L123.8 1514.0L123.7 1515.5L123.6 1517.0L123.5 1518.5L123.5 1519.5L123.3 1521.0L123.2 1522.5L123.1 1524.0L122.9 1525.0L122.7 1526.5L122.5 1527.5L122.0 1529.0L121.6 1530.0L121.1 1531.0L120.5 1531.8L119.9 1532.5L119.0 1533.4L118.2 1534.0L117.5 1534.5L116.5 1535.2L115.5 1535.7L114.5 1536.2L113.5 1536.7L112.5 1537.1L111.2 1537.5L110.0 1537.9L109.0 1538.1L107.5 1538.3L106.0 1538.5L105.8 1538.6L105.8 1538.6L105.8 1538.5L105.8 1538.4L105.8 1538.2L105.8 1537.9L105.8 1537.5L105.8 1537.2L105.8 1537.2"/><path d="M279.0 1449.5L277.5 1449.7L276.0 1449.9L274.5 1450.0L273.0 1450.0L271.5 1449.8L270.0 1449.5L269.0 1449.2L268.0 1448.7L267.0 1448.0L266.3 1447.5L265.5 1446.9L264.5 1446.0L264.0 1445.5L263.0 1444.6L262.4 1444.0L261.5 1443.1L261.0 1442.5L260.1 1441.5L259.5 1440.9L258.8 1440.0L258.1 1439.0L257.5 1438.2L257.0 1437.4L256.5 1436.5L256.0 1435.4L255.5 1434.0L255.3 1433.0L255.2 1431.5L255.3 1430.0L255.5 1429.0L256.0 1427.6L256.5 1426.5L257.0 1425.7L257.5 1425.0L258.3 1424.0L259.0 1423.3L259.8 1422.5L260.5 1421.9L261.5 1421.1L262.4 1420.5L263.1 1420.0L264.0 1419.5L265.0 1418.9L266.0 1418.4L267.0 1417.9L268.0 1417.4L269.0 1416.9L270.1 1416.5L271.4 1416.0L272.5 1415.6L273.5 1415.3L274.5 1415.0L276.0 1414.5L277.0 1414.2L278.0 1414.0L279.5 1413.6L280.5 1413.4L282.0 1413.1L283.0 1413.0L284.5 1412.7L286.0 1412.5L287.0 1412.4L288.5 1412.2L290.0 1412.1L291.0 1412.0L292.5 1411.9L294.0 1411.8L295.5 1411.8L297.0 1411.8L298.5 1411.8L300.0 1411.8L301.5 1411.9L302.7 1412.0L304.0 1412.1L305.5 1412.3L307.0 1412.5L308.0 1412.6L309.5 1412.9L310.5 1413.1L312.0 1413.4L313.0 1413.6L314.3 1414.0L315.5 1414.3L316.5 1414.7L317.5 1415.0L318.7 1415.5L319.8 1416.0L320.8 1416.5L321.7 1417.0L322.6 1417.5L323.5 1418.1L324.5 1418.9L325.2 1419.5L326.0 1420.3L326.6 1421.0L327.3 1422.0L327.8 1423.0L328.2 1424.0L328.4 1425.5L328.4 1427.0L328.1 1428.5L327.7 1429.5L327.2 1430.5L326.6 1431.5L326.0 1432.2L325.4 1433.0L324.5 1433.9L323.8 1434.5L323.0 1435.2L322.0 1436.0L321.3 1436.5L320.5 1437.0L319.5 1437.7L318.5 1438.2L317.5 1438.8L316.5 1439.3L315.5 1439.8L314.5 1440.3L313.5 1440.7L312.5 1441.2L311.5 1441.6L310.4 1442.0L309.0 1442.5L308.0 1442.9L307.0 1443.2L306.0 1443.5L304.5 1444.0L303.5 1444.3L302.5 1444.6L301.1 1445.0L300.0 1445.3L299.0 1445.5L297.5 1445.9L296.5 1446.2L295.1 1446.5L294.0 1446.7L292.8 1447.0L291.5 1447.3L290.5 1447.5L289.0 1447.8L288.0 1448.0L286.5 1448.3L285.3 1448.5L284.0 1448.7L282.5 1449.0L281.5 1449.2L280.0 1449.4L279.0 1449.5L279.0 1449.5"/><path d="M376.0 1444.5L376.0 1444.5L376.0 1443.5L376.0 1442.5L376.0 1441.5L376.0 1440.0L376.0 1438.5L376.0 1437.5L376.0 1436.5L376.0 1435.5L376.0 1435.5L376.0 1436.0L376.0 1437.0L376.0 1438.0L376.0 1439.5L376.0 1441.0L376.0 1442.4L376.0 1443.5L376.0 1444.2L376.0 1444.5"/><path d="M227.0 1507.5L225.5 1507.7L224.0 1507.8L222.5 1507.8L221.0 1507.7L219.5 1507.6L218.5 1507.5L217.0 1507.2L216.0 1506.9L214.5 1506.5L213.5 1506.1L212.5 1505.7L211.5 1505.2L210.5 1504.7L209.5 1504.0L208.8 1503.5L208.0 1502.8L207.2 1502.0L206.5 1501.2L206.0 1500.5L205.3 1499.5L204.8 1498.5L204.4 1497.5L204.0 1496.2L203.7 1495.0L203.6 1493.5L203.6 1492.0L203.8 1490.5L204.0 1489.5L204.4 1488.0L204.8 1487.0L205.2 1486.0L205.7 1485.0L206.3 1484.0L206.9 1483.0L207.5 1482.1L208.0 1481.4L208.7 1480.5L209.5 1479.6L210.0 1479.0L211.0 1478.0L211.5 1477.5L212.5 1476.6L213.2 1476.0L214.0 1475.3L215.0 1474.6L215.8 1474.0L216.5 1473.5L217.5 1472.8L218.5 1472.2L219.5 1471.6L220.5 1471.1L221.5 1470.5L222.5 1470.0L223.5 1469.5L224.5 1469.1L225.5 1468.6L226.5 1468.2L227.5 1467.8L228.5 1467.4L229.7 1467.0L231.0 1466.5L232.0 1466.2L233.0 1465.9L234.5 1465.5L235.5 1465.2L236.5 1465.0L238.0 1464.6L239.0 1464.4L240.5 1464.1L241.5 1463.9L243.0 1463.6L244.0 1463.5L245.5 1463.3L247.0 1463.1L248.5 1463.0L249.5 1463.0L250.5 1463.0L252.0 1463.2L253.2 1463.5L254.2 1464.0L255.0 1464.7L255.7 1465.5L256.2 1466.5L256.7 1467.5L257.0 1468.5L257.4 1470.0L257.7 1471.0L257.9 1472.5L258.1 1473.5L258.2 1475.0L258.1 1476.5L258.0 1478.0L257.9 1479.0L257.5 1480.5L257.3 1481.5L257.0 1482.5L256.5 1484.0L256.1 1485.0L255.7 1486.0L255.3 1487.0L254.8 1488.0L254.3 1489.0L253.8 1490.0L253.2 1491.0L252.6 1492.0L252.0 1492.9L251.5 1493.6L250.8 1494.5L250.0 1495.5L249.5 1496.0L248.6 1497.0L248.0 1497.6L247.0 1498.5L246.5 1499.0L245.5 1499.8L244.6 1500.5L243.9 1501.0L243.0 1501.6L242.0 1502.3L241.0 1502.9L240.0 1503.4L239.0 1503.9L238.0 1504.4L237.0 1504.8L236.0 1505.3L235.0 1505.6L233.9 1506.0L232.5 1506.4L231.5 1506.7L230.2 1507.0L229.0 1507.2L227.5 1507.5L227.0 1507.5"/><path d="M298.5 1479.5L297.0 1479.7L295.5 1479.7L294.0 1479.7L292.5 1479.7L291.0 1479.5L290.0 1479.4L288.5 1479.2L287.5 1478.9L286.0 1478.5L285.0 1478.2L284.0 1477.7L283.0 1477.2L282.1 1476.5L281.5 1476.0L280.8 1475.0L280.5 1474.0L280.5 1473.0L281.0 1471.9L281.7 1471.0L282.5 1470.3L283.5 1469.6L284.5 1469.0L285.5 1468.5L286.5 1468.1L287.5 1467.7L288.5 1467.4L290.0 1467.0L291.0 1466.8L292.3 1466.5L293.5 1466.3L295.0 1466.1L296.0 1466.0L297.5 1465.8L299.0 1465.7L300.5 1465.7L302.0 1465.7L303.5 1465.7L305.0 1465.8L306.5 1465.9L307.5 1466.1L309.0 1466.4L310.0 1466.6L311.3 1467.0L312.5 1467.5L313.5 1468.0L314.2 1468.5L315.0 1469.4L315.5 1470.4L315.6 1471.5L315.2 1472.5L314.5 1473.5L314.0 1474.1L313.0 1474.9L312.1 1475.5L311.3 1476.0L310.3 1476.5L309.2 1477.0L308.0 1477.5L307.0 1477.8L306.0 1478.1L304.6 1478.5L303.5 1478.8L302.4 1479.0L301.0 1479.2L299.5 1479.4L298.5 1479.5L298.5 1479.5"/><path d="M105.8 1401.0L105.8 1399.8L105.8 1398.8L105.8 1397.9L105.8 1397.0L105.8 1396.0L105.8 1395.4L105.8 1394.6L105.8 1394.0L105.8 1393.5L105.8 1393.2L105.8 1393.0L106.0 1392.9L107.0 1393.0L108.5 1393.4L109.5 1393.8L110.5 1394.3L111.5 1394.9L112.3 1395.5L113.0 1396.1L113.9 1397.0L114.5 1397.6L115.3 1398.5L116.0 1399.3L116.6 1400.0L117.4 1401.0L118.0 1401.8L118.6 1402.5L119.4 1403.5L120.0 1404.3L120.6 1405.0L121.4 1406.0L122.0 1406.6L122.8 1407.5L123.5 1408.3L124.2 1409.0L125.0 1409.8L125.7 1410.5L126.5 1411.2L127.4 1412.0L128.0 1412.5L129.0 1413.3L130.0 1414.0L130.7 1414.5L131.5 1415.0L132.5 1415.7L133.5 1416.3L134.5 1416.8L135.5 1417.3L136.5 1417.8L137.5 1418.2L138.5 1418.6L139.7 1419.0L141.0 1419.4L142.0 1419.7L143.1 1420.0L144.5 1420.4L145.5 1420.7L146.6 1421.0L148.0 1421.4L149.0 1421.8L150.0 1422.1L151.0 1422.5L152.2 1423.0L153.3 1423.5L154.3 1424.0L155.2 1424.5L156.1 1425.0L157.0 1425.5L158.0 1426.2L159.0 1426.9L159.8 1427.5L160.5 1428.0L161.5 1428.8L162.3 1429.5L163.0 1430.1L164.0 1431.0L164.5 1431.5L165.5 1432.5L166.0 1433.0L166.9 1434.0L167.5 1434.8L168.1 1435.5L168.7 1436.5L169.2 1437.5L169.6 1438.5L169.8 1440.0L169.8 1441.5L169.5 1443.0L169.3 1444.0L169.0 1445.0L168.5 1446.4L168.1 1447.5L167.6 1448.5L167.2 1449.5L166.7 1450.5L166.3 1451.5L165.8 1452.5L165.3 1453.5L164.8 1454.5L164.3 1455.5L163.9 1456.5L163.5 1457.5L163.0 1458.7L162.6 1460.0L162.3 1461.0L162.0 1462.3L161.8 1463.5L161.6 1465.0L161.5 1466.5L161.5 1468.0L161.6 1469.5L161.6 1471.0L161.7 1472.5L161.9 1474.0L162.0 1475.5L162.1 1476.5L162.2 1478.0L162.3 1479.5L162.4 1481.0L162.5 1482.5L162.5 1484.0L162.5 1485.5L162.4 1487.0L162.4 1488.5L162.2 1490.0L162.0 1491.5L161.9 1492.5L161.6 1494.0L161.3 1495.0L161.0 1496.2L160.6 1497.5L160.2 1498.5L159.8 1499.5L159.3 1500.5L158.7 1501.5L158.1 1502.5L157.5 1503.3L156.9 1504.0L156.0 1504.9L155.3 1505.5L154.5 1506.1L153.5 1506.6L152.5 1507.1L151.1 1507.5L150.0 1507.7L148.5 1507.8L147.0 1507.6L146.0 1507.5L144.5 1507.1L143.5 1506.7L142.5 1506.3L141.5 1505.9L140.5 1505.4L139.5 1504.8L138.5 1504.2L137.5 1503.5L136.8 1503.0L136.0 1502.4L135.0 1501.6L134.3 1501.0L133.5 1500.3L132.5 1499.5L131.9 1499.0L131.0 1498.2L130.2 1497.5L129.5 1496.9L128.5 1496.2L127.5 1495.7L126.5 1495.5L125.5 1495.8L124.9 1496.5L124.4 1497.5L124.0 1499.0L123.8 1500.0L123.6 1501.5L123.5 1502.5L123.4 1504.0L123.3 1505.5L123.2 1507.0L123.1 1508.5L123.0 1510.0L123.0 1511.0L122.9 1512.5L122.9 1514.0L122.8 1515.5L122.7 1517.0L122.7 1518.5L122.6 1520.0L122.5 1521.0L122.4 1522.5L122.2 1524.0L122.0 1525.5L121.9 1526.5L121.5 1528.0L121.2 1529.0L120.7 1530.0L120.1 1531.0L119.5 1531.8L118.9 1532.5L118.0 1533.3L117.1 1534.0L116.4 1534.5L115.5 1535.0L114.5 1535.5L113.5 1536.0L112.2 1536.5L111.0 1536.9L110.0 1537.2L108.6 1537.5L107.5 1537.7L106.0 1537.9L105.8 1537.9L105.8 1537.9L105.8 1537.8L105.8 1537.6L105.8 1537.4L105.8 1537.0L105.8 1536.7L105.8 1536.5"/><path d="M287.5 1445.5L286.0 1445.6L284.5 1445.7L283.0 1445.8L281.5 1445.8L280.0 1445.8L278.5 1445.7L277.0 1445.5L276.0 1445.4L274.5 1445.1L273.5 1444.9L272.0 1444.5L271.0 1444.2L270.0 1443.8L269.0 1443.4L268.0 1443.0L267.0 1442.4L266.0 1441.8L265.0 1441.2L264.0 1440.5L263.4 1440.0L262.5 1439.2L261.8 1438.5L261.0 1437.7L260.5 1437.0L259.8 1436.0L259.2 1435.0L258.8 1434.0L258.5 1433.0L258.2 1431.5L258.2 1430.0L258.5 1428.7L258.9 1427.5L259.4 1426.5L260.0 1425.6L260.5 1424.9L261.3 1424.0L262.0 1423.3L262.9 1422.5L263.5 1422.0L264.5 1421.3L265.5 1420.6L266.5 1420.0L267.4 1419.5L268.3 1419.0L269.4 1418.5L270.5 1418.0L271.5 1417.6L272.5 1417.2L273.5 1416.8L274.5 1416.5L275.9 1416.0L277.0 1415.7L278.0 1415.4L279.5 1415.0L280.5 1414.8L282.0 1414.5L283.0 1414.3L284.5 1414.0L285.5 1413.9L287.0 1413.7L288.5 1413.5L289.5 1413.4L291.0 1413.3L292.5 1413.2L294.0 1413.1L295.5 1413.1L297.0 1413.1L298.5 1413.1L300.0 1413.2L301.5 1413.3L303.0 1413.4L304.0 1413.5L305.5 1413.7L307.0 1413.9L308.0 1414.1L309.5 1414.4L310.5 1414.6L312.0 1415.0L313.0 1415.3L314.0 1415.6L315.2 1416.0L316.4 1416.5L317.5 1417.0L318.5 1417.5L319.5 1418.0L320.3 1418.5L321.0 1419.0L322.0 1419.7L322.8 1420.5L323.5 1421.2L324.1 1422.0L324.7 1423.0L325.1 1424.0L325.5 1425.5L325.5 1426.5L325.4 1427.5L325.0 1429.0L324.5 1430.0L324.0 1430.9L323.5 1431.6L322.8 1432.5L322.0 1433.3L321.2 1434.0L320.5 1434.6L319.5 1435.4L318.6 1436.0L317.9 1436.5L317.0 1437.0L316.0 1437.6L315.0 1438.1L314.0 1438.6L313.0 1439.1L312.0 1439.5L310.9 1440.0L309.6 1440.5L308.5 1440.9L307.5 1441.3L306.5 1441.6L305.3 1442.0L304.0 1442.4L303.0 1442.7L301.7 1443.0L300.5 1443.3L299.5 1443.5L298.0 1443.9L297.0 1444.1L295.5 1444.4L294.5 1444.6L293.0 1444.8L291.7 1445.0L290.5 1445.2L289.0 1445.4L287.5 1445.5L287.5 1445.5"/><path d="M195.0 1434.6L193.5 1434.9L192.0 1434.8L191.0 1434.2L191.0 1433.3L191.7 1432.5L192.7 1432.0L194.0 1431.7L195.5 1431.7L196.5 1432.2L196.6 1433.5L196.0 1434.1L195.0 1434.6L195.0 1434.6"/><path d="M228.5 1505.0L227.0 1505.2L225.5 1505.4L224.0 1505.4L222.5 1505.4L221.0 1505.3L219.5 1505.1L218.5 1504.9L217.1 1504.5L216.0 1504.2L215.0 1503.8L214.0 1503.3L213.0 1502.8L212.0 1502.1L211.2 1501.5L210.5 1500.9L209.6 1500.0L209.0 1499.2L208.5 1498.5L208.0 1497.5L207.5 1496.4L207.1 1495.0L206.9 1494.0L206.8 1492.5L206.9 1491.0L207.1 1490.0L207.4 1488.5L207.8 1487.5L208.2 1486.5L208.6 1485.5L209.2 1484.5L209.8 1483.5L210.5 1482.5L211.0 1481.9L211.7 1481.0L212.5 1480.2L213.2 1479.5L214.0 1478.7L214.8 1478.0L215.5 1477.4L216.5 1476.6L217.4 1476.0L218.1 1475.5L219.0 1474.9L220.0 1474.3L221.0 1473.7L222.0 1473.2L223.0 1472.7L224.0 1472.3L225.0 1471.8L226.0 1471.4L227.1 1471.0L228.5 1470.5L229.5 1470.2L230.5 1469.9L232.0 1469.6L233.0 1469.3L234.5 1469.1L235.5 1468.9L237.0 1468.7L238.5 1468.7L240.0 1468.6L241.5 1468.7L243.0 1468.9L244.0 1469.1L245.4 1469.5L246.5 1469.9L247.5 1470.4L248.4 1471.0L249.0 1471.5L250.0 1472.4L250.5 1473.0L251.2 1474.0L251.8 1475.0L252.2 1476.0L252.5 1477.0L252.9 1478.5L253.0 1479.5L253.1 1481.0L253.0 1482.0L252.8 1483.5L252.5 1484.9L252.2 1486.0L251.9 1487.0L251.5 1488.0L251.0 1489.1L250.5 1490.1L250.0 1491.0L249.3 1492.0L248.7 1493.0L248.0 1493.9L247.5 1494.5L246.6 1495.5L246.0 1496.1L245.1 1497.0L244.5 1497.5L243.5 1498.4L242.7 1499.0L242.0 1499.5L241.0 1500.2L240.0 1500.8L239.0 1501.4L238.0 1501.9L237.0 1502.4L236.0 1502.8L235.0 1503.2L234.0 1503.6L232.8 1504.0L231.5 1504.4L230.5 1504.6L229.0 1504.9L228.5 1505.0"/><path d="M299.0 1474.5L297.5 1474.5L296.5 1474.4L295.2 1474.0L294.6 1473.0L295.5 1472.1L296.5 1471.6L297.5 1471.3L299.0 1471.1L300.5 1471.0L302.0 1471.3L303.0 1471.9L303.0 1473.0L302.4 1473.5L301.3 1474.0L300.0 1474.3L299.0 1474.5L299.0 1474.5"/><path d="M105.8 1407.9L105.8 1406.5L105.8 1405.5L105.8 1404.5L105.8 1403.5L105.8 1402.3L105.8 1401.4L105.8 1400.5L105.8 1399.5L105.8 1398.5L105.8 1398.0L105.8 1397.2L105.8 1396.6L105.8 1396.2L105.8 1396.0L106.5 1395.9L107.5 1396.1L108.7 1396.5L109.8 1397.0L110.6 1397.5L111.5 1398.2L112.4 1399.0L113.0 1399.5L113.9 1400.5L114.5 1401.2L115.2 1402.0L116.0 1403.0L116.5 1403.6L117.2 1404.5L118.0 1405.5L118.5 1406.1L119.2 1407.0L120.0 1408.0L120.5 1408.6L121.3 1409.5L122.0 1410.3L122.6 1411.0L123.5 1411.9L124.0 1412.5L125.0 1413.4L125.6 1414.0L126.5 1414.8L127.3 1415.5L128.0 1416.1L129.0 1416.9L129.8 1417.5L130.5 1418.0L131.5 1418.7L132.5 1419.3L133.5 1420.0L134.4 1420.5L135.3 1421.0L136.3 1421.5L137.4 1422.0L138.5 1422.5L139.5 1422.9L140.5 1423.3L141.5 1423.6L142.7 1424.0L144.0 1424.4L145.0 1424.7L146.0 1425.1L147.3 1425.5L148.5 1425.9L149.5 1426.3L150.5 1426.8L151.5 1427.2L152.5 1427.8L153.5 1428.3L154.5 1428.9L155.3 1429.5L156.0 1430.0L157.0 1430.8L157.8 1431.5L158.5 1432.1L159.3 1433.0L160.0 1433.8L160.6 1434.5L161.3 1435.5L161.9 1436.5L162.4 1437.5L162.8 1438.5L163.0 1439.5L163.3 1441.0L163.3 1442.5L163.1 1444.0L162.9 1445.0L162.5 1446.4L162.1 1447.5L161.7 1448.5L161.3 1449.5L160.8 1450.5L160.3 1451.5L159.8 1452.5L159.4 1453.5L158.9 1454.5L158.5 1455.5L158.0 1456.9L157.7 1458.0L157.4 1459.0L157.2 1460.5L157.0 1461.9L156.9 1463.0L156.9 1464.5L156.9 1466.0L157.0 1467.5L157.1 1468.5L157.2 1470.0L157.3 1471.5L157.5 1473.0L157.6 1474.0L157.7 1475.5L157.9 1477.0L158.0 1478.5L158.0 1479.5L158.1 1481.0L158.1 1482.5L158.1 1484.0L158.0 1485.3L157.9 1486.5L157.7 1488.0L157.5 1489.4L157.3 1490.5L157.0 1491.6L156.6 1493.0L156.2 1494.0L155.8 1495.0L155.3 1496.0L154.7 1497.0L154.0 1498.0L153.5 1498.6L152.7 1499.5L152.0 1500.0L151.0 1500.7L150.0 1501.2L149.0 1501.6L147.5 1501.9L146.0 1502.0L144.5 1501.8L143.0 1501.5L142.0 1501.2L141.0 1500.8L140.0 1500.4L139.0 1499.8L138.0 1499.3L137.0 1498.6L136.1 1498.0L135.4 1497.5L134.5 1496.8L133.5 1496.0L132.8 1495.5L132.0 1494.8L131.1 1494.0L130.5 1493.5L129.5 1492.7L128.7 1492.0L128.0 1491.5L127.0 1490.9L125.5 1490.6L124.5 1491.0L123.8 1492.0L123.4 1493.0L123.0 1494.5L122.8 1495.5L122.6 1497.0L122.5 1498.4L122.4 1499.5L122.3 1501.0L122.3 1502.5L122.2 1504.0L122.2 1505.5L122.2 1507.0L122.1 1508.5L122.1 1510.0L122.0 1511.5L122.0 1512.7L122.0 1514.0L121.9 1515.5L121.8 1517.0L121.8 1518.5L121.7 1520.0L121.6 1521.5L121.5 1522.5L121.3 1524.0L121.1 1525.5L121.0 1526.5L120.6 1528.0L120.3 1529.0L119.8 1530.0L119.2 1531.0L118.5 1531.8L117.8 1532.5L117.0 1533.2L116.0 1533.9L115.1 1534.5L114.1 1535.0L113.0 1535.5L112.0 1535.9L111.0 1536.3L110.0 1536.5L108.5 1536.9L107.5 1537.0L106.0 1537.2L105.8 1537.3L105.8 1537.3L105.8 1537.2L105.8 1537.0L105.8 1536.8L105.8 1536.5L105.8 1536.0L105.8 1535.9"/><path d="M291.0 1443.1L289.5 1443.2L288.0 1443.3L286.5 1443.3L285.0 1443.4L283.5 1443.3L282.0 1443.3L280.5 1443.2L279.0 1443.0L278.0 1442.9L276.5 1442.6L275.5 1442.4L274.0 1442.0L273.0 1441.7L272.0 1441.4L271.0 1441.0L269.9 1440.5L268.9 1440.0L268.0 1439.5L267.0 1438.9L266.0 1438.2L265.2 1437.5L264.5 1436.9L263.7 1436.0L263.0 1435.1L262.5 1434.3L262.0 1433.3L261.6 1432.0L261.5 1431.0L261.5 1429.7L261.7 1428.5L262.1 1427.5L262.6 1426.5L263.3 1425.5L264.0 1424.7L264.6 1424.0L265.5 1423.2L266.3 1422.5L267.0 1422.0L268.0 1421.3L269.0 1420.7L270.0 1420.2L271.0 1419.7L272.0 1419.2L273.0 1418.8L274.0 1418.4L275.0 1418.0L276.4 1417.5L277.5 1417.1L278.5 1416.9L279.8 1416.5L281.0 1416.2L282.0 1416.0L283.5 1415.7L284.5 1415.5L286.0 1415.3L287.5 1415.1L288.5 1414.9L290.0 1414.8L291.5 1414.7L293.0 1414.6L294.5 1414.5L296.0 1414.5L297.5 1414.5L299.0 1414.6L300.5 1414.7L302.0 1414.8L303.5 1415.0L304.5 1415.1L306.0 1415.3L307.0 1415.5L308.5 1415.8L309.5 1416.1L311.0 1416.5L312.0 1416.8L313.0 1417.2L314.0 1417.6L315.0 1418.0L316.0 1418.5L317.0 1419.1L318.0 1419.7L319.0 1420.5L319.6 1421.0L320.5 1421.9L321.0 1422.6L321.6 1423.5L322.0 1424.5L322.3 1426.0L322.2 1427.5L322.0 1428.5L321.5 1429.7L321.0 1430.5L320.3 1431.5L319.5 1432.4L318.9 1433.0L318.0 1433.8L317.1 1434.5L316.4 1435.0L315.5 1435.6L314.5 1436.2L313.5 1436.8L312.5 1437.3L311.5 1437.8L310.5 1438.2L309.5 1438.6L308.5 1439.0L307.3 1439.5L306.0 1439.9L305.0 1440.3L304.0 1440.6L302.5 1441.0L301.5 1441.2L300.4 1441.5L299.0 1441.8L298.0 1442.0L296.5 1442.3L295.3 1442.5L294.0 1442.7L292.5 1442.9L291.5 1443.0L291.0 1443.1"/><path d="M226.5 1502.5L225.0 1502.6L223.5 1502.6L222.4 1502.5L221.0 1502.3L219.6 1502.0L218.5 1501.7L217.5 1501.3L216.5 1500.9L215.5 1500.3L214.5 1499.6L213.8 1499.0L213.0 1498.2L212.4 1497.5L211.7 1496.5L211.3 1495.5L210.9 1494.5L210.6 1493.0L210.5 1491.5L210.7 1490.0L211.0 1488.7L211.4 1487.5L211.8 1486.5L212.4 1485.5L213.0 1484.5L213.5 1483.7L214.1 1483.0L214.9 1482.0L215.5 1481.4L216.4 1480.5L217.0 1480.0L218.0 1479.2L218.9 1478.5L219.6 1478.0L220.5 1477.4L221.5 1476.8L222.5 1476.3L223.5 1475.8L224.5 1475.3L225.5 1474.9L226.5 1474.5L228.0 1474.0L229.0 1473.7L230.0 1473.4L231.5 1473.1L232.5 1473.0L234.0 1472.8L235.5 1472.7L237.0 1472.7L238.5 1472.9L239.5 1473.0L241.0 1473.4L242.0 1473.7L243.0 1474.2L244.0 1474.7L245.0 1475.4L245.6 1476.0L246.5 1476.9L247.0 1477.6L247.5 1478.5L248.0 1479.6L248.4 1481.0L248.5 1482.0L248.6 1483.5L248.5 1484.8L248.3 1486.0L248.0 1487.1L247.5 1488.5L247.1 1489.5L246.5 1490.5L246.0 1491.4L245.5 1492.1L244.9 1493.0L244.0 1494.0L243.5 1494.6L242.6 1495.5L242.0 1496.0L241.0 1496.8L240.1 1497.5L239.4 1498.0L238.5 1498.6L237.5 1499.2L236.5 1499.7L235.5 1500.2L234.5 1500.6L233.5 1501.0L232.0 1501.5L231.0 1501.8L230.0 1502.0L228.5 1502.3L227.0 1502.5L226.5 1502.5"/><path d="M105.8 1417.1L105.8 1416.0L105.8 1414.5L105.8 1413.5L105.8 1412.3L105.8 1411.0L105.8 1410.0L105.8 1408.9L105.8 1407.5L105.8 1406.5L105.8 1405.5L105.8 1404.5L105.8 1403.6L105.8 1402.9L105.8 1402.0L105.8 1401.3L105.8 1400.5L105.8 1400.1L105.8 1399.8L107.0 1399.8L108.0 1400.0L109.1 1400.5L110.0 1401.0L111.0 1401.7L111.9 1402.5L112.5 1403.1L113.4 1404.0L114.0 1404.7L114.7 1405.5L115.5 1406.5L116.0 1407.1L116.7 1408.0L117.5 1409.0L118.0 1409.6L118.7 1410.5L119.5 1411.5L120.0 1412.1L120.7 1413.0L121.5 1413.9L122.0 1414.5L123.0 1415.5L123.5 1416.1L124.4 1417.0L125.0 1417.5L126.0 1418.5L126.6 1419.0L127.5 1419.8L128.4 1420.5L129.0 1421.0L130.0 1421.8L130.9 1422.5L131.6 1423.0L132.5 1423.7L133.5 1424.4L134.4 1425.0L135.2 1425.5L136.0 1426.0L137.0 1426.6L138.0 1427.2L139.0 1427.7L140.0 1428.2L141.0 1428.7L142.0 1429.2L143.0 1429.7L144.0 1430.2L145.0 1430.6L146.0 1431.1L147.0 1431.6L148.0 1432.2L149.0 1432.8L150.0 1433.4L150.7 1434.0L151.5 1434.7L152.3 1435.5L153.0 1436.3L153.5 1437.0L154.1 1438.0L154.5 1439.0L154.9 1440.5L155.1 1441.5L155.1 1443.0L154.9 1444.0L154.6 1445.5L154.3 1446.5L154.0 1447.5L153.5 1448.9L153.1 1450.0L152.8 1451.0L152.5 1452.1L152.2 1453.5L152.0 1454.5L151.8 1456.0L151.7 1457.5L151.6 1459.0L151.6 1460.5L151.7 1462.0L151.8 1463.5L151.9 1465.0L152.1 1466.0L152.2 1467.5L152.4 1469.0L152.5 1470.0L152.7 1471.5L152.8 1473.0L153.0 1474.5L153.0 1475.5L153.1 1477.0L153.2 1478.5L153.2 1480.0L153.1 1481.5L153.0 1483.0L152.9 1484.0L152.6 1485.5L152.4 1486.5L152.0 1488.0L151.7 1489.0L151.2 1490.0L150.7 1491.0L150.0 1492.0L149.5 1492.7L148.7 1493.5L148.0 1494.0L147.0 1494.6L146.0 1495.0L144.5 1495.4L143.0 1495.4L141.5 1495.2L140.5 1495.0L139.2 1494.5L138.0 1494.0L137.1 1493.5L136.2 1493.0L135.4 1492.5L134.5 1491.9L133.5 1491.2L132.7 1490.5L132.0 1490.0L131.0 1489.1L130.2 1488.5L129.5 1487.9L128.5 1487.1L127.8 1486.5L127.0 1486.0L126.0 1485.4L124.5 1485.2L123.5 1485.7L122.9 1486.5L122.4 1487.5L122.0 1489.0L121.8 1490.0L121.6 1491.5L121.5 1492.5L121.4 1494.0L121.3 1495.5L121.3 1497.0L121.2 1498.5L121.2 1500.0L121.2 1501.5L121.2 1503.0L121.2 1504.5L121.2 1506.0L121.1 1507.5L121.1 1509.0L121.1 1510.5L121.1 1512.0L121.0 1513.5L121.0 1515.0L121.0 1516.0L120.9 1517.5L120.8 1519.0L120.7 1520.5L120.6 1522.0L120.5 1523.2L120.4 1524.5L120.1 1526.0L119.9 1527.0L119.5 1528.4L119.0 1529.5L118.5 1530.5L118.0 1531.1L117.2 1532.0L116.5 1532.7L115.5 1533.4L114.5 1534.0L113.6 1534.5L112.5 1535.0L111.5 1535.4L110.5 1535.7L109.4 1536.0L108.0 1536.3L106.6 1536.5L105.8 1536.6L105.8 1536.6L105.8 1536.6L105.8 1536.5L105.8 1536.3L105.8 1536.0L105.8 1535.7L105.8 1535.3L105.8 1535.1"/><path d="M291.0 1441.0L289.5 1441.1L288.0 1441.2L286.5 1441.2L285.0 1441.2L283.5 1441.1L282.5 1441.0L281.0 1440.8L279.5 1440.6L278.5 1440.4L277.0 1440.1L276.0 1439.8L274.9 1439.5L273.5 1439.0L272.5 1438.6L271.5 1438.1L270.5 1437.6L269.5 1437.0L268.8 1436.5L268.0 1435.8L267.2 1435.0L266.5 1434.2L266.0 1433.4L265.5 1432.4L265.1 1431.0L265.1 1429.5L265.5 1428.0L265.9 1427.0L266.5 1426.1L267.0 1425.4L267.8 1424.5L268.5 1423.9L269.5 1423.1L270.3 1422.5L271.0 1422.0L272.0 1421.4L273.0 1420.9L274.0 1420.4L275.0 1420.0L276.1 1419.5L277.5 1419.0L278.5 1418.7L279.5 1418.3L280.7 1418.0L282.0 1417.7L283.0 1417.5L284.5 1417.1L285.5 1417.0L287.0 1416.7L288.5 1416.5L289.5 1416.4L291.0 1416.3L292.5 1416.2L294.0 1416.1L295.5 1416.1L297.0 1416.1L298.5 1416.2L300.0 1416.3L301.5 1416.5L302.5 1416.6L304.0 1416.8L305.1 1417.0L306.5 1417.3L307.5 1417.5L309.0 1418.0L310.0 1418.3L311.0 1418.7L312.0 1419.1L313.0 1419.6L314.0 1420.1L315.0 1420.8L316.0 1421.5L316.5 1422.0L317.4 1423.0L318.0 1423.9L318.5 1425.0L318.7 1426.0L318.7 1427.5L318.4 1428.5L318.0 1429.5L317.4 1430.5L316.6 1431.5L316.0 1432.2L315.1 1433.0L314.5 1433.5L313.5 1434.2L312.5 1434.9L311.5 1435.4L310.5 1436.0L309.5 1436.5L308.5 1436.9L307.5 1437.3L306.5 1437.7L305.5 1438.1L304.3 1438.5L303.0 1438.9L302.0 1439.2L300.7 1439.5L299.5 1439.8L298.4 1440.0L297.0 1440.3L295.6 1440.5L294.5 1440.7L293.0 1440.8L291.5 1441.0L291.0 1441.0"/><path d="M227.5 1499.0L226.0 1499.1L224.5 1499.0L223.5 1498.9L222.0 1498.6L221.0 1498.3L220.0 1497.9L219.0 1497.4L218.0 1496.7L217.2 1496.0L216.5 1495.1L216.0 1494.3L215.5 1493.1L215.3 1492.0L215.2 1490.5L215.5 1489.0L215.8 1488.0L216.2 1487.0L216.7 1486.0L217.4 1485.0L218.0 1484.2L218.6 1483.5L219.5 1482.6L220.2 1482.0L221.0 1481.4L222.0 1480.7L223.0 1480.0L224.0 1479.5L225.0 1479.0L226.0 1478.6L227.0 1478.2L228.0 1477.9L229.4 1477.5L230.5 1477.3L232.0 1477.1L233.5 1477.0L235.0 1477.1L236.5 1477.3L237.5 1477.5L238.8 1478.0L239.8 1478.5L240.5 1479.0L241.5 1479.8L242.1 1480.5L242.7 1481.5L243.1 1482.5L243.5 1484.0L243.6 1485.0L243.5 1486.0L243.2 1487.5L242.9 1488.5L242.4 1489.5L241.9 1490.5L241.2 1491.5L240.5 1492.4L240.0 1493.0L239.0 1493.9L238.4 1494.5L237.5 1495.2L236.5 1495.9L235.5 1496.5L234.5 1497.0L233.5 1497.4L232.5 1497.8L231.5 1498.2L230.4 1498.5L229.0 1498.8L227.5 1499.0L227.5 1499.0"/><path d="M105.8 1429.9L105.8 1428.5L105.8 1427.0L105.8 1425.7L105.8 1424.5L105.8 1423.0L105.8 1422.0L105.8 1420.5L105.8 1419.5L105.8 1418.0L105.8 1417.0L105.8 1415.5L105.8 1414.5L105.8 1413.5L105.8 1412.1L105.8 1411.0L105.8 1410.0L105.8 1409.0L105.8 1408.0L105.8 1407.2L105.8 1406.5L105.8 1405.6L105.8 1405.0L105.8 1404.6L106.5 1404.4L107.7 1404.5L109.0 1404.9L110.0 1405.5L110.7 1406.0L111.5 1406.7L112.4 1407.5L113.0 1408.1L113.8 1409.0L114.5 1409.9L115.0 1410.5L115.8 1411.5L116.5 1412.4L117.0 1413.0L117.7 1414.0L118.5 1415.0L119.0 1415.6L119.7 1416.5L120.5 1417.5L121.0 1418.1L121.8 1419.0L122.5 1419.8L123.2 1420.5L124.0 1421.4L124.6 1422.0L125.5 1422.8L126.2 1423.5L127.0 1424.2L127.8 1425.0L128.5 1425.6L129.5 1426.5L130.1 1427.0L131.0 1427.8L131.8 1428.5L132.5 1429.1L133.5 1430.0L134.1 1430.5L135.0 1431.3L135.7 1432.0L136.5 1432.7L137.3 1433.5L138.0 1434.2L138.8 1435.0L139.5 1435.7L140.2 1436.5L141.0 1437.5L141.5 1438.1L142.1 1439.0L142.7 1440.0L143.2 1441.0L143.6 1442.0L144.0 1443.2L144.3 1444.5L144.5 1445.5L144.8 1447.0L145.0 1448.5L145.1 1449.5L145.2 1451.0L145.4 1452.5L145.5 1453.8L145.6 1455.0L145.8 1456.5L146.0 1458.0L146.1 1459.0L146.3 1460.5L146.5 1462.0L146.6 1463.0L146.8 1464.5L147.0 1465.7L147.2 1467.0L147.3 1468.5L147.5 1470.0L147.6 1471.0L147.7 1472.5L147.7 1474.0L147.7 1475.5L147.7 1477.0L147.5 1478.5L147.4 1479.5L147.1 1481.0L146.8 1482.0L146.5 1483.0L146.0 1484.0L145.4 1485.0L144.5 1486.0L144.0 1486.5L143.0 1487.1L142.0 1487.5L140.5 1487.8L139.0 1487.7L138.0 1487.5L136.6 1487.0L135.5 1486.5L134.6 1486.0L133.7 1485.5L133.0 1485.0L132.0 1484.3L131.0 1483.5L130.3 1483.0L129.5 1482.3L128.5 1481.5L127.8 1481.0L127.0 1480.4L126.0 1479.7L125.0 1479.3L123.5 1479.1L122.5 1479.6L121.8 1480.5L121.4 1481.5L121.0 1482.5L120.7 1484.0L120.5 1485.0L120.3 1486.5L120.2 1488.0L120.1 1489.5L120.0 1491.0L120.0 1492.5L120.0 1493.5L120.0 1495.0L120.0 1496.1L120.0 1497.5L120.0 1499.0L120.1 1500.5L120.1 1502.0L120.1 1503.5L120.1 1505.0L120.1 1506.5L120.1 1508.0L120.1 1509.5L120.1 1511.0L120.1 1512.5L120.1 1514.0L120.0 1515.5L120.0 1516.5L119.9 1518.0L119.8 1519.5L119.7 1521.0L119.6 1522.5L119.5 1523.6L119.3 1525.0L119.0 1526.5L118.8 1527.5L118.4 1528.5L118.0 1529.5L117.4 1530.5L116.5 1531.5L116.0 1532.0L115.0 1532.8L114.0 1533.4L113.0 1534.0L112.0 1534.4L111.0 1534.8L110.0 1535.1L108.5 1535.5L107.5 1535.7L106.0 1535.9L105.8 1536.0L105.8 1535.9L105.8 1535.8L105.8 1535.6L105.8 1535.4L105.8 1535.0L105.8 1534.6L105.8 1534.4"/><path d="M294.5 1438.6L293.0 1438.7L291.5 1438.9L290.0 1438.9L288.5 1439.0L287.0 1439.0L285.5 1438.9L284.0 1438.8L282.5 1438.6L281.5 1438.5L280.0 1438.2L279.0 1437.9L277.5 1437.5L276.5 1437.2L275.5 1436.8L274.5 1436.3L273.5 1435.7L272.5 1435.1L271.7 1434.5L271.0 1433.8L270.3 1433.0L269.7 1432.0L269.4 1431.0L269.2 1429.5L269.5 1428.2L270.0 1427.0L270.5 1426.3L271.1 1425.5L272.0 1424.6L272.7 1424.0L273.5 1423.4L274.5 1422.8L275.5 1422.2L276.5 1421.7L277.5 1421.3L278.5 1420.9L279.5 1420.5L280.9 1420.0L282.0 1419.7L283.0 1419.4L284.5 1419.1L285.5 1418.9L287.0 1418.6L288.0 1418.5L289.5 1418.3L291.0 1418.1L292.5 1418.0L293.5 1418.0L295.0 1418.0L296.4 1418.0L297.5 1418.0L299.0 1418.2L300.5 1418.3L301.9 1418.5L303.0 1418.7L304.4 1419.0L305.5 1419.3L306.5 1419.6L307.7 1420.0L309.0 1420.5L310.0 1421.0L310.8 1421.5L311.6 1422.0L312.5 1422.7L313.3 1423.5L314.0 1424.5L314.4 1425.5L314.6 1426.5L314.5 1427.9L314.1 1429.0L313.6 1430.0L313.0 1430.8L312.3 1431.5L311.5 1432.3L310.6 1433.0L309.8 1433.5L309.0 1434.0L308.0 1434.6L307.0 1435.1L306.0 1435.5L304.8 1436.0L303.5 1436.5L302.5 1436.8L301.5 1437.1L300.1 1437.5L299.0 1437.8L297.9 1438.0L296.5 1438.3L295.0 1438.5L294.5 1438.6"/><path d="M230.0 1493.1L228.5 1493.4L227.0 1493.5L225.5 1493.2L224.5 1492.7L223.5 1492.0L223.0 1491.3L222.6 1490.0L222.8 1488.5L223.2 1487.5L223.9 1486.5L224.5 1485.8L225.5 1485.0L226.3 1484.5L227.2 1484.0L228.5 1483.5L229.5 1483.3L231.0 1483.2L232.5 1483.3L233.5 1483.6L234.5 1484.1L235.3 1485.0L235.8 1486.0L235.9 1487.5L235.5 1488.8L235.0 1489.7L234.4 1490.5L233.5 1491.3L232.6 1492.0L231.7 1492.5L230.5 1493.0L230.0 1493.1"/><path d="M105.8 1448.5L105.8 1447.0L105.8 1445.5L105.8 1444.0L105.8 1442.5L105.8 1441.5L105.8 1440.0L105.8 1438.5L105.8 1437.0L105.8 1436.0L105.8 1434.5L105.8 1433.0L105.8 1431.8L105.8 1430.5L105.8 1429.0L105.8 1428.0L105.8 1426.5L105.8 1425.2L105.8 1424.0L105.8 1422.7L105.8 1421.5L105.8 1420.5L105.8 1419.0L105.8 1418.0L105.8 1417.0L105.8 1416.0L105.8 1414.8L105.8 1413.8L105.8 1413.0L105.8 1412.0L105.8 1411.1L105.8 1410.5L105.8 1410.0L107.0 1409.8L108.5 1410.0L109.5 1410.4L110.4 1411.0L111.1 1411.5L112.0 1412.4L112.6 1413.0L113.5 1414.0L114.0 1414.6L114.7 1415.5L115.5 1416.5L116.0 1417.2L116.6 1418.0L117.3 1419.0L118.0 1420.0L118.5 1420.7L119.1 1421.5L119.9 1422.5L120.5 1423.3L121.1 1424.0L121.9 1425.0L122.5 1425.7L123.2 1426.5L124.0 1427.4L124.5 1428.0L125.5 1429.0L126.0 1429.5L126.9 1430.5L127.5 1431.1L128.3 1432.0L129.0 1432.7L129.7 1433.5L130.5 1434.4L131.0 1435.0L131.8 1436.0L132.5 1436.9L133.0 1437.6L133.6 1438.5L134.3 1439.5L134.9 1440.5L135.4 1441.5L135.9 1442.5L136.4 1443.5L136.8 1444.5L137.2 1445.5L137.6 1446.5L138.0 1447.7L138.4 1449.0L138.7 1450.0L139.0 1451.3L139.3 1452.5L139.5 1453.5L139.8 1455.0L140.0 1456.0L140.3 1457.5L140.5 1458.7L140.7 1460.0L140.9 1461.5L141.1 1462.5L141.2 1464.0L141.4 1465.5L141.4 1467.0L141.5 1468.5L141.4 1470.0L141.3 1471.5L141.0 1473.0L140.8 1474.0L140.4 1475.0L139.9 1476.0L139.1 1477.0L138.5 1477.5L137.4 1478.0L136.0 1478.2L134.6 1478.0L133.5 1477.6L132.5 1477.2L131.5 1476.6L130.5 1476.0L129.8 1475.5L129.0 1475.0L128.0 1474.2L127.0 1473.5L126.3 1473.0L125.4 1472.5L124.3 1472.0L123.0 1471.8L122.0 1472.2L121.1 1473.0L120.5 1474.0L120.1 1475.0L119.8 1476.0L119.5 1477.0L119.2 1478.5L119.0 1479.9L118.9 1481.0L118.8 1482.5L118.7 1484.0L118.6 1485.5L118.6 1487.0L118.6 1488.5L118.6 1490.0L118.6 1491.5L118.7 1493.0L118.7 1494.5L118.8 1496.0L118.8 1497.5L118.9 1499.0L118.9 1500.5L119.0 1502.0L119.0 1503.1L119.0 1504.5L119.1 1506.0L119.1 1507.5L119.1 1509.0L119.1 1510.5L119.1 1512.0L119.1 1513.5L119.0 1515.0L119.0 1516.0L118.9 1517.5L118.9 1519.0L118.8 1520.5L118.6 1522.0L118.5 1523.4L118.4 1524.5L118.1 1526.0L117.9 1527.0L117.5 1528.1L117.0 1529.2L116.5 1530.1L115.8 1531.0L115.0 1531.7L114.0 1532.5L113.2 1533.0L112.2 1533.5L111.0 1534.0L110.0 1534.4L109.0 1534.6L107.5 1535.0L106.5 1535.1L105.8 1535.2L105.8 1535.2L105.8 1535.1L105.8 1535.0L105.8 1534.7L105.8 1534.5L105.8 1534.0L105.8 1533.5L105.8 1533.5"/><path d="M295.0 1436.0L293.5 1436.2L292.0 1436.4L290.5 1436.4L289.0 1436.5L287.5 1436.4L286.0 1436.3L284.5 1436.1L283.5 1436.0L282.0 1435.6L281.0 1435.4L279.9 1435.0L278.7 1434.5L277.7 1434.0L276.9 1433.5L276.0 1432.8L275.3 1432.0L274.7 1431.0L274.4 1430.0L274.4 1428.5L274.8 1427.5L275.4 1426.5L276.0 1425.8L276.9 1425.0L277.6 1424.5L278.5 1423.9L279.5 1423.4L280.5 1422.9L281.5 1422.5L282.8 1422.0L284.0 1421.6L285.0 1421.4L286.5 1421.0L287.5 1420.8L289.0 1420.6L290.0 1420.5L291.5 1420.3L293.0 1420.3L294.5 1420.2L296.0 1420.3L297.5 1420.4L298.5 1420.5L300.0 1420.7L301.4 1421.0L302.5 1421.3L303.5 1421.6L304.7 1422.0L305.8 1422.5L306.7 1423.0L307.5 1423.6L308.5 1424.5L309.0 1425.3L309.5 1426.5L309.5 1427.5L309.3 1428.5L308.8 1429.5L308.0 1430.5L307.5 1431.0L306.5 1431.9L305.5 1432.5L304.7 1433.0L303.7 1433.5L302.6 1434.0L301.5 1434.4L300.5 1434.7L299.5 1435.0L298.0 1435.4L297.0 1435.7L295.5 1435.9L295.0 1436.0"/><path d="M105.8 1468.8L105.8 1467.5L105.8 1466.0L105.8 1464.5L105.8 1463.5L105.8 1462.0L105.8 1460.5L105.8 1459.0L105.8 1457.5L105.8 1456.5L105.8 1455.0L105.8 1453.5L105.8 1452.0L105.8 1450.5L105.8 1449.5L105.8 1448.0L105.8 1446.5L105.8 1445.0L105.8 1444.0L105.8 1442.5L105.8 1441.0L105.8 1439.5L105.8 1438.5L105.8 1437.0L105.8 1435.5L105.8 1434.5L105.8 1433.0L105.8 1432.0L105.8 1430.5L105.8 1429.5L105.8 1428.0L105.8 1427.0L105.8 1425.5L105.8 1424.5L105.8 1423.5L105.8 1422.1L105.8 1421.0L105.8 1420.0L105.8 1419.0L105.8 1418.3L105.8 1417.5L105.8 1416.8L106.5 1416.3L108.0 1416.1L109.2 1416.5L110.1 1417.0L111.0 1417.7L111.8 1418.5L112.5 1419.2L113.1 1420.0L113.9 1421.0L114.5 1421.9L115.0 1422.6L115.6 1423.5L116.2 1424.5L116.8 1425.5L117.4 1426.5L118.0 1427.4L118.5 1428.3L119.0 1429.1L119.6 1430.0L120.2 1431.0L120.8 1432.0L121.5 1433.0L122.0 1433.8L122.5 1434.5L123.2 1435.5L123.9 1436.5L124.5 1437.4L125.0 1438.1L125.6 1439.0L126.3 1440.0L127.0 1441.0L127.5 1441.8L128.0 1442.7L128.5 1443.6L129.0 1444.5L129.5 1445.5L130.0 1446.6L130.5 1447.8L130.9 1449.0L131.3 1450.0L131.6 1451.0L132.0 1452.5L132.2 1453.5L132.5 1455.0L132.6 1456.0L132.7 1457.5L132.7 1459.0L132.5 1460.5L132.3 1461.5L131.7 1462.5L131.0 1463.2L130.0 1463.5L129.0 1463.5L127.5 1463.0L126.5 1462.6L125.5 1462.2L124.5 1461.9L123.0 1461.8L122.0 1462.1L121.0 1462.8L120.4 1463.5L119.8 1464.5L119.3 1465.5L118.9 1466.5L118.5 1467.8L118.2 1469.0L118.0 1470.0L117.7 1471.5L117.5 1472.7L117.3 1474.0L117.2 1475.5L117.1 1477.0L117.0 1478.5L117.0 1479.5L117.0 1481.0L116.9 1482.5L117.0 1484.0L117.0 1485.5L117.0 1486.5L117.1 1488.0L117.2 1489.5L117.2 1491.0L117.3 1492.5L117.4 1494.0L117.5 1495.5L117.5 1496.5L117.6 1498.0L117.7 1499.5L117.8 1501.0L117.8 1502.5L117.9 1504.0L117.9 1505.5L118.0 1507.0L118.0 1508.5L118.0 1509.5L118.0 1511.0L118.0 1512.5L118.0 1513.5L118.0 1515.0L117.9 1516.5L117.8 1518.0L117.8 1519.5L117.6 1521.0L117.5 1522.5L117.4 1523.5L117.2 1525.0L117.0 1526.0L116.5 1527.5L116.2 1528.5L115.6 1529.5L115.0 1530.3L114.4 1531.0L113.5 1531.7L112.5 1532.4L111.5 1532.9L110.5 1533.4L109.5 1533.7L108.3 1534.0L107.0 1534.3L105.8 1534.4L105.8 1534.5L105.8 1534.4L105.8 1534.2L105.8 1534.0L105.8 1533.7L105.8 1533.3L105.8 1532.9L105.8 1532.6"/><path d="M295.0 1432.5L293.5 1432.8L292.0 1432.9L290.5 1433.0L289.0 1432.9L287.5 1432.8L286.1 1432.5L285.0 1432.2L284.0 1431.8L283.0 1431.2L282.2 1430.5L281.7 1429.5L281.8 1428.0L282.4 1427.0L283.0 1426.4L284.0 1425.7L285.0 1425.2L286.0 1424.8L287.0 1424.4L288.5 1424.0L289.5 1423.8L291.0 1423.6L292.5 1423.5L294.0 1423.5L295.5 1423.6L297.0 1423.9L298.0 1424.1L299.3 1424.5L300.3 1425.0L301.1 1425.5L302.0 1426.5L302.3 1427.5L302.0 1428.7L301.5 1429.5L300.5 1430.3L299.5 1431.0L298.5 1431.5L297.5 1431.9L296.5 1432.2L295.2 1432.5L295.0 1432.5"/><path d="M105.8 1479.4L105.8 1478.0L105.8 1476.7L105.8 1475.5L105.8 1474.0L105.8 1473.0L105.8 1471.5L105.8 1470.5L105.8 1469.0L105.8 1467.5L105.8 1466.5L105.8 1465.0L105.8 1463.5L105.8 1462.0L105.8 1461.0L105.8 1459.5L105.8 1458.0L105.8 1456.5L105.8 1455.5L105.8 1454.0L105.8 1452.5L105.8 1451.0L105.8 1450.0L105.8 1448.5L105.8 1447.0L105.8 1445.5L105.8 1444.5L105.8 1443.0L105.8 1441.6L105.8 1440.5L105.8 1439.0L105.8 1438.0L105.8 1436.5L105.8 1435.5L105.8 1434.0L105.8 1433.0L105.8 1431.6L105.8 1430.5L105.8 1429.5L105.8 1428.5L105.8 1427.5L105.8 1426.5L105.8 1425.5L106.0 1424.9L107.0 1424.3L108.5 1424.2L109.5 1424.6L110.5 1425.4L111.1 1426.0L111.9 1427.0L112.5 1427.8L113.0 1428.6L113.5 1429.5L114.0 1430.5L114.5 1431.6L115.0 1432.7L115.5 1434.0L115.9 1435.0L116.2 1436.0L116.5 1437.0L116.9 1438.5L117.2 1439.5L117.5 1441.0L117.6 1442.0L117.8 1443.5L117.9 1445.0L118.0 1446.5L118.0 1448.0L117.9 1449.5L117.7 1451.0L117.5 1452.4L117.3 1453.5L117.1 1455.0L116.9 1456.0L116.7 1457.5L116.5 1458.5L116.3 1460.0L116.0 1461.5L115.9 1462.5L115.7 1464.0L115.5 1465.5L115.4 1466.5L115.3 1468.0L115.2 1469.5L115.1 1471.0L115.0 1472.5L115.0 1474.0L115.0 1475.0L115.0 1476.5L115.0 1477.6L115.0 1479.0L115.1 1480.5L115.2 1482.0L115.2 1483.5L115.3 1485.0L115.4 1486.5L115.5 1487.5L115.6 1489.0L115.8 1490.5L115.9 1492.0L116.0 1493.5L116.1 1494.5L116.2 1496.0L116.3 1497.5L116.4 1499.0L116.5 1500.5L116.6 1501.5L116.6 1503.0L116.7 1504.5L116.8 1506.0L116.8 1507.5L116.8 1509.0L116.9 1510.5L116.9 1512.0L116.8 1513.5L116.8 1515.0L116.8 1516.5L116.7 1518.0L116.6 1519.5L116.5 1520.6L116.4 1522.0L116.2 1523.5L116.0 1524.6L115.7 1526.0L115.4 1527.0L115.0 1528.1L114.5 1529.1L113.8 1530.0L113.0 1530.8L112.1 1531.5L111.3 1532.0L110.2 1532.5L109.0 1532.9L108.0 1533.2L106.5 1533.5L105.8 1533.6L105.8 1533.7L105.8 1533.6L105.8 1533.5L105.8 1533.2L105.8 1532.9L105.8 1532.5L105.8 1532.0L105.8 1531.5L105.8 1531.5"/><path d="M105.8 1487.3L105.8 1486.0L105.8 1485.0L105.8 1483.5L105.8 1482.5L105.8 1481.0L105.8 1480.0L105.8 1478.8L105.8 1477.5L105.8 1476.5L105.8 1475.0L105.8 1474.0L105.8 1472.5L105.8 1471.5L105.8 1470.0L105.8 1468.6L105.8 1467.5L105.8 1466.0L105.8 1465.0L105.8 1463.5L105.8 1462.0L105.8 1461.0L105.8 1459.5L105.8 1458.0L105.8 1456.8L105.8 1455.5L105.8 1454.0L105.8 1452.7L105.8 1451.5L105.8 1450.0L105.8 1449.0L105.8 1447.5L105.8 1446.3L105.8 1445.0L105.8 1443.9L105.8 1442.5L105.8 1441.5L105.8 1440.4L105.8 1439.1L105.8 1438.1L106.0 1437.3L106.8 1436.5L108.0 1436.1L109.0 1436.6L109.8 1437.5L110.4 1438.5L110.8 1439.5L111.2 1440.5L111.5 1441.6L111.8 1443.0L112.0 1444.0L112.2 1445.5L112.4 1447.0L112.5 1448.1L112.6 1449.5L112.6 1451.0L112.7 1452.5L112.7 1454.0L112.6 1455.5L112.6 1457.0L112.6 1458.5L112.5 1460.0L112.5 1461.0L112.5 1462.5L112.4 1464.0L112.4 1465.5L112.4 1467.0L112.4 1468.5L112.4 1470.0L112.5 1471.5L112.5 1472.7L112.6 1474.0L112.6 1475.5L112.8 1477.0L112.9 1478.5L113.0 1480.0L113.1 1481.0L113.2 1482.5L113.4 1484.0L113.5 1485.0L113.7 1486.5L113.9 1488.0L114.0 1489.2L114.1 1490.5L114.3 1492.0L114.5 1493.5L114.6 1494.5L114.7 1496.0L114.9 1497.5L115.0 1498.9L115.1 1500.0L115.2 1501.5L115.3 1503.0L115.4 1504.5L115.5 1506.0L115.5 1507.2L115.5 1508.5L115.6 1510.0L115.6 1511.5L115.6 1513.0L115.5 1514.5L115.5 1515.7L115.4 1517.0L115.4 1518.5L115.3 1520.0L115.1 1521.5L115.0 1522.5L114.8 1524.0L114.5 1525.3L114.2 1526.5L113.8 1527.5L113.3 1528.5L112.6 1529.5L112.0 1530.1L111.0 1530.9L110.0 1531.5L109.0 1531.9L108.0 1532.2L106.8 1532.5L105.8 1532.7L105.8 1532.7L105.8 1532.7L105.8 1532.5L105.8 1532.2L105.8 1531.8L105.8 1531.4L105.8 1530.8L105.8 1530.0L105.8 1529.9"/><path d="M105.8 1495.6L105.8 1494.5L105.8 1493.2L105.8 1492.0L105.8 1491.0L105.8 1489.5L105.8 1488.5L105.8 1487.2L105.8 1486.0L105.8 1485.0L105.8 1483.8L105.8 1482.5L105.8 1481.5L105.8 1480.5L105.8 1479.0L105.8 1478.0L105.8 1477.0L105.8 1476.0L105.8 1474.5L105.8 1473.5L105.8 1472.5L105.8 1471.5L105.8 1470.1L105.8 1469.0L105.8 1468.0L105.8 1467.0L105.8 1466.0L106.0 1465.3L107.0 1465.9L107.5 1467.0L107.8 1468.0L108.1 1469.0L108.5 1470.5L108.7 1471.5L109.0 1473.0L109.2 1474.0L109.5 1475.5L109.7 1476.5L110.0 1478.0L110.2 1479.0L110.5 1480.5L110.7 1481.5L110.9 1483.0L111.1 1484.0L111.4 1485.5L111.6 1486.5L111.9 1488.0L112.0 1489.0L112.3 1490.5L112.5 1492.0L112.7 1493.0L112.9 1494.5L113.0 1495.5L113.2 1497.0L113.4 1498.5L113.5 1499.8L113.6 1501.0L113.8 1502.5L113.9 1504.0L114.0 1505.5L114.0 1506.5L114.1 1508.0L114.1 1509.5L114.1 1511.0L114.1 1512.5L114.1 1514.0L114.1 1515.5L114.0 1517.0L113.9 1518.0L113.8 1519.5L113.7 1521.0L113.5 1522.4L113.3 1523.5L113.0 1525.0L112.7 1526.0L112.3 1527.0L111.8 1528.0L111.0 1529.0L110.5 1529.5L109.5 1530.3L108.5 1530.8L107.5 1531.1L106.0 1531.5L105.8 1531.6L105.8 1531.6L105.8 1531.5L105.8 1531.2L105.8 1530.9L105.8 1530.5L105.8 1529.8L105.8 1529.0L105.8 1528.2L105.8 1527.3L105.8 1527.3"/><path d="M105.8 1509.2L105.8 1508.0L105.8 1506.5L105.8 1505.0L105.8 1503.9L105.8 1502.5L105.8 1501.0L105.8 1500.0L105.8 1498.5L105.8 1497.5L105.8 1496.0L105.8 1495.0L105.8 1493.9L105.8 1492.5L105.8 1491.5L105.8 1490.5L105.8 1489.4L105.8 1488.1L105.8 1487.0L105.8 1486.0L105.8 1485.0L105.8 1484.2L105.8 1483.5L105.8 1482.5L105.8 1482.1L106.1 1482.5L107.0 1483.4L107.5 1484.2L108.0 1485.2L108.5 1486.4L108.9 1487.5L109.2 1488.5L109.5 1489.5L109.9 1491.0L110.2 1492.0L110.5 1493.5L110.7 1494.5L111.0 1496.0L111.2 1497.0L111.4 1498.5L111.6 1499.5L111.8 1501.0L111.9 1502.5L112.0 1503.5L112.2 1505.0L112.3 1506.5L112.4 1508.0L112.4 1509.5L112.5 1511.0L112.5 1512.5L112.4 1514.0L112.4 1515.5L112.3 1517.0L112.2 1518.5L112.1 1520.0L111.9 1521.0L111.7 1522.5L111.5 1523.5L111.1 1525.0L110.7 1526.0L110.2 1527.0L109.5 1528.0L109.0 1528.5L108.0 1529.2L107.0 1529.7L106.0 1530.0L105.8 1530.2L105.8 1530.1L105.8 1530.0L105.8 1529.5L105.8 1529.0L105.8 1528.3L105.8 1527.5L105.8 1526.5L105.8 1525.5L105.8 1524.5L105.8 1523.0L105.8 1522.0L105.8 1520.5L105.8 1519.0L105.8 1517.9L105.8 1517.9"/><path d="M105.8 1527.7L105.8 1527.9L105.8 1527.6L105.8 1527.1L105.8 1526.5L105.8 1525.5L105.8 1524.5L105.8 1523.5L105.8 1522.5L105.8 1521.0L105.8 1520.0L105.8 1518.5L105.8 1517.0L105.8 1515.5L105.8 1514.5L105.8 1513.0L105.8 1511.7L105.8 1510.5L105.8 1509.0L105.8 1507.5L105.8 1506.0L105.8 1505.0L105.8 1503.5L105.8 1502.5L105.8 1501.0L105.8 1500.0L105.8 1498.8L105.8 1497.5L105.8 1496.5L105.8 1495.5L105.8 1494.5L105.8 1493.5L105.8 1492.9L105.8 1492.2L105.8 1492.3L106.3 1493.0L107.0 1494.0L107.5 1495.0L107.9 1496.0L108.3 1497.0L108.6 1498.0L109.0 1499.5L109.2 1500.5L109.5 1502.0L109.6 1503.0L109.9 1504.5L110.0 1505.7L110.1 1507.0L110.2 1508.5L110.3 1510.0L110.4 1511.5L110.4 1513.0L110.3 1514.5L110.3 1516.0L110.1 1517.5L110.0 1518.8L109.8 1520.0L109.6 1521.5L109.3 1522.5L109.0 1523.6L108.5 1524.8L108.0 1525.7L107.4 1526.5L106.5 1527.2L105.8 1527.7L105.8 1527.7"/><path d="M105.8 1521.2L105.8 1521.0L105.8 1520.0L105.8 1519.0L105.8 1518.0L105.8 1516.5L105.8 1515.5L105.8 1514.0L105.8 1512.5L105.8 1511.0L105.8 1510.0L105.8 1508.5L105.8 1507.5L105.8 1506.1L105.8 1505.1L105.8 1504.5L105.8 1504.4L105.8 1505.0L106.0 1506.1L106.4 1507.5L106.6 1508.5L106.8 1510.0L107.0 1511.5L107.0 1513.0L106.9 1514.5L106.8 1516.0L106.5 1517.5L106.3 1518.5L105.9 1519.5L105.8 1520.5L105.8 1521.2L105.8 1521.2"/></g><path d="M105.4 1325 H376.2 V1595" stroke="#aaa" stroke-width="1.2" fill="none"/><path d="M105.4 1325 V1595 H376.2" stroke="#111" stroke-width="1.2" fill="none"/><path d="M101.9 1331.7H105.4M101.9 1395.7H105.4M101.9 1384.5H105.4M101.9 1376.5H105.4M100.4 1370.3H105.4M101.9 1365.2H105.4M101.9 1360.9H105.4M101.9 1357.2H105.4M101.9 1353.9H105.4M101.9 1466.7H105.4M101.9 1453.7H105.4M101.9 1444.4H105.4M100.4 1437.3H105.4M101.9 1431.4H105.4M101.9 1426.5H105.4M101.9 1422.2H105.4M101.9 1418.4H105.4M101.9 1495.5H105.4M101.9 1502.1H105.4M101.9 1508.7H105.4M101.9 1515.2H105.4M101.9 1521.8H105.4M101.9 1536.5H105.4M101.9 1544.7H105.4M101.9 1552.9H105.4M101.9 1561.1H105.4M101.9 1569.3H105.4" stroke="#111" stroke-width="1.1"/><path d="M98.4 1351.0H105.4M98.4 1415.0H105.4M98.4 1489.0H105.4M98.4 1528.3H105.4M98.4 1577.5H105.4" stroke="#111" stroke-width="1.8"/><path d="M115.7 1595V1598.5M125.9 1595V1598.5M136.2 1595V1598.5M146.5 1595V1598.5M167.0 1595V1598.5M177.3 1595V1598.5M187.6 1595V1598.5M197.8 1595V1598.5M218.4 1595V1598.5M228.6 1595V1598.5M238.9 1595V1598.5M249.2 1595V1598.5M269.7 1595V1598.5M280.0 1595V1598.5M290.3 1595V1598.5M300.5 1595V1598.5M321.1 1595V1598.5M331.3 1595V1598.5M341.6 1595V1598.5M351.9 1595V1598.5M372.4 1595V1598.5" stroke="#111" stroke-width="1.1"/><path d="M105.4 1595V1602M156.8 1595V1602M208.1 1595V1602M259.4 1595V1602M310.8 1595V1602M362.1 1595V1602" stroke="#111" stroke-width="1.8"/><text x="94" y="1355.8" font-size="12" text-anchor="end">10<tspan font-size="7.5" dy="-6">5</tspan></text><text x="94" y="1419.8" font-size="12" text-anchor="end">10<tspan font-size="7.5" dy="-6">4</tspan></text><text x="94" y="1493.8" font-size="12" text-anchor="end">10<tspan font-size="7.5" dy="-6">3</tspan></text><text x="93" y="1532.5" font-size="12" text-anchor="end">0</text><text x="94" y="1582" font-size="12" text-anchor="end">−10<tspan font-size="7.5" dy="-6">3</tspan></text><text x="105.9" y="1619.5" font-size="12" text-anchor="middle">0</text><text x="157.2" y="1619.5" font-size="12" text-anchor="middle">50k</text><text x="208.6" y="1619.5" font-size="12" text-anchor="middle">100k</text><text x="260.0" y="1619.5" font-size="12" text-anchor="middle">150k</text><text x="311.3" y="1619.5" font-size="12" text-anchor="middle">200k</text><text x="362.6" y="1619.5" font-size="12" text-anchor="middle">250k</text><ellipse cx="146.2" cy="1453.8" rx="17.8" ry="54.6" transform="rotate(-4 146.2 1453.8)" fill="none" stroke="#ff2a1a" stroke-width="1.5"/><ellipse cx="292.5" cy="1420.5" rx="43.6" ry="21.6" transform="rotate(-6 292.5 1420.5)" fill="none" stroke="#3cb43c" stroke-width="1.4"/><ellipse cx="317.9" cy="1470.7" rx="36" ry="21.8" transform="rotate(-12 317.9 1470.7)" fill="none" stroke="#c846c8" stroke-width="1.4"/><ellipse cx="183.3" cy="1502.2" rx="17.6" ry="16.3" transform="rotate(-20 183.3 1502.2)" fill="none" stroke="#4050b4" stroke-width="1.3"/><text transform="translate(128.60 1392.20) scale(1 1.012)" font-size="29.33" fill="#e8141e">11.8±0.6</text><text x="263.63" y="1392.20" font-size="29.80" fill="#009a44">8.0±1.7</text><text transform="translate(146.54 1546.20) scale(1 1.020)" font-size="28.95" fill="#1570be">0.8±0.1</text><text x="268.41" y="1532.70" font-size="29.80" fill="#662d91">2.8±0.3</text>
<text transform="translate(48.82 1173.23) rotate(-90)" font-size="28.74" font-style="italic">dnmt1</text>
<text transform="translate(36.55 1093.81) rotate(-90)" font-size="21.39">+/+</text>
<text transform="translate(49.13 1505.02) rotate(-90)" font-size="29.32" font-style="italic">dnmt1</text>
<text transform="translate(36.89 1423.51) rotate(-90)" font-size="21.64" font-style="italic">m/m</text>
<text transform="translate(21.77 1555.90) scale(1 1.028)" font-size="29.56">SSC</text>
<text transform="translate(156.95 1646.19) scale(1 1.027)" font-size="29.72">FSC</text>
<path d="M61.8 1566 V1644 H141.5" stroke="#000" stroke-width="1.5" fill="none"/>
<path d="M53 1579.6 L61.8 1565.3 L70.9 1579.6 M127.4 1634.3 L142.2 1643.9 L127.4 1653" stroke="#000" stroke-width="1.5" fill="none" stroke-linejoin="miter"/>
<path d="M200.6 1184 H470 M202.7 1498.5 H472" stroke="#1570be" stroke-width="1.6" fill="none"/>
<path d="M490 1183.7 L467.4 1176.8 L472 1183.7 L467.4 1190.8 Z M492.7 1498.5 L469.4 1491.5 L474 1498.5 L469.4 1505.5 Z" fill="#1570be"/>
<path d="M561.8 1278.5 L566.0 1276.0 L570.1 1270.2 L575.0 1261.0 L578.5 1253.5 L582.0 1248.5 L585.1 1246.9 L588.0 1248.0 L591.8 1251.9 L596.0 1259.0 L600.2 1266.9 L605.0 1273.0 L610.2 1276.9 L613.5 1278.5 Z" fill="#aaa" stroke="#000" stroke-width="1.4" stroke-linejoin="round"/><path d="M663.5 1278.5 L673.5 1274.2 L683.5 1270.2 L691.9 1265.2 L696.9 1256.9 L701.9 1236.9 L705.2 1183.5 L708.5 1083.4 L710.2 1030.0 L711.2 1024.0 L712.3 1028.0 L713.6 1050.0 L716.9 1116.8 L720.2 1216.8 L722.6 1262.0 L724.6 1274.2 L726.9 1278.5 Z" fill="#aaa" stroke="#000" stroke-width="1.4" stroke-linejoin="round"/><path d="M524.1 1010 H795.3 V1278.3" stroke="#777" stroke-width="1.2" fill="none"/><path d="M524.1 1010 V1278.3 H795.3" stroke="#111" stroke-width="1.3" fill="none"/><text x="509.3" y="1284.1" font-size="13" text-anchor="end" textLength="6.5" lengthAdjust="spacingAndGlyphs">0</text><text x="509.3" y="1230.4" font-size="13" text-anchor="end" textLength="12.9" lengthAdjust="spacingAndGlyphs">20</text><text x="509.3" y="1176.8" font-size="13" text-anchor="end" textLength="12.9" lengthAdjust="spacingAndGlyphs">40</text><text x="509.3" y="1123.1" font-size="13" text-anchor="end" textLength="12.9" lengthAdjust="spacingAndGlyphs">60</text><text x="509.3" y="1069.5" font-size="13" text-anchor="end" textLength="12.9" lengthAdjust="spacingAndGlyphs">80</text><text x="509.3" y="1015.8" font-size="13" text-anchor="end" textLength="19.4" lengthAdjust="spacingAndGlyphs">100</text><path d="M520.6 1264.9H524.1M520.6 1251.5H524.1M520.6 1238.1H524.1M520.6 1211.2H524.1M520.6 1197.8H524.1M520.6 1184.4H524.1M520.6 1157.6H524.1M520.6 1144.1H524.1M520.6 1130.7H524.1M520.6 1103.9H524.1M520.6 1090.5H524.1M520.6 1077.1H524.1M520.6 1050.2H524.1M520.6 1036.8H524.1M520.6 1023.4H524.1M650.7 1278.3V1281.8M721.7 1278.3V1281.8M786.5 1278.3V1281.8M663.7 1278.3V1281.8M733.1 1278.3V1281.8M672.9 1278.3V1281.8M741.2 1278.3V1281.8M680.0 1278.3V1283.3M747.5 1278.3V1283.3M685.8 1278.3V1281.8M752.6 1278.3V1281.8M690.8 1278.3V1281.8M757.0 1278.3V1281.8M695.1 1278.3V1281.8M760.7 1278.3V1281.8M698.8 1278.3V1281.8M764.0 1278.3V1281.8M546.2 1278.3V1281.8M552.1 1278.3V1281.8M557.9 1278.3V1281.8M563.8 1278.3V1281.8M569.7 1278.3V1281.8M575.6 1278.3V1281.8M581.5 1278.3V1281.8M587.3 1278.3V1281.8M593.2 1278.3V1281.8M599.1 1278.3V1281.8M605.0 1278.3V1281.8M610.9 1278.3V1281.8M616.7 1278.3V1281.8M622.6 1278.3V1281.8" stroke="#111" stroke-width="1.1"/><path d="M517.1 1278.3H524.1M517.1 1224.6H524.1M517.1 1171.0H524.1M517.1 1117.3H524.1M517.1 1063.7H524.1M517.1 1010.0H524.1M540.3 1278.3V1285.3M628.5 1278.3V1285.3M702.2 1278.3V1285.3M767.0 1278.3V1285.3M580.0 1278.3V1283.3M583.5 1278.3V1283.3M587.0 1278.3V1283.3M590.5 1278.3V1283.3" stroke="#111" stroke-width="1.8"/><text x="541.5" y="1304.0" font-size="12" text-anchor="middle">−10<tspan font-size="7.5" dy="-6">3</tspan></text><text x="590.2" y="1304.0" font-size="12" text-anchor="middle">0</text><text x="631" y="1304.0" font-size="12" text-anchor="middle">10<tspan font-size="7.5" dy="-6">3</tspan></text><text x="704.5" y="1304.0" font-size="12" text-anchor="middle">10<tspan font-size="7.5" dy="-6">4</tspan></text><text x="769" y="1304.0" font-size="12" text-anchor="middle">10<tspan font-size="7.5" dy="-6">5</tspan></text><path d="M640.2 1237.9 H794.2 M640.2 1232.9 V1242.9 M794.2 1232.9 V1242.9" stroke="#000" stroke-width="2" fill="none"/><text x="707.65" y="1220.00" font-size="29.62">79.7±3.0</text>
<path d="M561.8 1594.2 L566.0 1592.0 L570.1 1586.9 L573.5 1576.0 L576.8 1560.2 L579.0 1549.0 L581.8 1540.2 L584.5 1534.5 L586.8 1530.2 L589.5 1527.8 L591.0 1530.0 L593.5 1540.2 L596.0 1554.0 L598.5 1566.9 L601.0 1576.0 L603.5 1583.5 L607.0 1589.0 L610.2 1591.9 L618.0 1593.0 L626.8 1593.5 L636.8 1594.2 Z" fill="#aaa" stroke="#000" stroke-width="1.4" stroke-linejoin="round"/><path d="M646.8 1594.2 L660.0 1593.6 L670.2 1592.9 L686.9 1591.2 L695.2 1590.2 L703.6 1591.2 L708.0 1592.6 L713.6 1594.2 Z" fill="#aaa" stroke="#000" stroke-width="1.4" stroke-linejoin="round"/><path d="M524.1 1325 H795.3 V1593.3" stroke="#777" stroke-width="1.2" fill="none"/><path d="M524.1 1325 V1593.3 H795.3" stroke="#111" stroke-width="1.3" fill="none"/><text x="509.3" y="1599.1" font-size="13" text-anchor="end" textLength="6.5" lengthAdjust="spacingAndGlyphs">0</text><text x="509.3" y="1545.4" font-size="13" text-anchor="end" textLength="12.9" lengthAdjust="spacingAndGlyphs">20</text><text x="509.3" y="1491.8" font-size="13" text-anchor="end" textLength="12.9" lengthAdjust="spacingAndGlyphs">40</text><text x="509.3" y="1438.1" font-size="13" text-anchor="end" textLength="12.9" lengthAdjust="spacingAndGlyphs">60</text><text x="509.3" y="1384.5" font-size="13" text-anchor="end" textLength="12.9" lengthAdjust="spacingAndGlyphs">80</text><text x="509.3" y="1330.8" font-size="13" text-anchor="end" textLength="19.4" lengthAdjust="spacingAndGlyphs">100</text><path d="M520.6 1579.9H524.1M520.6 1566.5H524.1M520.6 1553.1H524.1M520.6 1526.2H524.1M520.6 1512.8H524.1M520.6 1499.4H524.1M520.6 1472.6H524.1M520.6 1459.1H524.1M520.6 1445.7H524.1M520.6 1418.9H524.1M520.6 1405.5H524.1M520.6 1392.1H524.1M520.6 1365.2H524.1M520.6 1351.8H524.1M520.6 1338.4H524.1M650.7 1593.3V1596.8M721.7 1593.3V1596.8M786.5 1593.3V1596.8M663.7 1593.3V1596.8M733.1 1593.3V1596.8M672.9 1593.3V1596.8M741.2 1593.3V1596.8M680.0 1593.3V1598.3M747.5 1593.3V1598.3M685.8 1593.3V1596.8M752.6 1593.3V1596.8M690.8 1593.3V1596.8M757.0 1593.3V1596.8M695.1 1593.3V1596.8M760.7 1593.3V1596.8M698.8 1593.3V1596.8M764.0 1593.3V1596.8M546.2 1593.3V1596.8M552.1 1593.3V1596.8M557.9 1593.3V1596.8M563.8 1593.3V1596.8M569.7 1593.3V1596.8M575.6 1593.3V1596.8M581.5 1593.3V1596.8M587.3 1593.3V1596.8M593.2 1593.3V1596.8M599.1 1593.3V1596.8M605.0 1593.3V1596.8M610.9 1593.3V1596.8M616.7 1593.3V1596.8M622.6 1593.3V1596.8" stroke="#111" stroke-width="1.1"/><path d="M517.1 1593.3H524.1M517.1 1539.6H524.1M517.1 1486.0H524.1M517.1 1432.3H524.1M517.1 1378.7H524.1M517.1 1325.0H524.1M540.3 1593.3V1600.3M628.5 1593.3V1600.3M702.2 1593.3V1600.3M767.0 1593.3V1600.3M580.0 1593.3V1598.3M583.5 1593.3V1598.3M587.0 1593.3V1598.3M590.5 1593.3V1598.3" stroke="#111" stroke-width="1.8"/><text x="541.5" y="1619.0" font-size="12" text-anchor="middle">−10<tspan font-size="7.5" dy="-6">3</tspan></text><text x="590.2" y="1619.0" font-size="12" text-anchor="middle">0</text><text x="631" y="1619.0" font-size="12" text-anchor="middle">10<tspan font-size="7.5" dy="-6">3</tspan></text><text x="704.5" y="1619.0" font-size="12" text-anchor="middle">10<tspan font-size="7.5" dy="-6">4</tspan></text><text x="769" y="1619.0" font-size="12" text-anchor="middle">10<tspan font-size="7.5" dy="-6">5</tspan></text><path d="M640.2 1553.3 H794.2 M640.2 1548.3 V1558.3 M794.2 1548.3 V1558.3" stroke="#000" stroke-width="2" fill="none"/><text x="708.71" y="1527.41" font-size="29.19">10.6±2.4</text>
<text transform="translate(571.37 991.81) scale(1 1.012)" font-size="29.46" fill="#1570be">Lymphoid (%)</text>
<text transform="translate(397.63 1555.90) scale(1 1.035)" font-size="29.36">Counts</text>
<text transform="translate(521.89 1656.30) scale(1 1.019)" font-size="29.26">EGFP</text>
<path d="M438.9 1563 V1643.7 H517.5" stroke="#000" stroke-width="1.5" fill="none"/>
<path d="M429.8 1575.7 L438.9 1561.7 L448.5 1575.7 M503.2 1634.3 L518.3 1643.7 L503.2 1653" stroke="#000" stroke-width="1.5" fill="none"/>
<text x="968.69" y="1067.39" font-size="29.20">EGFP+lymphoid/myeloid ratio</text>
<text transform="translate(1152.99 1111.80) scale(1 0.988)" font-size="30.32" font-style="italic">P</text>
<text transform="translate(1177.53 1112.55) scale(1 0.752)" font-size="31.34">=</text>
<text x="1203.03" y="1112.20" font-size="29.32">0.0442</text>
<text transform="translate(1080.20 1176.70) scale(1 1.033)" font-size="30.00" font-style="italic">P</text>
<text transform="translate(1105.45 1177.00) scale(1 0.792)" font-size="30.93">=</text>
<text transform="translate(1130.61 1176.40) scale(1 1.018)" font-size="29.42">n.s.</text>
<path d="M1070.7 1151.4 V1125.1 H1321.2 V1151.4" stroke="#222" stroke-width="2" fill="none"/>
<path d="M1069.6 1211.5 V1188 M1069.6 1185.2 H1204.8 M1204.8 1188 V1211.5" stroke="#222" stroke-width="2" fill="none"/>
<path d="M989.1 1222.2 H998.6 V1495.8 M989.1 1313.2 H998.6 M989.1 1404.6 H998.6 M989.1 1495.8 H1409 M1066.6 1495.8 V1505.5 M1203.6 1495.8 V1505.5 M1340.6 1495.8 V1505.5" stroke="#000" stroke-width="2.1" fill="none"/>
<text x="958.30" y="1230.50" font-size="29.53">1</text>
<text transform="translate(935.65 1321.31) scale(1 1.101)" font-size="26.18">0.1</text>
<text transform="translate(919.31 1412.50) scale(1 1.089)" font-size="27.13">0.01</text>
<text transform="translate(901.57 1503.41) scale(1 1.033)" font-size="28.20">0.001</text>
<circle cx="1067" cy="1251" r="5.4" fill="#000"/>
<circle cx="1050.8" cy="1282.8" r="5.4" fill="#000"/>
<circle cx="1067.7" cy="1293" r="5.4" fill="#000"/>
<circle cx="1067" cy="1315.5" r="5.4" fill="#000"/>
<path d="M1021.5 1278.3 H1112.8 M1043.3 1266.7 H1090.2 M1043.3 1296 H1090.2 M1066.7 1266.7 V1296" stroke="#000" stroke-width="2.2" fill="none"/>
<rect x="1198.3999999999999" y="1229.8999999999999" width="10.4" height="10.4" fill="#000"/>
<rect x="1181.8" y="1270.1" width="10.4" height="10.4" fill="#000"/>
<rect x="1198.3999999999999" y="1276.5" width="10.4" height="10.4" fill="#000"/>
<rect x="1214.6" y="1271.2" width="10.4" height="10.4" fill="#000"/>
<path d="M1157.8 1261.4 H1249.8 M1180.4 1250.9 H1227.3 M1180.4 1277 H1227.3 M1203.6 1250.9 V1277" stroke="#000" stroke-width="2.2" fill="none"/>
<path d="M1324.2 1388.7 L1330.0 1399.2 L1318.4 1399.2 Z" fill="#000"/>
<path d="M1357.6 1388.7 L1363.3999999999999 1399.2 L1351.8 1399.2 Z" fill="#000"/>
<path d="M1340.7 1405.2 L1346.5 1415.7 L1334.9 1415.7 Z" fill="#000"/>
<path d="M1340.7 1460.7 L1346.5 1471.2 L1334.9 1471.2 Z" fill="#000"/>
<path d="M1294.9 1408.1 H1386.1 M1317.4 1398.4 H1364.3 M1317.4 1420.9 H1364.3 M1340.7 1398.4 V1420.9" stroke="#000" stroke-width="2.2" fill="none"/>
<text transform="translate(1001.15 1611.09) rotate(-45)" font-size="28.89" font-style="italic">dnmt1</text>
<text transform="translate(1051.55 1547.40) rotate(-45)" font-size="21.18">+/+</text>
<text transform="translate(1137.25 1614.89) rotate(-45)" font-size="28.89" font-style="italic">dnmt1</text>
<text transform="translate(1186.75 1550.72) rotate(-45)" font-size="21.81" font-style="italic">+/m</text>
<text transform="translate(1271.26 1618.78) rotate(-45)" font-size="29.00" font-style="italic">dnmt1</text>
<text transform="translate(1321.43 1552.21) rotate(-45)" font-size="20.71" font-style="italic">m/m</text>
</svg></body></html>
